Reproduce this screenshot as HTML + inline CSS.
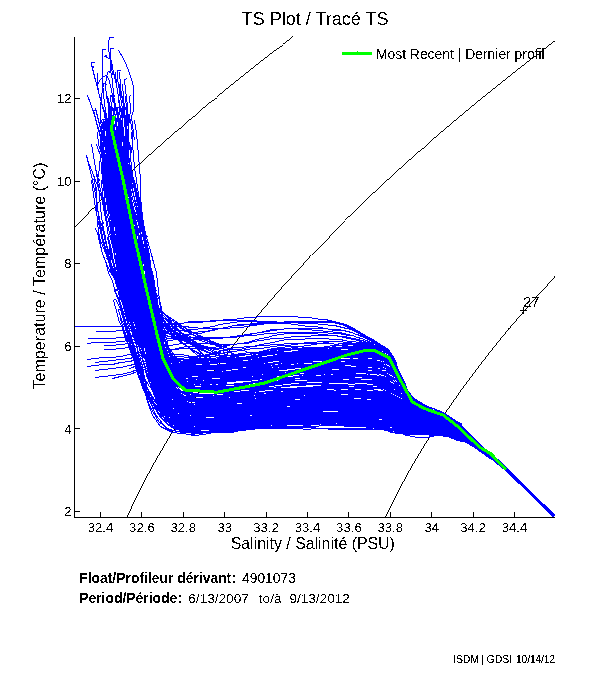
<!DOCTYPE html>
<html><head><meta charset="utf-8"><title>TS Plot</title>
<style>html,body{margin:0;padding:0;background:#fff;}body{width:611px;height:675px;position:relative;overflow:hidden;font-family:"Liberation Sans",sans-serif;}text{white-space:pre}</style></head>
<body>
<svg width="611" height="675" viewBox="0 0 611 675" style="position:absolute;left:0;top:0">
<rect width="611" height="675" fill="#fff"/>
<defs><clipPath id="ax"><rect x="74" y="36" width="481" height="482"/></clipPath></defs>
<g clip-path="url(#ax)" fill="none" shape-rendering="crispEdges">
<path d="M293.1 36.5L287.9 40.5L282.7 44.5L277.5 48.5L272.3 52.5L267.2 56.5L262.1 60.5L257.0 64.5L252.0 68.5L246.9 72.5L241.9 76.5L237.0 80.5L232.0 84.5L227.1 88.5L222.2 92.5L217.4 96.5L212.5 100.5L207.7 104.5L202.9 108.5L198.2 112.5L193.5 116.5L188.8 120.5L184.1 124.5L179.5 128.5L174.8 132.5L170.3 136.5L165.7 140.5L161.2 144.5L156.7 148.5L152.2 152.5L147.7 156.5L143.3 160.5L138.9 164.5L134.6 168.5L130.2 172.5L125.9 176.5L121.6 180.5L117.4 184.5L113.2 188.5L109.0 192.5L104.8 196.5L100.7 200.5L96.6 204.5L92.5 208.5L88.4 212.5L84.4 216.5L80.4 220.5L76.4 224.5L74.5 226.5" stroke="#000" stroke-width="0.99"/>
<path d="M554.5 41.2L550.1 44.5L544.9 48.5L539.7 52.5L534.5 56.5L529.3 60.5L524.2 64.5L519.1 68.5L514.0 72.5L508.9 76.5L503.9 80.5L498.9 84.5L493.9 88.5L488.9 92.5L484.0 96.5L479.1 100.5L474.2 104.5L469.4 108.5L464.6 112.5L459.8 116.5L455.0 120.5L450.3 124.5L445.6 128.5L440.9 132.5L436.2 136.5L431.6 140.5L427.0 144.5L422.5 148.5L417.9 152.5L413.4 156.5L408.9 160.5L404.4 164.5L400.0 168.5L395.6 172.5L391.2 176.5L386.9 180.5L382.6 184.5L378.3 188.5L374.0 192.5L369.8 196.5L365.6 200.5L361.4 204.5L357.2 208.5L353.1 212.5L349.0 216.5L344.9 220.5L340.9 224.5L336.9 228.5L332.9 232.5L329.0 236.5L325.0 240.5L321.1 244.5L317.3 248.5L313.4 252.5L309.6 256.5L305.9 260.5L302.1 264.5L298.4 268.5L294.7 272.5L291.0 276.5L287.4 280.5L283.8 284.5L280.2 288.5L276.7 292.5L273.2 296.5L269.7 300.5L266.2 304.5L262.8 308.5L259.4 312.5L256.0 316.5L252.7 320.5L249.4 324.5L246.1 328.5L242.9 332.5L239.6 336.5L236.4 340.5L233.3 344.5L230.2 348.5L227.1 352.5L224.0 356.5L221.0 360.5L218.0 364.5L215.0 368.5L212.0 372.5L209.1 376.5L206.2 380.5L203.4 384.5L200.6 388.5L197.8 392.5L195.0 396.5L192.3 400.5L189.6 404.5L186.9 408.5L184.3 412.5L181.7 416.5L179.1 420.5L176.6 424.5L174.1 428.5L171.6 432.5L169.1 436.5L166.7 440.5L164.3 444.5L162.0 448.5L159.7 452.5L157.4 456.5L155.1 460.5L152.9 464.5L150.7 468.5L148.5 472.5L146.4 476.5L144.3 480.5L142.3 484.5L140.2 488.5L138.2 492.5L136.3 496.5L134.3 500.5L132.4 504.5L130.6 508.5L128.7 512.5L126.9 516.5" stroke="#000" stroke-width="0.99"/>
<path d="M554.5 276.4L554.4 276.5L550.7 280.5L547.0 284.5L543.3 288.5L539.7 292.5L536.1 296.5L532.6 300.5L529.0 304.5L525.5 308.5L522.1 312.5L518.6 316.5L515.2 320.5L511.8 324.5L508.5 328.5L505.1 332.5L501.8 336.5L498.6 340.5L495.3 344.5L492.1 348.5L488.9 352.5L485.8 356.5L482.7 360.5L479.6 364.5L476.5 368.5L473.5 372.5L470.5 376.5L467.6 380.5L464.6 384.5L461.7 388.5L458.8 392.5L456.0 396.5L453.2 400.5L450.4 404.5L447.7 408.5L444.9 412.5L442.2 416.5L439.6 420.5L437.0 424.5L434.4 428.5L431.8 432.5L429.3 436.5L426.8 440.5L424.3 444.5L421.9 448.5L419.4 452.5L417.1 456.5L414.7 460.5L412.4 464.5L410.1 468.5L407.9 472.5L405.7 476.5L403.5 480.5L401.3 484.5L399.2 488.5L397.1 492.5L395.1 496.5L393.0 500.5L391.0 504.5L389.1 508.5L387.2 512.5L385.3 516.5" stroke="#000" stroke-width="0.99"/>
<g transform="translate(0.5,0.5)">
<path d="M108 120l-2-1 -1 1 2 12 3 12 2 11 1 12 2 13 1 14 3 14 2 15 1 14 2 13 2 11 2 11 2 10 3 9 2 9 2 9 3 8 2 8 3 8 2 8 3 9 2 9 3 8 3 8 4 6 3 5 4 5 5 3 5 3 5 2 7 2 7 1 9 1 8 0 9-1 8-1 9-2 9-2 9-2 9-1 8-1 8-1 9-1 7 0 8-1 8 0 7 0 7 0 7 1 7 1 6 1 7 0 6 0 6 0 6-1 4 0 5 0 4 1 3 2 4 2 4 2 4 2 4 3 4 3 3 2 3 2 3 3 3 2 3 2 4 2 3 2 5 1 4 2 4 1 3 2 4 1 3 1 2 1 3 2 4 2 3 3 4 3 4 3 4 4M104 237l3 13 3 11 4 11 4 9 5 10 5 9 5 9 3 9 2 8 2 8 3 9 4 8 4 8 4 8 3 8 3 6 4 7 3 5 4 5 4 4 6 3 7 2 7 1 8 1 9 0 8 0 9 0 9-1 9-3 9-2 9-3 9-1 8-1 8 0 8 0 7 0 8 0 7 0 8 0 7 0 7-1 7-1 7 0 6 0 6 0 6 2 5 2 4 2 5 2 4 2 4 2 4 2 5 2 4 2 4 2 4 1 4 2 3 2 4 2 3 1 3 2 4 1 3 1 3 1 3 1 3 0 3 1 3 1 2 1M127 223l2 14 2 13 2 11 2 11 2 10 2 9 2 9 2 9 2 8 2 8 2 7 2 8 3 8 2 7 2 9 3 7 2 8 3 6 4 5 4 4 4 4 5 3 7 2 8 1 8 0 8 0 9 0 8 0 9 0 9-1 9-2 8-1 9-2 8-1 8-1 8 0 8 0 7-1 8 0 7 0 8 0 6 0 7 1 7 0 6 1 6 0 6 1 5 1 4 1 4 1 4 2 4 1 5 2 4 2 4 2 4 2 4 2 3 2 3 2 3 2 4 2 3 1 4 2 3 1 4 2 4 1 3 1 3 1 3 1 3 1 2 2 3 2 4 2 3 3 4 3M105 250l5 11 4 11 4 9 5 10 4 9 3 9 3 9 3 8 3 9 4 8 4 8 5 8 5 6 6 4 5 2 6 1 6-1 5-1 6-2 6-2 8-1 8 0 8 0 8 0 8 0 8-1 8-1 8-1 8-2 9-2 8-1 8-2 9-1 8 0 7 0 7 0 6 1 6 1 6 0 6 0 5 1 6 1 5 1 5 1 4 1 4 1 4 0 3 0 3 0 2 2 3 2 2 4 3 5 2 4 2 4 2 5 2 4 3 4 2 5 4 3 5 4 6 2 5 2 6 2 5 2 4 2 4 2 3 2 4 2M115 180l2 14 3 14 3 15 3 14 2 13 2 11 3 11 2 10 3 9 2 9 2 9 2 8 3 8 3 7 4 7 3 7 1 8 2 8 1 9 2 8 3 6 3 6 3 6 4 6 5 5 6 3 7 2 9-1 9 0 8 0 9-1 9-1 9 0 8-1 9 0 8 0 8-1 8 0 8-1 8-1 8-1 8 0 7 0 8 0 7 1 7 1 7 0 7 1 6 1 6 0 5 0 5 1 4 1 4 1 5 1 4 2 5 2 5 3 5 2 4 1 4 2 3 0 3 0 2 1 3 0 3 1 3 1 4 2 3 1 4 2 3 1 2 1 3 1 3 1 3 2 3 2 3 3 4 3 3 3 4 3 4 3M100 180l-2-1 0 1 3 14 2 14 3 15 2 14 2 13 3 11 3 11 3 9 3 10 3 9 2 9 3 9 3 9 4 8 3 9 3 9 4 9 4 9 3 8 3 9 3 7 3 8 4 6 4 5 5 5 7 2 8 1 9-1 8 0 9 0 9 0 8-1 10 0 8-1 9 0 8-1 9 0 7-1 8 0 8 0 8 0 8 0 8 1 8 1 7 2 7 2 8 1 7 0 7-1 6 0 6 0 5 0 4 1 5 1 5 1 4 0 5 1 5 0 5 1 4 1 4 0 4 0 3 1 3 0 3 1 3 1 3 1 3 1 3 1 2 1 3 0 2 1 3 1 2 1 3 1 3 3 3 2 4 3M119 72l1 12 1 12 4 12 5 12 2 12 0 12 -2 11 -2 12 0 13 1 14 3 14 4 15 2 14 2 13 2 11 1 11 1 10 2 9 1 9 1 9 2 8 1 7 1 8 2 7 1 8 2 8 2 8 2 8 2 8 3 7 2 7 3 6 5 5 5 3 7 1 8 0 9 0 9-1 8 0 9-1 8 0 9-1 9-1 8-1 9 0 8-1 8-1 8 0 8-1 7 0 8 0 7 0 8 1 7 0 6 1 7 0 7 1 6 0 6 1 5 2 5 1 4 2 4 1 4 2 5 1 4 2 5 2 4 1 4 2 4 1 3 1 3 2 3 1 4 1 3 1 3 1 3 1 4 1 3 1 3 1 2 1 3 2 3 1 3 2 3 2M107 155l2 12 2 13 1 14 2 14 3 15 4 14 4 13 4 11 3 11 3 10 4 9 3 9 3 9 2 8 1 8 2 7 2 8 4 7 4 6 3 5 4 5 4 4 4 3 4 1 5 2 4 1 6 1 7 1 8 0 8-1 9-1 8 0 8-1 8 0 8 0 8 0 8-1 8 0 8-2 9-1 8-2 8-2 7-1 7-1 7 0 6 0 6 0 6 0 5 0 6 0 5 1 4 1 4 1 4 2 4 1 3 2 3 2 3 3 3 4 2 4 3 4 3 4 2 3 3 3 2 4 2 3 4 3 4 3 6 2 5 3 6 2 5 3 4 2 3 1 3 2 4 1 3 3 4 3 5 4 4 4 4 4 5 4 4 4 4 3M120 120l-4-1 -1 1 3 12 0 12 0 11 1 12 1 13 1 14 1 14 2 15 2 14 3 13 2 11 3 11 3 10 2 9 1 9 2 9 1 8 2 8 2 8 3 7 2 8 3 9 2 8 3 7 3 7 3 6 4 4 4 4 5 2 6 2 7 1 8 0 8 0 9 1 8 0 8 0 9-1 9-1 8-1 9-1 8-1 8 0 8-1 8 0 8-1 7 0 8 0 7-1 7 0 7 1 7 0 6 1 6 1 6 1 6 1 5 1 4 1 4 2 4 1 4 2 4 1 4 2 4 2 4 3 4 2 3 2 3 1 3 2 3 2 3 1 3 2 4 1 4 1 4 2 4 1 3 2 3 1 3 1 3 1 3 2 3 3 4 3 4 4 4 3 4 4 4 3 4 2M120 120l-1-1 -1 1 1 12 1 12 1 11 1 12 2 13 2 14 4 14 3 15 3 14 2 13 1 11 2 11 2 10 3 9 2 9 3 8 2 8 3 8 3 6 3 6 3 6 3 5 3 4 3 4 3 3 4 3 3 1 5 0 5 0 6-1 7-1 8-1 8 0 9-1 7 1 8 0 8-1 8-1 8-1 8-1 8-1 8 0 8 0 8-1 7-1 7-1 7-2 7-2 6-1 5 0 5-1 6 0 4-1 5-1 4 0 3 0 4 2 3 2 2 3 3 5 3 4 2 5 2 4 1 5 2 4 2 4 1 5 2 5 3 5 4 4 5 3 6 3 6 2 7 3 5 2 5 3 4 2 3 2 4 2 4 3 5 4 4 5 5 4 5 5 5 5 4 4M120 155l3 12 2 13 1 14 2 14 1 15 3 14 3 13 3 11 2 11 3 10 2 9 1 9 2 9 1 8 2 7 4 7 3 7 3 6 2 6 2 7 3 6 4 4 4 2 3 2 4 2 5 2 5 2 6 2 8 0 8 0 9-1 9-1 8-1 9-2 8-1 8-1 8-1 8 0 8 0 8 0 8-1 8 0 6 1 7 1 7 2 6 1 6 0 6 0 6 0 6 0 5 1 5 0 5 1 4 0 3 0 3 0 3 0 3 1 3 3 3 4 3 4 3 4 3 4 2 4 3 3 3 4 3 3 5 3 5 2 5 2 5 2 4 2 4 1 3 1 3 1 4 2M100 132l-2-1 -1 1 1 12 4 11 5 12 4 13 2 14 0 14 0 15 1 14 2 13 2 11 2 11 2 9 3 10 3 9 4 9 3 9 2 8 3 9 3 8 3 8 4 9 4 8 4 6 5 5 6 2 5 0 6 0 6-2 7-1 7-1 8 0 9-1 8-1 9 0 8-1 8-2 8-1 9-1 8-1 8-1 8-1 9-1 8-2 8-1 7-2 7 0 6 0 6 1 6 1 5 1 6 1 5 1 6 0 4 1 4 0 4 1 4 1 3 2 3 2 3 2 2 2 2 3 2 3 3 4 2 4 3 5 3 5 3 4 4 4 5 2 4 2 6 2 5 1 4 2 4 2 4 2 3 1 4 3 4 2M117 250l3 11 3 11 3 9 2 10 3 9 2 9 2 9 2 8 2 9 3 8 2 10 3 9 3 10 3 9 3 8 4 7 3 6 4 5 5 4 6 3 7 2 8 0 9 0 8-1 9 0 9 0 9-1 8-1 9 0 9-1 8 0 8-1 8-1 8-1 8 0 8-1 8 0 8 1 7 0 7 1 8 1 7 1 6 0 7 1 6 1 5 1 5 1 5 2 4 1 5 2 5 1 5 2 5 1 4 1 5 1 3 1 4 0 3 1 3 0 3 1 4 1 3 1 3 1 2 1 3 1 3 1 2 1 3 1 2 1M104 120l0 12 1 12 4 11 6 12 5 13 3 14 2 14 1 15 2 14 2 13 3 11 2 11 2 10 2 9 2 9 2 9 2 8 2 8 3 7 3 7 4 7 3 6 3 7 4 5 3 4 4 3 4 2 5 2 4 1 6 2 7 1 7 0 9 0 8-1 9-1 8-2 9-2 8-1 9-2 8-1 8-2 9-1 8-1 8-1 7-1 7 0 7 0 6 0 7 1 6 0 5 0 6 0 6 1 5 0 4 1 4 1 4 0 3 2 4 1 3 2 3 3 2 4 3 4 3 3 2 4 2 2 2 4 2 3 2 4 4 4 5 3 6 3 6 2 5 2 5 2 4 2 3 2 4 1M144 317l-2-1 -1 1 2 8 3 8 2 8 3 8 3 8 2 8 3 8 3 7 4 6 3 5 4 4 5 4 5 3 6 3 7 2 8 2 8 1 9 0 8 0 9-1 9 0 9 0 8 0 8-1 8 0 8-1 8-2 9-1 8-1 7-1 8 0 7 0 7 1 7 0 7 0 7 0 6 0 6 0 5 0 4 1 5 0 4 1 4 2 4 1 4 1 4 2 4 2 4 1 3 3 4 2 4 3 4 3 4 1 3 2 4 1 2 0 3 1 3 0 3 1 3 1 2 1 3 2 3 2 4 2M107 120l-3-1 -1 1 1 12 2 12 3 11 3 12 2 13 2 14 4 14 3 15 2 14 3 13 2 11 3 11 2 10 1 9 1 9 1 9 2 8 2 8 2 8 3 8 3 8 4 8 4 7 4 5 5 5 4 3 4 2 5 2 5 1 5 2 7 1 8 0 8 0 9-1 8 0 8-1 9 0 8-2 9-1 8 0 8-1 8 0 8 0 8 0 7-1 8 0 7-1 7-1 7 0 6 0 6 0 6 0 6 1 5 0 5 1 5 1 4 1 4 2 3 2 4 2 3 3 4 3 3 2 3 3 3 2 2 3 3 3 2 3 3 3 4 2 4 3 5 2 5 2 4 2 5 1 3 2 4 2 3 1 3 2 4 3 3 2 4 4 4 4 5 3 4 4M121 271l-2 0 -1 1 3 9 3 10 4 9 3 9 4 9 4 8 3 8 4 8 4 8 4 7 5 6 4 5 5 4 4 3 4 2 4 3 5 1 6 2 6 1 8 2 8 0 8 0 9 0 8-1 8-1 9-2 9-1 8-1 8-1 8-2 9-1 8-3 8-1 8-2 7 0 6 1 6 2 6 3 6 2 6 2 6 0 5 0 5-1 5 0 4-1 3 1 4 1 3 2 3 2 3 2 3 3 3 3 3 4 3 3 2 4 3 3 3 4 4 2 4 3 4 2 5 1 5 2 5 2 3 1 4 2 3 2 3 2 4 2 4 3 4 4 4 4 5 4 4 4 4 3 4 3 4 3 5 4 6 6 8 8 9 9 10 10 10 10 10 10M134 272l-4-1 -1 1 3 10 3 9 3 9 2 9 2 8 3 8 3 8 4 7 3 7 4 6 4 6 4 4 5 3 4 2 5 1 4 1 5 1 5 1 7 0 8 0 8 0 9-1 8-1 8-1 9-1 8-2 8-2 8-1 9-1 8-1 8-1 8-2 8-1 7-1 7 0 6 0 6 0 5 1 6 2 5 1 6 1 5 1 4 0 4 1 4 1 3 1 3 2 3 2 3 3 2 3 3 3 2 4 2 4 2 4 3 4 2 4 3 4 3 3 5 3 5 3 6 2 5 1 5 2 4 2 4 2 3 2 4 2 4 3 4 4 5 4 5 5 4 5 5 4 4 4M122 180l3 14 3 14 4 15 3 14 2 13 2 11 2 11 2 10 3 9 3 9 3 8 2 8 2 8 2 6 3 6 2 7 2 6 2 6 2 7 2 5 2 6 3 5 3 5 4 4 5 4 6 3 7 2 8 1 8 0 9 0 8-2 9-2 9-2 9-2 9-2 8-1 8 0 8-1 8 0 8-1 7 0 7 0 7 1 7 0 7 1 6 1 6 0 6 0 6 0 6 1 4 0 4 0 4 1 4 2 4 2 3 2 4 3 4 2 3 3 4 3 3 2 3 3 3 3 3 2 3 3 4 1 4 2 5 1 4 2 4 1 3 2 3 1 3 1 3 2M147 317l2 8 1 7 2 8 1 8 1 9 1 10 1 10 1 10 2 9 3 9 3 7 5 5 5 4 7 2 8 1 8 1 8 1 8 2 9 0 9 0 9-1 10-1 9-1 8-2 8-1 8 0 8-1 8 0 8 1 8 0 8 0 8 0 8 0 7 0 8 0 7 1 7 0 6 1 6 1 5 1 5 2 4 2 5 1 6 1 5 0 5 1 5 0 5 1 4 0 4 0 3 0 4 0 2 0 3 1 3 1 2 0 3 1 2 1 3 1 2 1 2 0M118 194l2 14 2 15 2 14 3 13 3 11 4 11 4 10 3 9 2 9 2 9 1 8 2 8 3 7 2 7 4 7 3 6 4 6 4 4 4 4 5 1 4 1 5 0 5-1 6 0 7 0 8-1 9 0 8-1 8 0 8 0 8 0 8-1 8-1 8-1 8-1 8-1 8-1 8 0 8-1 7-1 7 0 6-1 6-1 6 0 5 0 6 0 5 0 5 0 4 1 4 1 3 1 4 1 3 2 3 3 2 4 3 4 2 5 2 4 3 4 2 4 2 4 2 4 3 4 4 4 5 3 5 3 6 2 6 2 5 3 4 1 3 2 4 2 3 2 4 2 4 4 5 4 5 5 4 5 5 4 4 4M143 300l-4-1 -1 1 3 9 1 8 1 8 0 9 2 8 3 9 2 9 3 9 3 8 3 8 4 6 3 5 4 5 5 4 6 2 7 2 7 1 9 0 8 0 9 0 8 0 9 0 9 0 8-1 9 0 8-1 8-1 8 0 8-1 8 0 8 0 8 0 7 0 8 1 7 0 7 1 7 0 7 1 6 1 6 1 5 2 5 1 5 2 4 0 4 0 5 1 4 0 4 1 5 2 4 1 3 1 4 1 3 1 3 2 3 1 4 1 3 2 4 1 3 2 3 1 3 1 2 0 3 1 2 1 3 1 3 2 4 3 3 3 4 3 4 4M107 180l1 14 3 14 6 15 6 14 5 13 3 11 4 11 3 10 4 9 2 9 3 9 2 8 2 7 1 8 1 7 1 8 1 9 1 10 1 9 2 10 2 9 2 8 3 8 4 6 6 4 7 2 7 1 9 0 8 0 9 0 9 0 9 0 9-1 9-1 9 0 8-1 8 1 7 1 8 1 7 1 8 1 8-1 9-1 8-1 8-1 8-2 7 0 7 0 7 1 6 1 6 2 5 2 4 1 5 2 5 1 5 1 5 1 6 0 5 1 4 1 5 0 4 1 3 0 4 1 3 0 3 1 3 1 2 1 2 0 3 1 2 1 2 0 2 1 3 1 2 1 3 1M104 132l0 12 -2 11 0 12 1 13 4 14 4 14 4 15 2 14 3 13 2 11 2 11 3 9 3 10 3 9 3 9 3 8 2 9 2 8 2 8 3 9 2 9 2 10 2 9 3 9 3 7 3 7 4 7 3 7 4 8 6 6 6 4 9 1 8-1 10-2 9-2 10-3 10-2 9-2 9 0 8 1 8 1 7 1 8 0 8 0 8-1 8-1 9-1 8 0 8-1 7 0 8 1 7 1 7 1 6 2 6 1 5 1 5 1 5 1 4 1 6 0 5 1 5 0 5 0 5 0 4 1 4 0 3 0 3 0 4 1 3 0 2 1 3 1 2 1 3 1 2 1 2 0 3 1 2 1M127 250l2 11 2 11 3 10 3 9 4 9 2 9 2 8 1 8 1 8 2 8 4 7 4 7 4 6 4 5 4 5 4 3 3 3 5 2 5 1 6 0 7 1 8 0 8-1 9-1 8-1 8 0 9-1 8-1 8-1 8-1 9-1 8-1 8-1 8-1 8-1 7-1 7 0 7 0 6 1 6 0 6 0 6 0 5 0 6 0 4 1 5 1 3 1 4 1 3 2 3 2 3 2 3 3 3 4 3 3 3 4 2 4 3 4 3 3 3 4 3 3 4 2 5 2 5 2 5 2 5 2 4 2 3 1 3 2 4 1 3 3 4 3 5 4 4 4 5 5 4 4 4 3 4 3M117 250l-3-1 -1 1 4 11 3 11 3 9 3 10 2 9 3 9 3 9 3 8 3 9 3 8 3 9 3 9 3 9 3 9 3 8 3 6 4 6 4 5 5 4 5 3 7 2 8 1 8 0 9 0 8 0 9 0 9 0 9-1 9-1 8-1 9 0 8-1 7 0 8-1 8 0 8 0 8 0 8 0 7 0 8 0 7 0 7 1 6 0 7 0 6 1 5 1 5 2 5 1 4 2 5 2 4 1 5 1 5 1 4 1 4 0 4 1 3 1 3 1 4 2 4 1 3 2 4 1 3 1 3 1 2 1 3 1 2 0 2 1 3 1 3 1 3 3 3 2 4 3 3 3 4 3 4 3 4 3M119 167l-2-1 0 1 4 13 4 14 3 14 4 15 4 14 4 13 3 11 2 11 3 10 2 9 2 9 1 8 1 8 1 8 1 7 2 6 2 7 2 7 2 7 2 7 1 8 3 6 2 6 3 6 4 6 4 5 6 3 8 2 8 0 8 0 9-1 9-1 9-1 9-2 9-1 8-1 9-2 8-2 9-2 8-1 8 0 7 0 7 0 8 1 7 0 6 1 7 0 7 1 6 0 6 1 6 2 5 1 4 1 4 1 4 1 4 1 4 1 4 2 4 2 4 2 4 1 3 2 3 2 3 2 3 2 4 2 4 2 4 2 4 1 3 2 4 1 3 1 3 1 2 1 3 1 3 2 4 3 3 3 4 3 4 4 4 3 4 3 4 3M137 208l2 15 2 14 1 13 1 11 2 11 1 10 1 9 1 9 2 8 2 8 2 8 1 7 0 8 0 8 0 9 0 11 1 10 1 10 2 10 3 8 3 6 5 5 6 2 7 2 8 1 8 1 9 1 8 0 8 1 9 0 10-1 9-1 8 0 9-1 8 0 8-1 7 0 8 0 8 0 8 1 8 0 8 0 8 0 8 0 7-1 7-1 7 0 6 1 6 1 5 2 4 3 5 2 5 2 5 1 6 1 5 0 5 1 5 1 4 0 4 0 4 0 3 1 3 0 2 0 3 1 2 1 3 0 2 1 2 0 2 1 3 0 2 1 3 2 3 2 3 2M115 96l-2-1 -1 1 3 12 3 12 1 12 0 12 -2 11 -1 12 0 13 2 14 3 14 2 15 3 14 1 13 1 11 1 11 2 10 2 9 2 9 2 9 2 8 1 9 2 8 2 9 2 9 2 10 1 10 2 11 3 9 3 8 4 7 4 5 5 4 6 3 8 1 8 0 8 0 9 0 8 0 9 1 8-1 10 0 9-1 8 0 8-1 8 0 8 0 8 0 8 0 8 0 8-1 8 0 8 0 8-1 7 0 7 1 7 0 7 1 6 1 5 1 5 1 5 1 5 1 4 0 5 1 5 0 5 1 4 2 5 1 5 2 4 1 4 1 3 1 3 0 3 0 2 1 3 1 2 1 3 0 3 1 2 1 2 1 3 1 3 1 2 2 3 2 4 3 3 2 4 3 4 3 4 3M95 108l3 12 3 12 3 12 2 11 2 12 2 13 3 14 2 14 2 15 4 14 2 13 3 11 1 11 0 9 1 10 2 9 3 9 4 9 3 8 3 8 2 8 3 9 2 9 2 10 2 9 2 10 3 8 3 7 4 6 4 5 6 5 6 3 8 2 8 0 9-1 9 0 9-1 9-1 9-1 9-1 9-1 8 0 9-1 7-1 8 0 8-1 8 0 9-1 8 0 7-1 8 0 7 1 7 1 7 1 7 1 6 1 5 1 5 1 5 0 4 1 5 0 5 1 5 1 5 1 4 2 5 1 4 1 4 1 3 0 4 1 3 1 3 1 3 1 3 1 3 1 3 1 2 1 3 1 2 1 3 1 2 1 3 2 3 2 3 2 3 3 4 3 4 2 4 3M105 167l2 13 2 14 3 14 3 15 2 14 3 13 2 11 2 11 2 9 4 10 3 9 3 9 2 8 2 9 2 8 2 9 2 9 2 9 2 10 3 10 3 8 3 8 4 6 4 6 5 4 5 3 7 3 8 1 8 0 9 0 8 0 9 0 8 0 9 0 9 0 9 0 8-1 8-1 9-1 8-1 8-1 8 0 8 0 8-1 7 0 8-1 7 0 7 0 7 1 7 1 6 1 5 2 5 2 5 1 4 1 5 1 5 0 5 1 4 1 5 0 4 1 4 1 4 1 3 1 3 1 4 0 3 2 3 1 3 1 3 1 3 1 2 1 3 1 2 0 3 1 2 2 3 2 3 2 4 3M105 120l1 12 -1 12 -1 11 0 12 2 13 4 14 5 14 4 15 3 14 2 13 3 11 3 11 3 10 4 9 3 9 4 9 2 8 1 8 0 8 3 8 3 7 5 6 5 4 5 4 5 3 4 2 4 1 5 1 4 1 6 1 6 1 8 1 8-1 9 0 8-1 8-1 8-1 8-1 9-1 8-2 8-1 9-2 8-1 8 0 7-1 7-1 7-1 7-1 6 0 6 0 5 0 6-1 5 0 5 0 4 0 4 1 3 0 3 1 3 0 3 2 2 3 3 4 2 5 2 5 2 5 3 5 2 5 2 4 3 5 5 4 5 3 6 3 6 3 5 2 5 2 4 2 4 2 3 2 4 2 4 3 4 3 4 4 5 4 4 5 5 4 4 3 4 3M122 96l1 12 2 12 2 12 2 12 1 11 -1 12 0 13 0 14 3 14 3 15 4 14 3 13 2 11 1 11 2 10 1 9 2 9 2 8 2 8 2 7 2 7 1 7 2 7 1 7 2 7 1 8 2 7 2 7 3 6 3 6 4 5 4 4 7 3 7 1 8 1 9 0 8 0 8 0 9 1 9 0 8 0 9-1 8 0 8-2 9-2 8-2 8-2 8-1 7 0 8 0 7 0 7 0 7 0 7 0 6 0 6 1 6 0 5 0 4 1 4 1 4 2 4 2 5 3 4 3 4 2 5 2 3 2 4 1 3 2 3 1 3 2 3 2 4 1 3 1 4 1 3 2 4 1 3 1 3 1 3 1 2 2 4 2 3 2 3 3 4 3M127 108l1 12 0 12 0 12 -1 11 -2 12 0 13 1 14 3 14 2 15 2 14 2 13 3 11 4 11 3 10 2 9 1 9 1 9 0 8 0 8 0 7 1 9 0 8 1 10 2 10 2 10 3 8 3 7 4 5 4 5 5 4 5 3 7 2 8 0 9 0 8 0 9 0 8-1 9 0 9-1 9-1 9-1 8-1 8 0 8-1 8 0 8 0 8 0 7 0 8 1 7 0 8 1 7 1 7 0 6 0 7-1 6-1 5 0 5 0 4 1 4 2 5 2 4 2 5 2 5 2 4 2 4 1 4 1 4 2 3 1 3 1 4 1 3 2 3 1 4 1 3 1 3 1 2 1 3 1 2 1 3 0 3 2 3 2 3 3 3 3 4 3M105 120l2 12 2 12 0 11 0 12 1 13 1 14 3 14 5 15 3 14 2 13 1 11 0 11 0 9 2 10 3 9 2 9 3 9 2 8 3 9 3 8 3 9 2 9 4 9 3 8 4 7 4 5 4 6 4 4 4 5 6 3 6 2 8 1 9 0 9-2 9-1 9-2 9-2 9-1 8-1 9-1 8 0 8-1 8 0 8 0 8-1 7 0 8 1 7 0 8 0 7 0 7 1 6 1 7 1 6 1 6 1 5 1 5 1 4 1 4 1 4 1 5 2 4 1 4 1 4 1 3 1 4 1 3 2 3 2 3 2 4 1 4 2 4 2 3 1 4 1 3 1 3 1 2 1 3 1 3 2M146 308l-4 0 0 1 1 8 2 8 1 8 2 8 2 9 2 9 1 9 2 10 3 9 2 8 3 7 4 7 4 6 5 4 7 3 8 1 8-1 9-1 9-1 9-1 9-2 10 0 8-1 9 0 8 0 8 0 8 0 8-1 8 0 7 0 8 1 8 0 8 0 8 0 7-1 7-1 7-2 7 0 6 0 5 2 5 2 5 3 4 2 5 2 5 1 5 1 5 1 5 1 4 1 4 1 4 1 3 0 4 1 3 0 3 1 2 1 3 1 3 1 3 1 2 1 3 1 2 1 3 1 2 1 3 2 3 2 4 3 3 3 4 3 4 2M114 144l-2 11 -2 12 1 13 2 14 2 14 2 15 3 14 2 13 2 11 3 11 2 10 3 9 4 9 3 9 3 8 1 8 2 8 2 8 3 8 4 8 4 7 4 6 4 5 4 3 5 2 5 1 5 2 5 2 6 2 8 2 8 0 8 0 9-1 8-1 9-1 8-1 9-1 8-1 8-1 9-2 8-1 8-1 8-1 7 0 7 1 7 0 6 1 6 1 7 1 6 0 6 0 5 1 5 2 5 1 4 2 4 1 4 1 3 1 4 2 3 3 4 2 3 3 3 2 2 2 3 2 2 3 3 2 3 3 4 2 5 2 5 2 4 1 4 2 4 2 3 1 4 2 3 2 3 2 4 3 4 4M101 180l1 14 3 14 4 15 5 14 4 13 3 11 3 11 2 9 3 10 3 9 2 9 2 9 3 8 4 8 3 8 5 7 4 7 4 7 5 4 5 3 5 3 4 2 4 2 4 2 6 2 6 1 8 0 9-1 9-1 8-2 9-1 8-1 8-2 9-2 8-2 9-1 8-2 8-1 8 0 7 1 7 1 7 1 6 1 7 1 6 0 6 0 6-1 5 0 6 1 4 0 5 0 3 0 4 0 3 1 3 1 3 3 3 4 3 4 2 5 3 4 3 3 2 4 3 3 2 3 4 3 4 3 5 2 5 2 6 2 5 3 4 2 4 2 3 2 3 2 4 2 4 3 4 3M104 144l2 11 3 12 2 13 3 14 3 14 4 15 4 14 3 13 2 11 2 11 1 10 2 9 3 9 2 9 3 8 2 8 2 8 2 8 2 8 2 9 2 9 2 9 3 8 3 7 2 7 4 6 4 6 5 5 6 3 8 1 8 1 8 2 8 1 9 0 9 0 9-1 9 0 9-1 8-1 8 0 8 0 8-1 8-1 8-2 8-1 9 0 7 0 8 0 7 1 7 1 7 1 7 0 6 1 5 1 5 0 5 1 4 0 5 1 5 1 5 1 5 1 4 1 5 1 4 1 3 1 4 1 4 1 3 1 4 1 3 1 2 1 3 1 2 1 3 1 2 0 2 1 3 1 3 1 3 2 3 2 3 3 3 3 4 3 4 2 4 3M115 120l1 12 2 12 2 11 2 12 3 13 3 14 3 14 3 15 4 14 3 13 3 11 3 11 2 10 3 9 2 9 3 8 1 8 0 7 1 7 0 7 -1 8 0 9 1 9 0 10 1 10 2 8 3 8 4 6 4 4 6 3 7 1 8 1 8 0 9-1 9 0 8-1 9-1 9 0 9-1 9-1 8 0 8-1 8 0 8 0 7 1 8 0 8 1 8 0 7-1 8-1 7-1 7-1 7 0 6 1 6 1 5 1 5 2 4 2 5 1 4 2 5 1 5 2 4 2 5 2 4 1 4 1 3 1 3 0 3 0 3 1 3 1 3 2 4 1 3 1 3 2 3 1 3 1 2 0 3 1 3 2 3 2 3 3 3 3 4 3 4 3 4 3M105 180l1 14 2 14 1 15 2 14 2 13 2 11 3 11 2 9 4 10 3 9 4 9 4 9 3 8 4 8 4 8 5 7 5 6 6 5 6 3 5 1 5 1 5 0 4 0 5 1 6 0 6 0 8 1 8-1 9 0 8-1 8-2 9-2 8-3 9-2 8-2 8-1 8-1 8 0 8 1 7 0 7 0 6 0 6 0 6 1 6 0 5 0 6 0 5 0 5 0 4 0 4 0 3 0 3 1 3 2 3 3 3 5 2 6 3 5 3 5 2 4 2 4 1 3 2 4 2 3 4 4 4 3 6 3 7 2 6 3 5 2 4 2 4 2 4 2M110 72l-2-1 -1 1 -2 12 1 12 3 12 4 12 2 12 1 12 3 11 2 12 2 13 1 14 0 14 1 15 1 14 3 13 3 11 3 11 3 10 2 9 1 9 2 9 1 8 2 8 2 8 3 7 2 8 1 9 2 9 1 10 2 9 2 8 3 8 3 7 4 6 5 5 7 3 7 1 9 1 8 0 9 0 8 0 9 0 10-1 9-1 8 0 9-1 8-1 8 0 8-1 8 0 8 0 8-1 8 0 8 0 7 0 8 1 7 1 7 1 7 2 6 1 6 2 5 1 5 1 4 1 5 1 5 1 5 0 6 1 5 0 4 1 4 0 4 0 4 1 3 0 3 0 2 0 2 0 3 0 2 1 3 1 3 1 2 1 3 1 2 1M121 180l2 14 2 14 3 15 3 14 2 13 3 11 2 11 3 10 2 9 3 9 2 9 2 8 2 7 2 7 2 7 3 7 3 6 2 7 2 7 3 6 3 5 3 4 4 4 4 2 6 1 7 1 8 1 8-1 9 0 8-1 8 0 9-2 8-1 9-1 8-1 9-1 8-1 8-1 8-1 8-1 7 0 7-1 7-1 7-1 6-1 7-1 6 0 5 0 5 2 5 3 5 2 4 3 4 2 3 1 4 3 4 3 3 3 4 4 3 3 3 2 3 3 3 2 2 2 3 3 3 2 4 2 5 2 5 2 4 2 4 2 4 1 3 2 3 1 3 1 4 3 3 2 4 4M125 96l1 12 0 12 0 12 -1 12 -2 11 0 12 3 13 3 14 4 14 3 15 2 14 1 13 1 11 2 11 1 10 2 9 1 9 2 9 1 8 2 7 2 8 2 6 3 7 3 7 4 5 3 5 4 4 4 3 4 2 4 2 5 0 5 1 7 0 8 0 8 0 9-1 8-1 9-1 8-2 9-2 8-2 8-2 9-1 8-1 8-1 8-1 8 0 7-1 6 1 6 1 6 2 6 2 5 1 6 1 5 0 6 0 4 0 4 0 4 0 3 1 3 2 3 2 3 3 3 3 3 4 2 4 3 4 2 3 1 3 2 4 3 3 3 4 5 2 5 3 6 2 5 2 5 2 5 2 3 2 4 2 4 3M116 132l-2-1 -1 1 2 12 0 11 0 12 1 13 2 14 4 14 4 15 3 14 2 13 2 11 2 11 3 10 2 9 2 9 2 9 2 8 2 8 2 7 2 8 1 8 2 9 1 9 2 9 2 9 2 9 2 8 3 7 4 6 5 5 7 2 8 1 8 0 10-2 9-1 9-2 9-2 9-1 9 0 8 0 8 1 8 0 8 0 8 0 8 0 8 0 7 1 8 0 8 0 8 1 7 0 7 0 7 1 7 1 6 0 5 1 5 1 5 1 5 2 4 1 5 1 5 0 5 0 4 0 4 1 4 0 4 1 3 1 4 1 4 2 3 1 3 1 3 1 3 1 2 1 3 0 2 1 2 0 3 1 2 2 3 2 4 2 3 3 3 3 4 3M124 120l1 12 0 12 0 11 1 12 1 13 2 14 2 14 3 15 5 14 4 13 4 12 3 10 2 10 2 9 1 9 2 8 2 8 1 7 1 7 1 6 1 6 2 7 2 6 1 7 2 8 1 6 3 6 3 5 4 4 5 4 6 2 8 2 8 1 8 1 8 0 9-1 8-1 9-1 9-2 9-1 8-1 8-1 8 0 8-1 8 0 7 0 8 0 7-1 7 0 7 0 7 0 6 0 6 0 6 0 6 0 4 1 5 0 4 1 3 2 4 2 4 2 4 3 4 3 4 3 4 3 3 2 3 2 3 2 3 2 3 2 4 1 4 2 4 1 4 1 3 1 4 2 2 1 3 1M126 272l3 10 2 9 2 9 2 9 3 9 3 8 3 8 3 8 3 7 4 8 4 7 4 6 4 4 5 4 4 3 4 2 4 2 6 2 7 0 9-1 9-2 9-3 9-2 8-1 8 0 8 0 8 0 8 0 8 1 8-1 8-1 9-1 7-1 8-1 7-1 7 0 6 0 7-1 6-1 6 0 5-1 6 1 4 1 5 3 4 2 3 3 4 2 3 3 4 2 3 3 3 3 4 4 3 3 3 3 2 3 3 2 2 3 4 2 4 3 4 1 5 2 5 2 4 2 4 1 3 2 3 1 4 2 3 2 4 3 4 4 4 4M130 291l2 9 1 9 3 9 2 8 3 8 3 9 3 8 4 8 5 7 5 6 5 3 5 2 5 1 5 0 7-2 6-2 8-1 8 0 8 0 8 1 8 0 8-1 8-1 9-2 8-1 8-1 8-1 9-1 8-1 8 0 7-1 7 0 7 0 6 0 7-1 6 0 6 0 5-1 6 0 5 1 4 0 4 1 4 1 3 1 3 2 3 2 3 3 3 4 3 4 2 5 3 4 2 3 3 4 2 3 2 4 3 3 5 2 5 3 6 2 6 2 5 3 4 2 4 2 3 1 3 2 4 3 4 3M145 299l-4 0 -1 1 3 9 3 8 2 8 3 7 2 7 1 8 2 8 3 8 2 8 3 6 4 6 3 5 3 6 4 5 5 4 6 4 7 1 8 1 9-1 8 0 9 0 9-1 9-1 9-1 8-1 9-1 8-1 8-1 8-1 8 0 7 0 8 0 7 0 8 0 7 1 7 0 6 0 7 0 6 0 6 1 5 0 4 1 5 2 4 2 4 2 5 2 4 2 4 2 5 2 4 2 4 2 3 1 3 2 4 1 2 1 3 0 3 1 3 1 3 1 4 1 3 1 3 2 3 1 3 2 3 2 3 2 4 3 3 3 4 3 4 3 4 3 4 3M121 96l-2-1 -1 1 1 12 1 12 0 12 -1 12 1 11 1 12 2 13 2 14 2 14 3 15 3 14 3 13 2 11 3 11 2 10 3 9 2 9 1 9 2 8 1 7 1 7 1 8 1 8 1 9 1 9 2 9 1 9 3 8 2 8 3 8 3 6 5 5 7 4 7 1 9 1 8 0 9-1 9-1 9-1 9-1 9-1 9 0 9-1 8-1 8 0 7-1 8 0 8 0 8 0 8 0 8 0 8 0 7 0 7 0 7 0 7 0 6 0 5 1 5 1 5 2 4 2 5 1 5 2 5 1 5 1 5 0 4 1 4 0 3 1 4 1 3 0 3 1 3 0 3 1 2 1 3 1 3 1 3 1 2 1 3 1M146 300l3 9 3 7 2 8 1 7 2 7 2 7 4 5 4 5 4 4 4 3 4 2 4 1 4 1 5 0 6 0 6 0 8 0 9-1 8 0 9-1 8-2 8-2 8-1 8-2 8-1 9-2 8-1 8-1 9-1 7-1 7 0 6 0 6 1 6 1 5 1 6 0 5 0 5 0 5 1 4 1 4 2 3 1 4 1 2 1 3 2 3 3 2 4 2 4 2 5 2 4 2 4 2 4 2 4 3 4 3 4 5 3 5 2 6 3 6 2 6 2 4 2 4 3 4 2 4 2 4 4 4 3 5 5M125 167l-3-1 0 1 2 13 2 14 3 14 3 15 2 14 2 13 2 11 2 11 2 10 2 9 2 9 2 9 2 8 3 7 2 7 2 7 1 7 2 8 1 8 1 9 1 9 1 9 2 9 2 9 3 7 5 6 6 4 8 1 9 0 8 0 9 0 9-1 9-2 10-2 9-2 9-1 8 0 8 0 8 0 8 0 7 0 8 0 8 0 8 1 8 1 7 1 8 1 7 0 7 1 7-1 6 0 6 1 5 1 4 1 5 2 5 1 5 1 5 1 5 1 5 0 4 1 4 0 4 1 3 0 3 0 3 1 3 1 2 0 3 1 2 0 3 1 3 1 2 1 3 1 3 1 3 2M103 108l2 12 1 12 1 12 1 11 1 12 2 13 1 14 3 14 2 15 4 14 3 13 4 11 3 11 3 10 3 9 3 9 2 9 2 8 1 8 1 8 2 8 1 9 2 9 2 10 1 10 2 10 2 9 3 8 4 7 4 5 6 4 7 2 8 1 8 1 9 0 8 0 9 0 9 0 9 0 9-1 9 0 8-1 8 0 8-1 8-1 8 0 8 0 8 0 8 0 8 0 8 0 7 1 8 0 7 0 7 0 6 0 6 0 5 1 4 2 5 1 5 1 5 1 5 1 5 1 5 1 5 0 5 1 4 1 3 0 4 1 3 0 2 0 3 0 2 1 2 1 3 0 2 1 3 1 2 1 2 1 3 1 3 2 3 2 3 2M91 144l2 11 2 12 2 13 2 14 1 14 2 15 3 14 2 13 3 11 3 11 3 9 3 10 3 9 4 9 3 9 3 9 3 9 3 9 3 10 3 10 3 9 4 9 4 8 4 7 3 6 5 4 5 4 6 3 7 2 8 1 8 0 8 0 9 1 8 0 9 0 9-1 9 0 9-1 8-1 8-1 8-1 8-1 8 0 8 0 8 1 8 0 7 0 8 1 7 0 7 0 7-1 7 0 6 1 5 0 5 2 5 3 5 3 5 3 5 2 5 1 5 0 4 0 4-1 4 0 3 0 3 0 3 1 4 2 3 1 3 1 3 1 3 1 3 1 2 1 3 1 2 0 3 1 2 2 3 2 4 2 3 3 3 3M146 300l-4-1 0 1 3 9 2 8 1 8 2 7 1 8 2 8 1 9 1 10 2 9 1 10 2 8 3 8 3 8 4 6 6 4 7 2 7 2 9 0 8 0 9 0 8 0 9 0 10-1 9-1 9-1 8-1 8-1 8 0 8-1 8 0 8-1 8 0 8-1 8 0 8 0 7 1 7 1 7 1 7 1 6 1 6 2 5 1 4 1 5 2 5 1 5 1 5 1 5 0 5 0 4 1 4 0 4 0 3 1 4 1 4 1 4 2 3 1 3 1 2 1 2 0 2 0 2 0 2 1 2 0M123 144l1 11 1 12 2 13 3 14 3 14 2 15 1 14 0 13 2 11 2 11 2 10 2 9 2 9 2 9 1 8 1 7 2 8 2 7 3 7 4 6 3 6 3 5 4 5 4 3 3 3 4 2 5 1 6 1 6 1 8 1 8 0 8 0 9 0 8-1 8-1 8 0 8 0 8 0 8 0 9-1 8 0 8-2 7-1 8 0 7-1 7 0 6-1 7-1 6-2 6-2 5-1 6 0 4 1 4 2 4 2 4 2 3 2 3 2 4 3 3 3 2 4 3 3 3 4 3 3 2 4 3 3 3 4 3 3 4 2 5 2 5 2 5 2 5 2 4 1 3 2 3 2 4 2 4 3 4 3 4 4M137 291l2 9 3 9 2 8 2 8 2 8 2 7 3 8 2 8 3 7 4 7 3 6 3 5 3 6 3 6 4 5 5 4 7 2 7 2 8 1 8 1 8 1 9 0 9-1 9-2 9-1 8-1 9-1 8-1 8-1 8 0 8-1 7 0 8 0 7 0 8-1 7 0 7-1 7-1 6-1 6 0 6 1 5 2 4 2 4 2 5 3 4 1 4 2 5 2 4 2 4 2 4 2 4 2 3 1 2 1 3 1 2 1 4 1 3 1 4 2 4 1 4 2 3 1 3 1 2 1 3 2 3 2 4 2 3 3 4 3 4 4 4 3 4 3 4 3M142 325l3 8 2 8 3 9 4 7 4 7 4 6 4 5 4 3 4 4 4 3 4 4 5 3 6 2 8 1 9 0 9-2 9-2 9-2 9-3 8-1 9-1 8-1 8 0 8 0 8-1 8 0 8-1 7 0 7 0 7 0 7 0 6 0 7 0 6 1 6 0 5 0 5 1 5 1 4 1 4 1 4 2 3 2 4 2 3 3 4 3 3 3 4 3 3 2 2 3 3 3 3 2 3 1 3 2 4 1 5 2 5 2 4 2 3 1 4 2 3 1 3 2 4 3 3 3 4 3 5 4 4 4M114 223l3 14 3 13 2 11 3 11 3 9 3 10 4 9 3 9 3 8 2 8 3 8 3 8 4 7 3 7 4 7 4 6 3 5 4 4 4 4 4 3 4 2 6 2 7 1 7 0 9 0 8 0 8 0 9 0 8-2 9-1 8-1 9-2 8-1 8 0 8-1 8 1 7 1 7 1 7 0 7 1 7-1 7 0 6-1 7-1 6 0 5 1 5 0 5 0 4 0 4 0 3 2 4 1 3 3 4 3 3 4 4 3 3 3 3 3 3 3 3 3 3 3 4 3 4 2 4 1 4 2 4 1 4 1 4 2 3 1 3 1 3 2 4 3 3 3 4 3 5 4 4 4M107 132l1 12 2 11 2 12 2 13 3 14 3 14 3 15 3 14 3 13 2 11 3 11 3 10 2 9 3 9 2 9 3 8 2 8 2 7 2 7 3 8 2 7 3 7 2 7 3 7 3 6 2 6 4 5 4 4 5 3 7 0 9 0 9-2 9-1 8-1 9 0 8-1 9-1 8-1 9-1 8-1 8 0 8 0 7 1 8 0 7 1 8 0 7 0 7-1 7 0 7 0 6 0 6 0 6 0 6 1 4 2 5 1 4 1 4 2 4 2 4 2 4 3 4 3 4 2 4 2 3 2 2 1 3 2 3 1 3 2 3 2 4 1 5 2 4 1 4 2 3 1 3 1 3 2 3 1 3 2M114 237l3 13 3 11 4 11 4 9 4 10 3 9 2 9 3 8 2 8 3 8 3 8 3 8 3 8 4 7 4 5 5 4 5 2 5 2 4 1 5 1 6 1 7 1 7 0 8 1 9 0 8-1 9-1 8-2 9-1 8-2 9-1 8-1 8-1 8 0 8 0 7 0 7 0 7 0 7 1 6 0 6 1 6 1 6 0 6 0 5 0 5 0 5 1 4 0 3 1 4 2 3 3 4 3 3 4 3 4 4 3 2 3 3 3 2 2 3 3 2 3 4 2 4 3 5 2 5 2 5 2 4 1 4 2 3 2 3 1 4 2 3 3M122 237l-2-1 0 1 2 13 2 11 2 11 1 9 2 10 3 9 3 9 3 8 3 9 2 8 2 8 2 9 3 9 2 9 3 9 3 8 4 6 4 6 4 4 5 3 6 3 7 1 7 1 9 0 8 0 9-1 9-1 9-1 9-1 9-1 8-1 9-1 8-1 8-1 8 0 7 1 7 1 8 1 7 1 8 1 7 0 7 0 7-1 7 0 6 0 6 1 5 0 5 1 4 1 4 0 4 2 5 1 4 2 4 1 4 2 4 2 4 1 3 2 4 2 3 1 4 2 3 2 4 1 3 1 4 2 3 1 2 1 3 1 3 0 2 2 3 1 3 2 4 3 3 3 4 3 4 3M123 132l-2-1 0 1 2 12 3 11 4 12 3 13 3 14 3 14 3 15 3 14 3 13 2 12 1 10 2 10 2 9 2 9 1 8 2 8 1 7 1 6 2 6 1 6 1 7 1 7 1 7 2 8 1 7 2 6 2 7 4 6 4 6 6 4 7 2 9 0 8 0 9 0 8-1 9 0 9-1 8-1 9 0 8-1 8-1 8 0 8 0 8 0 8-1 7 0 8-1 8-1 7-1 7 0 7 0 6 0 6 1 6 2 5 1 4 1 5 2 4 0 4 0 4 0 3 0 4 2 4 2 4 3 4 2 3 3 4 2 3 2 4 2 3 2 4 1 4 2 4 1 3 2 3 1 2 1 3 0 3 2 3 1 3 3 4 3M121 223l5 14 4 13 4 11 2 11 3 10 2 9 2 9 3 9 2 8 2 7 2 8 2 7 1 8 1 8 2 9 2 9 2 8 2 8 2 8 3 7 4 5 5 5 7 3 8 0 8 0 9-1 9-1 9-1 9-1 9-1 9-1 8 0 8 0 8 0 8-1 8 0 8-1 8-1 8 0 8-1 8 0 7 1 7 0 7 0 7 1 6 0 6 1 5 1 5 2 5 3 4 2 5 2 4 1 5 1 5 1 4 1 5 1 3 1 4 1 4 1 3 1 3 1 4 1 3 2 3 1 2 0 3 1 2 0 3 1 2 0 3 2 3 1 3 2 3 3 3 3 4 3 4 3 4 3 4 2M126 237l-3-1 -1 1 1 13 0 11 2 11 3 9 3 10 3 9 3 9 2 8 2 9 2 8 3 8 2 8 2 10 2 10 2 9 4 8 4 6 3 5 4 6 4 5 6 4 6 3 7 2 9 1 8 0 9 0 8 0 9-1 9 0 9 0 9-1 8 0 8-2 8-1 9-2 8-1 8-1 8 0 7 0 8 0 7 1 8 0 7 0 6 1 7 0 6 1 5 1 5 2 5 1 4 2 5 2 5 1 5 2 5 1 4 1 5 1 4 1 3 1 4 1 3 0 3 1 3 1 3 1 3 1 3 1 3 1 2 1 2 0 3 1 2 0 3 2 3 2 3 2 4 3 3 3 4 3 4 3M134 180l3 14 3 14 3 15 2 14 2 13 2 12 2 10 2 10 1 9 2 9 1 8 1 8 1 7 1 7 0 7 1 7 0 7 1 8 2 9 2 7 2 7 2 7 3 6 4 4 6 3 7 1 8 0 9 0 8-1 9-1 8 0 9-1 9 0 8-1 9-1 8 0 8-1 8 0 8 0 7 0 8 0 8 0 7 0 7-1 7 0 7 0 7 0 6 0 6 1 6 1 5 1 4 1 4 1 4 2 4 1 5 2 4 2 4 3 4 2 4 2 3 1 3 2 4 2 3 2 3 1 4 2 3 1 4 1 3 1 3 1 3 1 3 1 3 2M128 132l0 12 0 11 1 12 1 13 3 14 4 14 4 15 3 14 1 13 2 11 1 11 1 10 3 9 2 9 3 8 2 8 1 7 2 7 1 6 3 5 2 6 2 5 2 5 4 4 3 3 3 2 4 1 5 2 5 0 7 1 8-1 9-1 9-1 8-2 9-2 8-2 8-1 8-1 8 0 7 0 8 0 9 0 8-1 7-1 7-1 7-1 6 0 6 0 6 0 5 0 6 0 5 1 5 0 4 1 4 1 4 0 3 2 3 1 2 2 3 4 2 4 3 4 2 5 2 4 3 4 2 4 2 5 2 4 4 3 4 3 6 2 6 3 6 2 5 2 5 3 3 2 4 2 3 2 4 3 5 3 4 4 5 5 4 4 5 5M134 120l2 12 1 12 1 11 1 12 1 13 0 14 1 14 2 15 3 14 4 13 3 12 3 10 1 10 1 9 1 9 1 8 1 8 1 7 2 6 1 6 2 6 1 6 1 6 2 6 2 5 4 4 3 3 3 3 4 3 5 2 7 2 7 0 9 0 8 0 9-1 8-1 9-2 8-1 8-2 9-1 8 0 8-1 8 0 8 0 7-1 7 0 7 0 7 1 6 0 6 0 7 1 5-1 6 0 5 0 5 0 5 0 3 1 4 2 3 3 4 3 3 3 4 4 3 3 2 3 3 2 2 3 2 2 3 4 3 3 3 3 5 2 5 3 5 2 5 2 4 1 4 2 4 2 3 2 3 2 4 2 4 3 4 4 4 4 5 4 4 4 4 4M128 167l-1 13 -1 14 1 14 3 15 3 14 3 13 3 11 3 11 3 10 3 9 3 9 2 8 2 8 2 7 1 7 1 7 1 7 0 8 1 9 1 9 1 8 2 8 2 8 3 8 4 6 5 4 7 2 8 1 8 0 9 0 8 0 9-1 9-1 9-1 9-1 9-1 8-1 8-1 8-1 8-1 8 0 8 0 7 0 8 0 8 1 7 0 7 0 7 0 7 1 6 1 6 1 5 1 5 1 4 0 4 0 5 1 4 0 4 1 5 2 4 2 5 3 4 2 4 2 3 1 3 1 3 1 4 1 3 1 3 1 3 1 3 1 3 1 2 0 2 1 3 1 3 2M142 250l2 11 2 11 1 10 2 9 2 9 2 8 2 8 1 7 2 7 2 7 2 6 2 7 3 5 3 5 4 3 4 3 3 2 4 2 4 2 5 2 7 2 7 0 9-1 9-1 9-2 8-3 9-2 8-2 8-1 8-1 9-1 8-1 8-1 8 0 7-1 7 0 7 0 6 0 6 0 6 1 6 0 5 0 6 1 5 1 4 1 4 1 4 1 3 1 3 1 3 2 3 3 3 3 2 5 3 4 2 4 3 4 2 4 2 4 3 4 3 3 5 2 5 2 5 2 6 2 5 3 4 2 4 2 3 2 4 2 4 2 4 4 4 4 5 4 4 5 5 4 4 4 4 3M115 72l1 12 2 12 2 12 2 12 1 12 -2 12 -3 11 -1 12 1 13 3 14 3 14 3 15 2 14 2 13 2 11 3 11 1 10 2 9 1 9 2 9 1 8 2 8 1 8 2 8 3 8 2 9 3 8 2 8 4 7 3 5 4 4 5 3 5 2 6 2 7 1 8 1 8 0 8 0 8 1 9 0 8-1 9-1 9-1 9-2 8-1 8 0 8-1 8 0 8 0 7 0 7 1 8 0 7 0 6 1 7 1 7 0 6 1 6 1 6 1 5 1 4 2 4 1 5 2 4 2 4 2 4 1 4 1 3 0 4 1 3 2 3 2 3 2 3 2 4 2 4 2 3 1 4 2 4 1 3 1 3 1 3 1 3 1 3 2 3 2 3 2 4 3M117 144l2 11 1 12 2 13 2 14 2 14 1 15 2 14 3 13 3 11 3 11 2 10 3 9 2 9 3 9 2 8 1 7 2 8 1 7 2 8 1 8 1 9 2 9 2 8 2 8 3 6 4 6 4 4 5 3 7 3 7 2 8 1 9 1 8-1 9-1 9-2 10-2 9-1 8-1 9-1 7 1 8 0 8 1 7 1 8 0 8 0 8 0 7 0 8 0 7 0 7 1 6 0 7 0 6 1 5 0 5 1 4 2 5 1 4 0 4 1 5 1 4 1 5 1 4 2 4 2 3 1 4 1 3 2 3 1 4 1 3 1 3 2 3 1 3 1 3 1 3 0 2 1 2 1 3 1 3 2 4 3 3 3M116 272l3 9 2 10 1 9 3 9 4 9 4 9 5 8 5 8 6 7 6 7 5 5 6 3 5 2 5 1 5 1 4 1 5 1 5 1 7 0 8-1 9-1 9-2 9-1 8-2 8-1 8-1 8-2 8-1 8-1 9-1 8-1 8-1 7 0 7-1 7 0 6 0 6 0 6-1 6-1 5 0 5-1 5 1 4 2 4 3 4 3 3 3 3 3 3 2 3 3 3 3 2 4 2 4 3 4 2 4 2 4 3 4 2 4 4 3 4 3 6 2 5 2 6 2 5 2 4 2 3 2 4 2 3 2 4 2 4 4 5 4 5 5 4 4 5 5 4 3M153 300l2 8 1 8 2 7 1 7 1 7 2 6 2 7 3 5 3 5 3 4 4 3 3 3 4 2 4 2 6 1 6 1 8 1 8-1 9 0 8-1 8 0 8 0 8 0 8 0 8 0 9-1 8-2 8-1 8-2 8-1 7 0 7 0 7 0 6 0 6 0 6 0 6 1 5 0 6 0 4 1 5 1 3 2 4 1 3 1 3 2 3 2 3 2 3 4 2 3 3 4 2 3 3 4 2 3 2 3 4 3 5 3 5 3 6 2 5 3 5 2 4 1 3 2 3 1 3 2 4 3 4 3 5 4 4 4 4 4 5 5M121 167l5 13 4 14 2 14 1 15 1 14 2 13 2 11 4 11 4 10 3 9 3 9 1 8 2 8 2 7 2 7 1 7 2 6 2 7 2 6 2 6 3 6 2 6 2 5 4 5 4 3 5 3 7 1 7 1 9-1 9-1 9-1 8-3 10-3 8-2 9-2 8 0 8 0 8 0 8 0 8 0 7 0 7 0 7 1 7 0 7 1 6 1 7 0 6-1 6 0 5-1 5 0 5 0 4 1 4 1 3 1 4 2 3 2 3 3 3 3 4 4 3 4 4 3 3 4 3 3 3 3 3 2 4 2 4 1 5 2 4 2 4 1 4 2 3 2 3 1M124 208l-2-1 -1 1 2 15 2 14 1 13 2 11 2 11 3 10 2 9 3 9 2 9 2 8 1 8 2 8 3 8 3 8 4 8 3 7 3 7 3 6 4 5 4 4 4 4 5 2 5 2 7 2 8 0 8 0 9 0 8 0 8-1 9-1 9-1 8-1 9-1 8-1 8 0 8-1 8-2 8 0 8-1 7-1 7 1 7 0 7 0 6 1 6 0 6 1 6 0 6 2 4 1 5 2 4 2 4 1 3 2 4 1 4 1 3 2 4 2 3 3 3 2 3 2 2 2 3 2 3 2 4 2 4 2 5 1 4 2 4 1 3 2 4 1 3 2 3 2 4 3 3 3 4 3M147 308l-3 0 -1 1 2 8 2 8 1 8 2 7 2 8 2 9 2 9 3 8 3 6 4 6 3 5 4 4 4 4 6 4 6 2 8 1 8 0 9 0 8 0 9-1 8 0 9-1 9 0 9-1 8-1 8 1 7 0 8 1 8 0 7 0 8 0 8-1 7 0 7 0 7 0 7 0 7 0 6 0 6 0 5 0 4 1 5 1 4 2 4 2 4 1 5 3 4 1 4 2 4 2 4 1 3 1 3 2 3 1 3 2 4 1 4 2 3 1 4 2 3 1 3 1 3 1 2 1 3 1 3 2 3 2 4 3 3 3 4 3 4 3M145 299l-2 0 0 1 3 9 2 8 2 7 2 8 2 7 2 7 2 8 1 8 2 9 2 8 2 8 2 8 3 6 4 6 5 4 7 2 8 1 8 0 9 0 8 0 9 0 9-1 9-1 9-1 9-1 8-1 8-1 8-1 8-1 8 0 8 1 7 1 8 1 7 1 7 0 8 0 7 0 7-1 6 0 6 0 5 1 5 1 4 2 5 1 4 2 5 1 4 2 5 1 4 1 4 1 4 1 3 1 3 1 4 1 3 1 3 1 3 1 3 2 4 1 3 1 3 1 2 1 3 1M112 120l-2-1 -1 1 3 12 5 12 5 11 2 12 1 13 2 14 2 14 2 15 3 14 3 13 2 11 3 11 2 10 2 9 2 9 2 8 2 8 2 8 2 7 2 6 2 7 3 7 2 6 2 7 3 5 3 5 3 4 4 4 4 2 5 2 7 2 8 0 8 1 8 2 7 1 8 0 9-1 9-1 9-2 8-3 9-2 8-1 8-1 8 0 8 0 7 0 7 1 7 0 7 0 6 0 7-2 6-1 6-1 5-1 5 1 5 2 4 2 4 3 4 3 3 2 4 3 4 2 3 4 4 3 3 3 3 2 3 3 2 2 3 2 3 2 3 1 4 2 5 2 5 2 5 2 4 2 3 2 3 1 3 2 3 2 4 2 3 4 5 3 4 4 4 4 4 3M111 108l1 12 2 12 4 12 3 11 1 12 0 13 1 14 2 14 2 15 2 14 3 13 2 11 2 11 2 10 0 9 2 9 1 9 2 8 2 8 1 8 2 8 3 8 2 9 2 8 3 9 2 8 3 7 4 5 4 6 4 4 5 4 7 2 8 1 8 1 8 0 9-1 9-1 9-1 9-2 9-1 9-1 8 0 8 0 7 1 8 0 8 1 7-1 8 1 8 0 7 0 8 0 7 1 7 0 7 0 6 0 6 0 5 1 5 1 4 1 5 2 4 2 5 1 4 2 5 1 5 2 4 1 4 1 3 2 4 1 3 1 3 1 3 1 3 0 3 1 3 1 3 1 3 1 2 1 3 1 3 1 3 2 3 2 3 3 3 3 4 3 4 3 4 3M109 108l2 12 0 12 -3 12 -3 11 1 12 3 13 5 14 4 14 3 15 1 14 1 13 1 11 2 11 3 10 1 9 2 9 2 9 3 9 3 8 3 8 2 8 2 9 3 9 2 10 3 9 3 8 3 7 4 5 4 5 5 4 5 3 7 2 8 1 8 0 9-1 9 0 8 0 9-1 9-1 9 0 9-1 8-1 8 0 8-1 8 0 8 0 7 0 8-1 8-1 8-1 7-1 7-1 7 0 7 1 6 2 6 3 5 3 5 2 5 2 4 2 5 1 4 2 5 1 5 2 5 1 4 0 3 0 3 1 3 0 3 1 3 1 3 1 4 1 3 1 3 1 3 2 3 1 3 1 2 1 3 1 3 2 3 2 3 2 4 3 3 3 4 3 4 3 4 2 4 3 5 4 6 5 8 8 9 9 10 10 10 10 10 10M119 155l1 12 2 13 2 14 2 14 3 15 3 14 2 13 2 11 4 11 3 10 4 9 2 9 1 8 0 9 1 7 1 8 2 7 2 8 2 7 2 8 4 6 3 5 4 5 3 3 4 4 4 3 5 3 7 2 7 1 9 0 9-1 8-1 9-2 9-2 9-2 8-1 9-1 8-1 8-1 8-1 8 0 8-1 7 0 7 0 7 0 7 0 7 0 6 0 6 0 6 0 5 1 5 0 5 1 4 1 4 1 3 1 4 1 3 2 3 3 4 3 3 4 4 4 3 3 3 3 3 3 3 3 3 2 3 1 4 2 5 1 5 2 4 2 4 1 3 2 3 1 3 2 4 3 3 3 4 3 4 4 5 4M130 144l0 11 1 12 2 13 2 14 3 14 3 15 2 14 2 13 1 11 1 11 1 10 2 9 3 9 3 8 2 8 2 7 1 7 1 6 1 7 1 7 0 8 1 8 2 8 1 8 2 7 3 7 3 7 5 5 6 3 7 2 9 0 9-1 8-1 9-1 10-2 9-2 9-1 8 0 8 0 8 0 8 0 8 0 7-1 8 1 8 0 7 1 8 0 7 1 7 0 7 0 7 1 6 1 6 2 5 1 5 1 4 0 4 0 5 0 4 0 4 1 5 2 4 1 4 2 3 1 4 2 3 1 3 2 4 2 4 1 4 2 3 1 3 2 3 1 3 0 2 1 3 1 2 1 3 2 4 2 3 2 3 3 4 3M115 96l-3-1 0 1 -1 12 1 12 0 12 0 12 0 11 1 12 2 13 2 14 2 14 3 15 2 14 3 13 2 11 3 11 2 10 2 9 2 9 2 9 2 8 3 8 3 8 3 7 4 7 5 6 4 5 5 3 6 1 5 1 4-1 5-1 5 0 6-1 7-1 8 0 8-1 9-1 9-2 8-1 8-2 8-2 8-1 7-1 8 1 8 0 8 1 8-1 7 0 7 0 6-1 6 0 6 0 6 0 5 0 5-1 5 0 5 0 4 0 4 0 3 1 3 1 2 1 3 2 2 3 2 4 1 5 2 6 2 5 2 5 2 6 2 5 3 4 3 4 5 4 6 3 7 2 6 2 6 3 4 2 4 2 4 2 4 3M100 155l1 12 1 13 2 14 1 14 1 15 2 14 1 13 3 11 3 11 2 9 3 10 3 9 3 9 4 9 4 9 3 8 3 9 3 10 3 9 3 10 3 9 4 7 3 7 4 6 4 6 5 4 5 4 7 2 8 1 8 1 9 0 8 0 9-1 9-1 9-1 10-2 8-1 9-1 8-1 8 0 7 1 8 0 8 1 8 1 7 0 8 0 8 0 7-1 7 0 7 0 7 0 6 1 5 0 5 0 5 1 4 1 4 1 5 1 5 2 5 2 5 2 4 1 4 1 4 1 3 0 2 0 3 1 3 1 4 1 3 1 3 2 3 1 3 1 2 1 3 1 2 1 3 1 3 2 3 3 4 3 3 2 4 3 4 3 4 3 4 3 5 3 6 6 8 7 9 9 10 10 10 10 10 10M115 194l2 14 1 15 2 14 2 13 3 11 2 11 3 10 2 9 3 9 3 9 3 8 2 8 2 8 2 8 3 9 2 9 2 9 3 8 3 8 3 6 4 6 4 5 4 3 6 3 7 2 8 1 8 0 8 0 9-1 9 0 9-1 9-2 9-1 8-1 9-1 8-1 8 0 8-1 7 0 8-1 8 0 7 1 7 0 8 1 6 1 7 0 7 0 6 0 6 0 5-1 4 1 4 1 5 1 4 2 4 3 5 2 4 2 4 2 4 2 4 1 3 2 3 1 3 2 3 1 4 1 4 2 3 1 4 2 3 1 3 1 3 1 2 1 3 1 3 1 3 3 4 3M126 144l0 11 1 12 0 13 2 14 1 14 2 15 3 14 2 13 1 11 2 11 1 10 1 9 2 9 2 9 2 8 2 7 3 7 4 7 3 6 4 6 3 5 3 5 4 3 4 3 4 1 4 1 5 0 6-1 7 0 8-1 8 0 9-1 9-2 8-1 8-2 8-2 8 0 8 0 7 1 8 1 8 1 8-1 8-1 7-1 7-2 6-1 6-1 6 0 5 0 6 0 5 0 5 0 4 0 4 1 3 1 3 2 3 2 3 3 3 3 2 4 2 4 2 5 3 3 2 5 2 4 2 4 2 4 4 4 5 3 5 3 6 2 6 2 5 2 5 2 3 2 4 2 4 2 4 3 4 4 5 4 4 5 5 5 5 4M145 333l5 7 5 7 4 6 6 4 5 3 5 2 5 1 4-1 5 0 5 0 5 0 7 0 8 0 8-1 9-1 8-1 8-1 8-2 8-1 8-2 8 0 8-1 8 0 8 0 8 0 8-1 7-1 6-1 6 0 6-1 6 0 5 1 5 0 5 0 5 1 4 1 4 1 3 0 3 0 3 0 2 1 2 3 2 5 2 5 2 6 2 5 2 5 2 5 2 5 3 4 3 4 5 3 5 3 7 2 6 2 6 2 4 3 4 2 4 2 4 2 4 3 4 5 5 4 5 6 5 5 5 4 4 4 4 3 4 3 5 4 6 6 8 8 9 9 10 10 10 10 10 10M112 194l3 14 3 15 3 14 3 13 3 11 3 11 4 10 3 9 3 9 1 9 2 8 2 8 3 8 3 7 3 7 3 8 3 7 2 7 3 7 4 4 4 4 4 2 6 1 6 1 7 1 8 0 8 0 9-1 8 0 8-1 9-1 8-1 9-2 8-1 9-2 8-1 8 0 8-1 8-1 7-1 7-1 7 0 7 0 6 0 6 0 6 1 6 1 5 1 5 0 5 2 4 2 4 2 4 3 3 3 4 3 4 2 3 2 3 3 3 2 2 2 3 3 3 3 3 2 3 3 4 2 5 2 4 2 5 1 4 2 3 1 4 2 3 1 3 2 3 2 4 3 4 4M139 309l-2-1 0 1 2 8 3 8 4 8 3 8 2 8 3 8 2 9 3 7 4 7 4 4 4 4 4 3 4 4 6 3 6 2 7 2 9 1 8 0 8 0 9-1 9-1 9-1 8-2 9-1 8 0 9-1 8-1 8-1 7-1 8 0 7 0 8 0 7 0 7 0 6 1 7 0 6 0 6 1 6 1 5 2 4 1 4 2 4 1 4 2 4 1 5 2 4 2 3 2 4 2 3 1 2 1 3 2 3 1 3 2 4 2 4 2 4 1 4 2 4 1 3 1 3 2 3 1 3 2 3 2 3 2 4 3 4 4 4 3 4 4 4 3M138 309l4 8 3 8 3 8 2 7 3 8 4 7 5 5 4 4 6 3 5 0 5-1 5-1 6-1 6-1 7-1 8-1 8 0 9-1 8-1 8-1 8-2 8-1 8-2 8-1 8 0 8 1 8 2 7 1 7 0 7-1 7 0 6 0 6-1 6 0 5 0 6 0 5-1 5-1 4-1 4 0 3 1 3 1 3 2 3 4 2 4 3 4 2 5 2 4 2 5 2 3 1 5 2 4 3 4 3 4 5 4 6 2 6 3 6 2 6 2 4 2 4 2 3 2 4 2 4 3 5 4 4 5 5 5 5 5 5 4 4 4M109 155l1 12 2 13 3 14 4 14 2 15 3 14 2 13 2 11 2 11 3 10 3 9 3 9 3 9 1 8 2 8 1 8 2 8 3 8 3 8 3 8 3 7 3 7 4 5 4 4 4 3 5 1 6 2 7 1 8 1 8 0 9-1 8 0 9-1 8-1 9 0 8 1 8 1 8 0 8 0 8-1 8 0 7-1 8 0 7 0 8 0 7 0 7 0 7-1 6 0 6 0 6 0 6 0 4 1 5 1 4 1 4 1 3 2 4 2 4 2 4 3 4 2 3 2 4 3 3 2 2 2 3 2 4 2 3 2 4 1 5 2 4 1 3 1 3 2 3 1 3 1 3 2 4 2M108 108l2 12 2 12 2 12 2 11 1 12 3 13 3 14 3 14 2 15 2 14 2 13 2 11 3 11 1 10 1 9 2 9 2 9 3 8 3 7 4 8 3 6 5 6 4 5 4 4 4 3 5 2 4 1 4 0 4 0 4 1 6 1 6 1 8 0 8 0 8-1 9-2 9-2 8-4 9-3 8-2 8-1 8-1 8 0 8 1 8 0 7 0 7 0 6 0 6 1 5 0 6 1 5 0 5 0 5-1 5-2 4-1 4-1 3 1 2 1 3 3 3 4 2 5 3 5 2 5 1 5 2 4 2 4 1 5 2 4 2 5 4 4 6 4 7 4 7 3 6 3 6 2 4 2 3 1 3 1 4 2 4 3 4 4M102 144l2 11 6 12 5 13 3 14 1 14 -1 15 -1 14 1 13 3 11 4 11 4 10 3 9 3 9 2 9 1 8 2 9 2 8 2 8 3 9 2 10 2 10 2 9 3 9 4 6 4 6 4 4 5 4 6 4 6 2 8 2 8 1 8 0 9 0 9 0 9-1 9-1 9 0 8-1 9-1 8-1 8 0 8-1 8-1 8 0 7 0 8 1 8 0 7 0 7 1 7 0 7 1 7 0 6 1 5 1 5 1 5 2 4 1 5 0 4 1 5 1 5 1 4 1 4 0 4 0 2 0 3 1 3 1 4 1 3 2 4 1 4 2 3 1 3 2 3 1 2 0 3 1 2 1 3 2 3 2 3 2 4 3 3 3 4 3 4 3 4 3 4 2 5 4 6 6 8 7 9 9 10 10 10 10 10 10M112 96l-2-1 0 1 -1 12 0 12 0 12 1 12 1 11 1 12 1 13 1 14 1 14 2 15 2 14 3 13 4 11 3 11 3 10 2 9 2 9 3 9 2 8 1 8 2 8 3 9 2 8 3 8 3 9 3 7 4 7 3 6 3 6 3 6 5 4 6 3 7 1 8 0 8-1 9 0 9-1 8 0 9 0 8-1 9 0 8 0 9-1 8 0 8-1 8-1 7 0 8-1 8 0 7-1 8-1 7-1 7-2 7-1 6 1 6 1 6 2 5 3 4 2 5 2 4 2 4 1 4 2 5 1 4 2 4 2 4 1 3 2 4 2 3 2 3 1 3 2 4 1 3 1 3 1 4 1 3 1 3 1 3 1 3 2M131 291l4 9 3 9 3 8 2 8 3 8 3 8 4 7 3 8 3 7 4 6 3 6 3 5 4 3 4 3 6 2 6 0 7 0 8-1 9 0 8 0 8 1 8 1 8 0 8 0 8-1 9-1 8-1 8-1 8 0 8-1 8 0 7 0 8 0 6 0 7 0 7 1 6 0 7-1 6 0 5-1 5 0 5 0 4 1 4 2 4 2 3 2 4 2 4 3 3 3 3 3 3 2 3 2 3 3 2 3 3 2 4 2 3 3 5 1 5 2 4 2 4 1 4 2 3 1 3 2 3 2 4 2 3 3 4 3 4 4 5 4 4 4 4 3M95 180l-3-1 -1 1 2 14 2 14 3 15 4 14 4 13 3 11 4 11 4 9 5 10 3 9 3 9 2 9 1 9 3 9 5 8 5 9 6 7 6 6 5 4 6 3 6 1 6-1 5-2 6-2 7-1 7-1 8 0 8-1 9-1 8-1 8-1 9-1 8-2 8-1 8-1 8-1 8-1 9-1 8-1 7-1 7 0 6 0 7 0 5 0 6 0 6 0 5 0 5 0 5 1 4 1 4 2 4 2 3 2 3 1 3 3 2 3 3 3 2 5 2 4 3 4 2 5 2 4 2 4 3 4 3 3 5 3 5 2 6 2 5 2 6 2 4 2 4 2 3 2 4 3 4 3 4 4 5 4M126 249l-3 0 0 1 2 11 3 11 4 10 3 9 4 9 3 9 2 8 3 8 3 7 3 7 3 7 3 7 3 6 4 6 3 6 3 5 3 3 4 3 5 2 6 1 7 0 8-1 9-1 8 0 8 1 8 0 8 1 8 0 9-1 8-1 8-1 9-1 8-2 8 0 7-1 8 0 7 0 7 0 6 0 7 0 6 0 6 0 6 0 5 0 5 0 5 1 4 1 4 1 3 2 4 2 3 3 3 3 4 3 3 3 3 3 3 3 3 3 2 3 3 3 3 2 4 2 4 1 5 2 4 1 5 2 4 2 3 2 4 2 3 2M140 317l-2 0 0 1 2 8 3 8 2 8 3 9 2 9 3 9 3 9 3 7 3 7 4 5 4 5 5 3 6 3 7 1 8 0 8 0 9-1 9 0 8-1 9 0 9-1 9-1 8-1 9-1 8-1 8 0 8-1 7 0 8 0 8 0 7 0 8 0 7 1 6 0 7 0 7 1 6 0 6 1 5 1 4 1 5 1 4 1 4 1 4 1 5 2 4 1 4 2 4 2 4 2 3 2 4 2 3 2 4 1 3 2 4 1 3 1 3 1 4 2 2 1 3 0 2 1 3 1 3 1 3 3 4 2M129 132l-2-1 -1 1 1 12 1 11 1 12 2 13 2 14 3 14 2 15 3 14 2 13 2 11 2 11 1 10 2 9 1 9 1 8 1 8 1 8 1 7 0 7 1 8 1 9 1 9 2 9 1 9 2 9 2 8 3 6 5 5 5 4 7 2 8 2 8 0 8 0 9 0 8 0 9 0 9-1 9 0 9-1 8 0 8 0 8 0 7 1 8 0 8 0 8 0 8-1 8-1 8 0 7-1 7 1 7 0 7 0 6 1 5 0 5 2 5 1 4 2 5 1 5 2 5 1 5 1 5 1 4 0 3 0 3 0 3 0 3 1 3 1 4 1 3 1 3 1 3 2 3 1 3 1 2 0 3 1 2 2 3 1 3 2 3 3 4 2M123 260l-3 0 -1 1 4 11 2 9 2 10 2 9 3 9 3 9 2 8 4 8 3 8 4 9 4 7 4 8 4 6 5 4 4 4 5 2 5 1 5 2 5 1 7 1 8 1 8-1 9 0 8 0 8-1 9 0 8-1 9-1 8-1 8 0 8-1 8 0 8-1 8 0 7 0 7 0 7-1 7 0 6 0 7 0 6 1 6 0 5 1 5 1 5 1 4 2 4 1 4 1 3 0 3 2 4 2 3 2 3 3 3 3 3 3 2 3 3 3 3 3 3 2 4 2 5 2 5 2 5 2 4 2 3 1 4 2 3 1 3 2 4 3 3 3 4 3 4 4 5 4 4 4M107 132l-1 12 1 11 1 12 1 13 1 14 2 14 2 15 2 14 2 13 2 11 3 11 3 9 4 10 2 9 3 9 3 9 2 8 3 8 3 8 2 8 3 9 4 8 4 7 4 5 4 4 5 3 4 3 5 2 6 1 7 1 8 1 8 0 9-1 8-1 9 0 8-1 9-1 8-1 8 0 8 0 9-1 8 0 7 0 8 0 7 0 7 0 8 0 7 0 6 0 7-1 6-1 7 0 5 0 6 1 4 1 5 2 3 2 4 2 4 2 4 2 4 2 3 2 4 2 3 3 3 2 3 3 3 2 3 2 3 2 4 2 4 2 4 1 4 2 4 1 4 1 3 1 3 2 3 2 3 2M109 194l2 14 1 15 2 14 1 13 3 11 4 11 4 9 4 10 3 9 3 9 3 8 4 8 3 8 4 7 4 7 4 7 4 6 5 4 4 3 5 2 4 2 4 1 5 1 5 1 7 0 8 0 8 0 9-1 9-1 8-1 8-2 8-1 9-2 8-1 8-2 9-1 8-1 8 0 7 1 6 1 7 2 6 1 6 0 6 0 6 1 6 0 5 0 6 1 4 0 4 1 4 0 3 0 3 0 3 1 3 3 3 4 3 4 2 4 3 4 2 4 2 3 3 4 2 4 3 3 5 2 5 3 6 2 5 2 5 2 4 2 4 2 3 2 4 2 4 2 4 4M145 325l-1-1 -1 1 2 8 3 8 4 8 4 7 4 6 4 5 5 4 4 3 4 2 4 2 5 2 6 1 6 1 8 0 9-1 8 0 9-1 8-1 8-1 9-1 8-1 8-1 8-1 9-1 8-1 8-1 7 0 8 0 6 0 7 0 6 2 6 1 6 1 6 0 6 0 5 0 5 0 5 1 4 0 3 2 4 1 3 2 3 2 3 3 3 3 3 3 3 4 3 3 2 3 3 4 2 3 4 2 4 3 5 2 5 2 5 1 4 2 4 2 4 2 3 1 3 2 4 3 4 3 4 4 4 4M130 223l3 14 2 13 3 11 2 11 2 10 2 9 3 9 2 9 3 7 2 8 2 7 2 6 3 7 3 5 4 5 4 4 3 3 4 2 4 2 4 1 4 1 6 0 7 0 8-1 9-1 8-1 9-1 8-1 8-1 8-1 8-2 8-1 8-1 8-1 9 0 8-1 7 0 7-1 6 0 7 0 6-1 5-1 6 0 5 0 5 0 5 1 4 1 4 2 3 1 3 1 3 2 3 3 3 4 2 4 3 5 2 4 2 5 2 4 2 4 2 4 3 4 3 3 5 3 6 3 6 2 6 2 5 3 4 2 4 2 3 2 4 2 4 3 4 4 5 4 5 5 4 4 5 4 4 4 4 3M111 180l1 14 1 14 1 15 2 14 3 13 3 11 4 11 3 10 2 9 2 9 2 9 2 9 2 8 3 8 3 8 3 9 3 9 3 8 3 8 3 7 4 5 4 5 4 4 5 4 5 3 7 2 8 1 8 0 9 0 8 0 8-1 9 0 9-1 9-1 8-1 9 0 8 0 7 0 8-1 8 0 8-1 8-1 7 0 8 0 7 0 7 0 6 0 7 0 6 0 6 1 5 0 4 2 5 1 4 2 4 1 4 2 4 2 5 1 3 2 4 1 3 2 4 1 3 2 3 2 3 2 4 1 4 2 4 1 3 2 3 1 3 1 3 0 3 1 2 2 3 2 4 2 3 3M117 249l-4 0 0 1 2 11 2 11 3 9 2 10 3 9 3 9 3 9 3 9 3 8 3 9 3 9 4 10 3 9 4 8 4 7 4 5 4 5 4 4 5 3 6 3 7 2 8 1 8 0 8 0 9 0 9-1 9-2 9-3 9-2 9-2 8 0 8 0 8 1 7 1 8 1 7 1 8 0 8 0 7-1 7 0 7-1 7 0 7 0 6 1 6 1 5 2 5 1 4 1 4 2 4 0 4 1 5 0 4 1 4 2 3 2 4 2 3 2 4 1 3 2 3 1 4 2 4 2 4 2 3 1 4 2 3 1 2 1 3 1 2 1 3 1 3 3 4 2 3 3 4 3 4 4 4 2M124 107l-2 0 -1 1 1 12 1 12 1 12 0 11 1 12 1 13 1 14 2 14 2 15 2 14 2 13 2 11 3 11 2 10 3 9 2 9 1 9 2 8 2 7 2 7 2 7 3 7 2 7 3 6 3 5 4 5 4 3 3 3 4 1 5 2 6 1 7 0 8 0 8-1 9-1 8 0 9-2 8-2 9-3 9-2 8-2 8 0 8 0 8 0 8 0 7 0 7 0 7 0 6 1 6 1 6 0 6 1 6 0 5 0 6 0 4-1 4 0 4 1 3 1 4 1 3 2 3 3 2 3 3 4 2 4 3 4 3 4 3 5 3 4 3 4 3 3 4 2 5 1 4 2 5 1 5 2 4 2 4 2 4 2 3 3 4 2M98 237l3 13 4 11 5 11 6 9 5 10 5 9 4 9 4 9 5 8 5 8 5 7 5 7 5 5 6 4 5 3 6 1 5 0 4 0 4 1 4 1 6 0 7 0 8-1 8-1 9-2 9-1 8-2 8-1 8-1 7 0 8-1 8 0 8-1 9-1 7 0 8 0 6 0 7 1 6 0 6 0 5 1 6 0 5 1 5 0 5 1 4-1 4 0 3-1 3-1 3 1 2 3 3 3 2 5 2 6 2 5 2 5 3 5 2 4 2 5 3 5 4 4 5 3 5 3 6 2 6 2 5 2 4 2 4 2 4 2M131 167l-3-1 0 1 1 13 4 14 3 14 4 15 3 14 3 13 2 12 2 10 2 10 2 9 2 9 1 8 1 8 1 7 0 7 1 7 0 7 1 8 0 9 1 9 1 9 2 8 2 7 4 6 5 4 5 2 8 1 8 0 8 0 9-1 8 0 9 0 8 1 8 0 9 0 9-1 8 0 8-1 8-1 8-1 8-1 8 0 7 0 8 1 7 2 7 2 7 1 7 1 7 0 6-1 6 0 5 0 5 1 4 1 4 1 5 2 4 2 5 1 4 2 5 1 3 1 4 1 3 1 2 0 3 2 4 1 3 2 4 1 4 2 3 1 3 1 3 1 3 1 2 1 3 1 3 2 3 2 4 3 3 3 4 3 4 4 4 3 4 2M113 120l-2-1 -1 1 0 12 0 12 1 11 4 12 5 13 3 14 2 14 0 15 0 14 0 13 3 11 4 11 3 10 4 9 2 9 3 9 2 8 3 8 1 7 2 8 1 8 2 8 3 8 3 7 4 6 3 5 3 5 4 4 4 4 6 3 6 2 8 0 8 0 9 0 9-1 9-2 8-1 9-1 9-2 8-1 9-1 8-1 8 0 8-1 8 0 7 0 7 1 7 1 7 1 7 0 6 0 7 0 6 1 6 0 6 1 4 0 5 1 4 1 4 1 3 1 4 2 4 2 4 2 4 3 4 3 3 3 3 2 3 2 3 2 4 2 4 2 4 2 4 2 4 1 3 1 3 1 3 1 3 1 2 1 4 2M111 108l0 12 1 12 -1 12 0 11 -1 12 2 13 3 14 3 14 4 15 2 14 1 13 1 11 2 11 2 10 2 9 2 9 2 9 2 8 1 9 2 8 2 9 4 8 4 8 5 7 5 5 5 4 4 4 4 2 5 1 6 1 6 0 7-1 8 0 9-1 8-1 9 0 8-1 8-1 8 0 9-1 8-1 8-1 9-1 8-2 8-1 7 0 8-1 6 1 7 0 6 1 6 1 6 1 6 0 6 0 5 1 5 0 5 1 4 1 3 1 4 2 3 2 4 3 3 4 3 3 3 3 3 3 2 2 2 2 2 3 3 3 3 3 4 2 5 2 5 2 5 2 5 2 4 1 3 2 3 2 4 2 3 2 5 4 4 3 4 5 5 4 4 4 4 3 4 3M120 180l2 14 1 14 2 15 2 14 4 13 4 11 4 11 3 10 2 9 1 9 1 9 1 8 0 8 0 8 0 8 1 10 2 9 2 10 2 10 2 10 2 8 4 7 4 6 5 4 5 3 7 3 8 1 8 0 9 1 8 0 9 0 9-1 9 0 9-1 9-1 8 0 8-1 8 0 8-1 8-1 8-1 8 0 8-1 8 0 8 1 7 0 7 1 7 1 7 1 6 0 5 1 5 2 5 1 5 1 4 2 5 0 5 1 5 0 5 0 4 0 3 0 4 1 4 1 3 1 4 2 3 1 3 1 3 1 3 1 2 1 3 1 2 0 3 1 2 1 3 1 3 2 3 3M122 108l0 12 -1 12 0 12 0 11 0 12 0 13 1 14 2 14 2 15 2 14 2 13 2 11 2 11 1 10 2 9 2 9 2 9 2 8 2 8 2 8 2 8 2 8 2 9 3 8 3 8 3 7 4 5 4 4 4 3 5 3 6 1 7 1 8 1 8 0 9-1 8 0 8 0 9-1 9-1 8-1 9-1 8-1 9-1 8-1 8-1 7-1 8 1 7 0 7 2 7 1 7 0 6 1 7-1 6-1 6-1 6 0 4 0 5 1 4 2 4 2 4 3 4 2 4 3 4 2 3 2 4 2 3 2 2 2 3 2 3 2 4 2 4 2 5 2 4 2 4 2 3 1 3 1 3 1 2 0M117 155l-2-1 -1 1 2 12 2 13 2 14 2 14 3 15 4 14 4 13 3 11 3 11 3 10 4 9 3 9 3 8 2 8 2 8 1 7 2 6 1 7 1 7 1 8 2 9 1 8 2 8 1 8 2 9 4 7 4 6 6 4 8 1 8 0 9 0 9 0 8-1 9 0 9-1 9-1 9-1 8 0 9-1 7 0 8 0 8 0 8 0 8 0 8-1 8 0 7-1 8-1 7 0 6 0 7 0 6 1 5 1 5 0 4 2 5 1 4 2 5 1 5 2 5 1 4 2 5 1 3 1 4 1 4 1 3 1 3 1 3 1 3 1 3 1 3 1 3 1 3 1 2 0 3 1 2 1 3 2 3 2 3 3 4 2 3 3 4 3M131 96l-1-1 -1 1 1 12 -1 12 -2 12 0 12 0 11 0 12 1 13 2 14 2 14 3 15 3 14 2 13 3 11 3 11 3 10 2 9 2 9 1 8 1 8 1 8 1 7 1 7 1 7 1 7 1 9 1 9 1 8 2 9 2 7 3 7 4 5 6 4 7 1 8 1 8 0 9-1 8 0 9-1 9 0 9-2 9-1 9-1 8 0 8-1 8 0 8 0 7 0 8 1 8 0 7 0 8 0 7-1 7 0 7-1 7 0 6 1 6 1 5 1 5 2 4 1 4 2 5 1 4 1 5 1 4 2 4 1 4 1 4 2 3 2 4 2 4 1 3 2 4 1 3 1 3 1 3 2 3 1 3 1 3 1 2 0 3 1 2 1 3 2 4 3 3 3 4 3 4 4M118 120l1 12 2 12 3 11 1 12 1 13 1 14 2 14 2 15 2 14 2 13 2 11 2 11 2 10 2 9 2 9 2 9 2 8 2 7 3 7 2 7 3 7 2 7 3 6 3 5 4 4 4 3 4 2 4 3 4 2 5 3 7 1 7 0 9 0 9-1 8-2 9-1 8-1 8-2 9-1 8-1 8-1 8 0 8-1 8 0 8-1 7 0 7 1 6 0 7 0 6 0 6 0 6-1 5 0 6 0 4 1 5 0 3 1 4 1 3 1 3 2 3 2 3 4 3 4 3 5 3 4 3 4 2 3 3 3 2 3 3 2 3 2 5 2 6 2 5 2 5 2 4 3 4 1 3 2M129 290l-2 0 0 1 3 9 3 9 3 9 4 8 5 7 4 8 4 7 4 7 5 5 5 4 5 2 5 0 5 0 5 0 5-1 6 0 7-1 8-1 9-1 8 0 8-1 8 0 8-1 8-1 8-2 8-1 8 0 9-1 8 0 7-1 8 0 7-1 6 0 7 0 5-1 6 0 6 0 5 0 5-1 5 0 4 0 4 0 3 1 3 2 3 3 3 3 3 4 2 4 2 5 2 5 3 5 2 4 2 5 2 4 3 4 3 3 5 3 5 2 6 3 6 2 5 2 5 2 4 2 3 3 4 2 4 3 4 4M110 180l4 14 2 14 3 15 2 14 3 13 3 11 3 11 3 10 3 9 3 9 3 9 3 8 2 8 3 7 3 7 2 8 2 8 1 8 2 9 2 9 2 8 2 8 3 8 3 7 4 8 5 6 7 3 8 1 9 1 8-1 9 0 10-2 9-1 10-2 9 0 8-1 8 0 8-1 8 0 8-1 8 0 8 0 8 1 8 1 7 1 8 1 7 0 8 0 7 0 6 0 6 0 5 1 5 1 4 2 6 3 5 2 6 1 5 1 6 0 4 0 4-1 4-1 3 0 3 0 3 0 3 1 3 1 2 1 3 1 2 1 2 0 2 0 2 1 3 0M103 120l-2 12 -1 12 1 11 3 12 5 13 4 14 3 14 3 15 2 14 3 13 2 11 3 11 3 10 3 9 3 9 2 9 2 8 2 8 3 8 4 7 3 7 4 7 4 6 4 5 5 3 4 2 5 1 4 0 6 0 5 0 7 0 8 0 9 0 9-2 8-1 9-2 8-2 8-2 8-1 8-1 8-1 9-1 8 0 8-1 7 0 7-1 7 0 6 0 6 0 6 1 5 0 6 1 5 1 5 1 4 1 4 1 4 1 3 0 3 1 3 1 2 3 3 4 2 4 2 4 2 4 2 4 2 4 2 4 3 5 4 3 5 4 6 2 6 3 5 2 5 2 4 1 4 2 3 2 4 2 4 3 4 4 5 4 5 5 4 4 5 5 4 3 4 3M106 120l-2-1 -1 1 3 12 4 12 3 11 2 12 -1 13 -1 14 0 14 2 15 4 14 3 13 3 11 3 11 2 10 3 9 2 9 3 9 2 8 3 8 2 8 2 9 1 8 2 10 1 10 2 10 2 10 3 9 3 8 4 6 5 4 6 4 6 2 8 1 9 0 8 0 9-1 9 0 9-2 9-1 10-1 8-1 8 0 8 1 8 1 7 1 8 0 8 0 8 0 8 0 8 0 8 0 8 0 7 0 7 0 7 1 6 1 6 1 5 1 4 1 5 2 5 1 5 1 5 1 6 0 5 1 4 0 4-1 3 0 3 0 3 1 4 1 3 0 3 2 3 1 2 1 3 1 2 0 2 1 3 0 2 1 3 2 3 1 3 3 3 2M113 131l-2 0 -1 1 1 12 1 11 4 12 4 13 3 14 2 14 3 15 3 14 3 13 2 11 2 11 0 10 2 9 2 9 3 9 2 8 3 7 2 8 3 7 2 7 2 7 2 8 1 8 2 8 2 8 2 8 3 7 3 6 5 5 7 4 7 1 9 0 8-1 9 1 8 0 9 0 9 0 8 0 9-1 8 0 8 1 8 0 7 1 8 0 8 0 8 0 8 0 8 0 8 0 7 0 7 0 7-1 7-1 6 0 5-1 5 1 5 1 4 2 5 2 5 2 5 2 5 1 4 1 5 2 4 1 5 2 3 1 4 0 3 1 3 0 2 1 3 1 2 0 3 1 2 1 3 1 2 0 3 1 2 2 3 2 3 2 4 3 3 3 4 3 4 2 4 3M120 107l-3 0 0 1 2 12 1 12 0 12 1 11 1 12 1 13 1 14 1 14 3 15 2 14 3 13 3 11 2 11 3 10 2 9 2 9 3 9 2 8 2 7 2 7 3 7 2 7 2 7 2 7 2 7 4 4 5 3 4 2 4 2 4 3 5 2 7 1 8 0 8 0 9-1 8-1 9-1 8-1 8-1 9-1 8-1 8-1 8 0 8-1 8 0 8-1 7 0 7 0 7 0 6-1 7-2 6-3 6-1 6-1 5 0 4 2 5 2 3 3 4 3 3 2 4 2 3 3 3 4 3 4 4 4 3 3 2 3 3 3 2 3 3 3 3 3 4 2 5 2 5 2 5 1 4 2 4 2 4 2 3 1 3 2 4 3 4 3M105 155l3 12 3 13 2 14 2 14 2 15 2 14 3 13 2 11 2 11 2 9 2 10 3 9 2 9 3 8 4 9 4 7 4 7 6 7 5 5 5 4 6 2 5 1 5 0 4 0 5-1 4 0 6 0 6 0 8 1 8 0 9-1 8 0 8-1 8-1 7-1 8-1 8-1 8 0 8-1 9-2 8-1 8-2 7-1 6-1 6 0 6 0 5 1 5 0 5 0 5 1 5 0 4 1 4 2 3 1 3 2 3 2 3 3 2 2 1 3 2 3 1 4 2 4 2 5 1 6 3 5 3 5 3 4 5 4 7 3 6 2 7 3 5 3 5 2 4 2 4 2 3 3 4 3M144 325l-2 0 -1 1 2 8 2 8 2 9 2 10 3 9 3 9 3 7 4 6 4 6 4 4 5 4 5 3 7 1 8 1 8 0 9 0 9 0 8-1 9-1 9-1 9-1 9-1 8-1 8 0 8-1 8 0 8-1 7 0 8 1 8 0 7 0 7 0 7 1 7 0 7 0 6 0 6 1 5 1 5 1 4 1 4 1 4 2 5 1 4 2 5 1 4 2 4 2 4 2 4 1 3 1 3 1 3 2 3 1 4 1 3 1 3 1 4 2 3 1 2 1 3 1 3 1 2 2 4 2 3 2 3 3 4 3 4 4 4 3M96 144l4 11 -1 12 -2 13 -1 14 1 14 3 15 2 14 3 13 3 11 3 11 4 9 4 10 3 9 3 9 3 9 4 9 4 8 4 9 4 9 5 8 4 8 5 6 4 5 5 4 4 3 5 3 4 2 6 2 7 2 8 0 8 0 9-1 9-1 8-1 9-1 8-1 9-1 8-1 8 0 8 0 8-1 8-1 8 0 8-1 7 0 7 0 7 0 7 0 6-1 7 0 6 0 5 0 6 0 4 1 4 1 4 1 4 1 3 2 4 2 4 3 3 3 4 3 3 3 3 2 3 3 3 3 3 2 3 2 4 2 4 2 5 2 4 1 4 2 4 1 3 2 3 1 3 2 3 2 4 2 4 4 4 3 4 4 4 4 4 3 4 3 4 3 5 4 6 5 8 8 9 9 10 10 10 10 10 10M111 132l2 12 1 11 1 12 1 13 1 14 3 14 4 15 5 14 4 13 3 11 2 11 2 10 2 9 3 9 2 9 2 8 1 7 2 8 1 7 2 8 2 8 1 8 3 8 3 7 2 7 3 6 3 6 5 4 6 2 6 2 8 1 8 1 8 0 9 0 8-1 9 0 9-2 9-1 9-1 8 0 8-1 8-2 9-2 8-2 8-1 7-1 8 1 7 1 6 2 7 1 7 1 6 1 6 0 6 0 5 0 4 0 4 0 4 2 4 2 5 2 4 3 4 3 5 2 4 2 3 2 3 1 3 2 3 1 3 1 4 2 3 1 4 2 4 1 3 2 3 1 3 1 3 1 3 2 3 2 3 2 4 3 3 3M117 300l-3-1 -1 1 3 10 2 9 4 9 3 10 5 10 4 10 5 10 5 10 5 8 5 6 5 5 5 4 5 4 5 2 6 2 7 2 8 1 8 1 8 0 9-1 9 0 8-1 10-1 8-1 9-1 8-1 9-1 8-1 8-1 8-1 8 0 7 0 8 0 7-1 7 0 7 0 7 0 7 1 6 0 6 0 5 1 4 1 5 1 4 2 4 1 4 2 5 2 4 1 4 2 4 2 4 1 3 2 3 2 4 1 3 1 4 2 3 2 4 1 4 2 3 1 3 1 2 1 3 1 2 1 3 1 3 2 4 3 3 3M116 132l-1 12 0 11 0 12 2 13 3 14 4 14 3 15 2 14 3 13 3 11 2 11 2 10 1 9 1 9 1 9 2 8 2 8 2 8 2 7 2 9 3 7 3 8 2 8 2 9 2 8 2 8 3 7 3 7 5 6 6 4 8 2 8 0 8 1 8 1 9 0 9 0 9 0 9-2 9-1 9-2 8-1 8-1 8-1 8 0 8-1 8-1 8 0 8 0 8 0 7 1 7 1 7 1 7 1 6 2 6 1 5 1 4 1 5 2 5 1 5 1 5 0 5 1 5 0 4 1 4 0 4 1 3 0 3 1 4 0 3 1 2 1 3 1 3 1 2 1 3 1 2 0 2 1 3 1 3 1M103 120l0 12 0 12 1 11 1 12 2 13 2 14 3 14 3 15 3 14 3 13 3 11 3 11 3 10 2 9 3 9 2 9 2 8 1 9 1 8 1 9 2 10 2 10 2 11 3 9 3 9 3 8 4 6 5 5 5 4 6 2 7 2 7 1 9 1 8 0 9 1 8 0 9-1 9 0 9 0 8 1 8 0 8 1 8 0 8-1 8-1 8-1 9-1 8-1 8 0 7 0 8 0 7 0 7 0 7 0 6 1 5 1 5 1 5 2 5 1 4 1 5 1 5 1 5 0 5 1 4 0 4 1 4 0 3 1 4 1 3 1 3 1 3 1 3 1 3 1 3 2 3 1 2 1 3 1 2 1 2 1 3 1 3 2 3 2M103 132l-2 12 1 11 3 12 3 13 3 14 2 14 3 15 3 14 3 13 2 11 3 11 3 10 3 9 2 9 2 9 2 8 2 9 2 8 2 8 3 9 2 9 3 9 2 9 3 8 3 8 3 6 4 6 4 5 6 4 6 3 8 1 8 0 9 0 9 0 8 0 9-1 9-1 9 0 9-1 8-1 8 0 8-1 8 0 8 0 8-1 8 0 8 0 8 0 7 0 7 0 8-1 6-2 7-1 6 0 5 1 5 1 4 3 5 2 5 3 4 2 5 1 5 1 4 1 5 1 4 1 3 1 4 1 3 1 4 1 3 2 3 1 3 1 3 1 3 1 2 1 3 1 2 0 3 1 2 2 3 2 4 2 3 3 3 3 4 3 4 2M122 132l-1 12 -1 11 0 12 2 13 3 14 3 14 3 15 3 14 3 13 3 11 3 11 2 10 3 9 3 9 2 8 3 8 2 7 2 7 2 6 3 6 2 5 2 6 3 4 4 4 3 2 4 2 4 1 5 0 5 0 7 0 8 0 9-1 8 0 8 0 8 0 8-1 8-2 8-1 8-2 9-1 8-1 8-1 8-1 8 0 6 0 7 0 6 0 6 1 6 0 5 0 6 0 5-1 5 1 4 0 4 1 4 2 3 2 3 2 3 3 3 4 2 3 2 3 2 4 2 3 2 3 1 5 3 4 2 4 4 4 4 3 6 2 6 3 6 2 5 2 5 3 4 2 3 2 4 2M126 167l-2-1 0 1 1 13 2 14 2 14 2 15 3 14 2 13 2 11 1 11 3 10 2 9 3 9 2 9 2 8 0 7 1 8 1 7 2 8 3 7 3 7 3 7 3 6 3 5 3 5 3 4 5 3 5 3 7 1 8 1 8 0 9 0 8 0 8 0 9-1 8-1 9-1 9-2 8-1 8-1 8-1 8 0 8-1 7 0 8 0 7 0 7 0 6 0 7 1 6 0 6 1 6 0 6 1 4 1 5 3 4 2 4 3 4 2 4 2 4 2 3 1 4 1 3 1 3 2 3 2 3 3 3 2 3 3 4 2 5 1 4 2 4 1 3 2 4 1 3 1 3 2 2 1 4 2 3 3 4 3 4 3 4 4 4 3M147 317l1 8 1 7 1 8 1 9 1 10 1 10 1 11 1 11 2 9 3 9 3 7 5 5 6 4 7 3 7 1 9 0 8 0 9 0 9 0 9-1 10-2 9-1 9-2 8-1 8 0 8-1 8 0 8 0 8-1 8 0 8 0 8 1 8 1 7 2 8 1 7 1 7 1 6 0 6 1 5 0 5 1 4 1 5 1 6 1 5 1 5 0 5 0 5 1 4 0 4 0 4 1 3 0 4 1 3 0 2 1 2 1 2 0 3 1 2 1 2 0 2 1 3 1 2 1 3 2 3 2 3 2 3 3M122 84l1 12 1 12 1 12 1 12 0 12 0 11 0 12 1 13 1 14 4 14 4 15 3 14 3 13 2 11 2 11 2 10 2 9 2 9 1 8 1 8 1 8 0 7 0 8 0 8 0 9 1 10 1 10 2 10 1 9 3 8 3 7 4 6 6 4 6 3 8 2 8 1 8 0 9 0 9 0 9 0 9-1 9 0 9-1 8-1 9-2 8-2 8-1 8-1 8 0 8 0 8 0 8 0 7 1 8 0 7 0 7 1 7 0 6 1 5 0 5 2 5 1 5 2 5 2 5 1 5 1 5 1 5 1 5 1 4 1 4 0 4 1 3 0 3 0 3 0 2 1 2 0 2 1 3 0 3 1 2 1 2 1 3 1M123 328l3 10 3 10 4 11 3 11 4 11 5 10 5 7 5 6 5 5 4 4 6 4 6 2 8 1 8 0 8-1 9 0 9 0 8 0 9-1 9-1 9-1 9-1 8 0 9-1 7-1 8 0 8-1 8 0 8 0 8 1 7 1 8 1 7 1 7 0 7 1 7 2 6 2 6 2 5 2 4 1 5 1 5-1 4-1 5 0 5 0 4 1 5 1 4 1 3 1 4 1 3 1 3 0 3 1 3 1 3 1 3 1 2 0 3 1 3 1 2 1M120 180l1 14 2 14 3 15 2 14 3 13 2 11 4 11 3 10 3 9 3 9 2 9 3 7 3 8 2 7 2 6 2 7 1 8 2 7 2 8 1 7 2 8 2 7 3 7 3 7 4 6 6 4 8 2 8 0 9-1 9-2 9-2 9-1 9-1 9-1 9-1 8 0 8 0 8-1 8 0 7 0 8 0 8 0 7 1 8 0 7 0 7 0 7 1 7 0 6 0 6 1 5 1 5 1 4 2 4 1 5 1 4 2 5 1 5 2 4 1 4 1 4 2 3 1 3 1 3 1 4 1 3 1 3 1 3 1 4 2 3 1 2 1 3 1 3 1 2 1M107 84l-4-1 0 1 -2 12 -1 12 0 12 2 12 5 12 5 11 2 12 0 13 0 14 0 14 1 15 2 14 1 13 2 11 2 11 3 9 2 10 3 9 2 9 2 9 3 8 3 9 4 8 5 7 5 7 6 5 5 5 5 3 5 1 4 1 5 0 5 0 6 1 7 0 8-1 8 0 8 0 8 1 8 0 8-1 8-1 9-2 8-2 9-2 8-2 9-1 8-1 7-1 7 0 7 0 6 0 6 0 6 0 6 0 5 1 6 1 5 0 4 1 4 1 4 1 3 1 3 1 3 3 3 2 3 4 2 4 2 3 2 4 3 3 2 4 2 4 3 4 4 4 5 3 5 3 6 2 5 2 5 2 4 2 4 2 3 1 4 2 3 3 5 4 4 4 5 4 4 4 5 5M102 144l1 11 1 12 2 13 1 14 1 14 1 15 3 14 3 13 4 11 3 11 3 9 4 10 3 9 4 9 2 8 2 9 3 8 2 8 2 9 2 10 2 10 2 9 3 9 3 7 4 7 3 6 5 5 6 4 6 2 8 1 9 0 8 1 8 0 9 1 8 1 9 0 9-1 9-1 8 0 8 0 8-1 8 0 8 0 8 0 8 0 8-1 8 1 8 0 8 0 7 0 7 0 7 1 6 0 6 1 5 2 4 1 5 0 5 1 5 0 5 1 5 1 5 1 5 1 4 1 4 1 4 1 3 0 3 0 2 0 3 0 2 1 3 1 2 1 3 1 2 1 3 1 2 1 3 1 3 2 3 2 3 2 3 3 4 2M105 120l1 12 1 12 2 11 2 12 2 13 3 14 3 14 3 15 3 14 2 13 3 11 3 11 2 10 3 9 2 9 1 9 2 8 2 8 2 8 3 7 3 8 4 7 4 6 5 4 5 3 5 1 4 1 5 0 5 0 6 0 7 0 8-1 8-1 9-1 9 0 8-2 8-1 8-3 9-2 8-2 9-2 8-1 8-1 8 0 7 0 7 0 6 0 6 0 6 1 6 2 5 1 6 1 5 1 5 0 4-1 4-1 3-1 3 0 3 1 3 3 3 4 2 5 2 5 3 5 2 5 3 4 2 5 2 4 3 4 3 4 5 3 5 2 6 2 6 2 5 2 4 2 4 1 3 3 4 2 4 3 4 4M104 223l-2-1 -1 1 3 14 4 13 4 11 4 11 4 9 3 10 2 9 2 9 3 9 3 9 3 8 3 9 4 9 4 9 5 8 4 7 5 5 4 5 4 4 5 2 5 2 7 1 7 0 8-1 9-1 8-1 9 0 8-1 9 0 8-2 9-1 8-1 9 0 7 0 8 1 8 1 7 1 8 0 7-1 7 0 8-1 6-1 7 0 6 0 6 0 6 0 6 0 4 0 4 0 4 2 4 1 4 2 3 1 4 3 3 2 4 3 3 3 3 3 3 3 3 2 4 3 3 2 4 2 4 2 5 2 4 1 4 2 3 1 3 1 3 2 3 1 3 2 4 3 4 3 4 4 4 4 4 3 4 4M124 144l1 11 1 12 2 13 2 14 2 14 3 15 3 14 3 13 2 11 2 11 1 10 2 9 1 9 2 8 1 8 1 8 1 7 1 7 2 8 1 8 1 9 1 10 1 9 2 9 1 9 3 9 3 8 5 6 6 3 8 2 8 0 9 0 9-1 9-1 9-1 9-1 10-1 8-1 9-1 8-1 8 0 8-1 8 0 8 0 8 0 8 0 8 0 7 0 8 0 7 1 7 1 7 1 6 2 6 1 5 1 5 2 4 1 5 2 5 1 6 0 5 0 5 1 4 0 4 0 4 0 4 0 3 1 3 0 3 1 3 1 3 1 2 1 3 1 2 1 2 0 3 1 2 1 2 1 3 2 3 1 3 3 3 2 4 3 4 3 4 2 4 3 5 4 6 5 8 7 9 9 10 10 10 10 10 10M128 180l1 14 3 14 4 15 5 14 3 13 2 11 2 11 1 10 1 9 3 9 2 8 1 8 2 7 1 7 2 6 2 7 2 6 2 6 2 6 3 5 3 4 3 4 4 2 5 1 6 0 7 1 8-1 8 0 9 0 8-1 8 0 8-1 9-1 8-2 9-2 8-3 9-2 8-2 8-1 8 0 7 1 6 1 6 2 6 1 6 1 6 0 6 0 5 1 6 0 4 1 5 1 3 1 4 0 3 1 3 1 3 2 3 3 2 4 3 5 3 4 3 4 3 4 2 4 3 3 3 3 4 2 5 2 6 2 5 2 5 2 3 2 4 2 3 1 4 2 3 3 4 3M118 107l-4 0 0 1 -2 12 1 12 0 12 1 11 1 12 2 13 2 14 3 14 2 15 2 14 2 13 2 11 2 11 2 10 2 9 2 9 2 9 2 8 1 8 2 8 2 8 2 9 2 10 2 9 3 8 3 7 4 6 4 5 4 4 5 3 6 3 7 2 7 1 8 1 9 0 8 0 9-1 9-1 9-2 9-2 9-1 8-1 8-1 8 0 8 0 7 1 8 0 8 0 7 0 7 1 8 0 6 1 7 0 7 1 6-1 6-1 5-2 4-1 4 0 4 1 4 2 4 3 5 4 5 3 4 3 4 2 3 2 4 1 3 2 4 2 3 1 3 2 4 1 3 1 3 1 4 1 3 1 2 1 3 1 3 2M122 272l4 9 2 10 2 9 2 9 2 9 4 8 5 8 6 7 5 6 5 6 5 4 6 3 5 2 5 1 4 0 4 0 5 0 6-1 7-1 9-2 9-3 9-2 9-1 7-1 8 0 7 1 7 0 8 0 8-1 9-1 8-2 8-1 8-1 6 0 7 0 6 0 5 0 6 1 5 0 5 0 5 0 5 0 4 0 4 1 3 0 3 1 2 2 3 2 2 3 2 5 2 4 2 6 2 4 1 5 2 4 1 4 3 5 3 4 5 3 6 3 7 3 7 3 5 2 5 3 4 2 4 2 4 3 4 3 5 4 4 5 5 5 5 5 5 4 4 4 4 3M122 167l-2-1 0 1 -1 13 -1 14 1 14 3 15 4 14 4 13 4 11 2 11 3 10 3 9 2 9 2 9 1 8 -1 8 0 8 1 8 2 9 1 10 1 10 2 11 2 9 3 9 3 8 3 7 5 5 6 4 7 2 7 1 9-1 9 0 9 0 8-1 9 0 9 0 9-1 9 0 8 0 8-1 8-1 8-1 9-1 8-1 8-1 8 0 8 0 8 0 7 0 7 1 7 0 7 1 6 2 6 2 5 3 5 3 5 2 4 1 6 1 5 0 5 1 5 0 5 0 4 0 4 0 2-1 3-1 3 1 2 0 3 1 3 1 3 1 2 1 3 1 2 0 3 1 2 1 3 2M125 132l1 12 1 11 0 12 2 13 2 14 4 14 4 15 4 14 2 13 2 11 0 11 1 10 3 9 2 9 2 8 1 8 2 7 3 7 2 6 2 6 2 6 2 5 2 6 1 7 2 7 1 6 3 6 4 4 6 2 7 0 8 0 8 0 8 0 8 1 8 0 9 0 8 0 9-2 8-1 9-2 8-2 9-1 8-1 7 0 7 0 8 0 6 1 7 1 7 0 6 0 7 0 6 0 5 1 6 1 4 0 4 1 4 1 4 1 4 2 3 2 4 2 3 3 3 2 3 2 3 3 3 2 3 3 3 3 3 2 5 3 4 2 5 2 4 1 4 2 4 1 3 2 3 1 3 2M127 261l3 11 3 10 2 9 3 9 2 9 2 8 1 8 2 8 3 8 2 8 2 10 2 9 2 9 3 8 3 8 3 6 4 4 5 3 6 3 7 1 8 1 8 0 9 0 8 0 9 0 9-1 9 0 8-1 9 0 8 0 8 0 8 0 8 0 7-1 8-1 8-1 8 0 8 0 7 0 7 0 7 0 7 0 6 1 6 0 5 1 5 2 4 2 5 2 4 1 5 2 4 1 5 1 4 1 4 1 4 1 3 2 3 1 3 1 3 1 3 1 3 1 4 1 3 1 3 1 3 1 3 1 2 1 3 1 3 2 3 2 4 3 3 3 4 4 4 3M116 194l3 14 3 15 4 14 3 13 3 11 2 11 3 10 3 9 3 9 3 9 2 8 3 7 2 7 3 7 2 7 3 7 3 6 2 7 3 5 4 4 3 3 5 3 4 2 5 2 7 1 8 1 8 0 8 1 8 0 8-1 9-1 8-1 9 0 8-1 8 0 8-1 8 0 8-1 8 0 7-1 7 0 7 0 7 0 7 0 6-1 6-1 6 0 5 0 5 0 5 2 4 1 4 2 3 2 4 2 3 2 4 3 3 4 4 3 3 4 3 3 3 2 2 3 3 2 3 2 3 1 5 2 5 2 5 2 4 2 4 2 3 2 3 1 4 2 3 2 4 3 4 4 4 4 4 3 4 4M107 194l2 14 2 15 4 14 5 13 4 11 3 11 3 10 3 9 3 9 3 9 2 8 2 8 2 8 2 8 3 9 2 8 3 9 3 8 3 8 3 6 3 6 4 5 5 3 5 4 7 2 7 1 9 0 8 0 9 0 9-1 8-1 9-1 9-1 9-1 8-2 9-1 8-1 8-1 8 0 7 0 8 0 7 0 8 0 7 1 7 0 6-1 7 0 6 0 6 0 5 1 4 1 4 2 5 2 4 2 4 2 5 2 4 1 4 3 4 2 4 1 3 2 4 2 3 1 3 2 4 1 3 1 4 2 3 1 3 1 3 1 3 1 2 0 3 2 3 1 3 3M156 300l-3-1 0 1 2 8 2 8 0 7 0 7 0 8 0 8 0 9 -1 11 0 11 1 10 2 10 2 9 4 7 4 5 6 3 7 2 8 1 9 0 8-1 9 0 9 0 9-1 9 1 8 0 9 1 8 0 8 0 8-1 8 0 8 0 8-1 8 0 8 0 8 0 8 1 7 1 8 1 7 1 7 1 6 0 6 0 5 0 5 1 4 1 5 0 5 1 5 0 5-1 5 0 4 1 4 0 4 1 4 2 4 1 4 1 3 1 3 1 2 0 2 1 2 1 3 0 2 1 2 0 3 1 2 1 3 2 3 2 3 3 3 2M119 194l4 14 4 15 2 14 3 13 2 11 2 11 3 10 3 9 2 9 3 9 2 8 1 7 1 8 2 7 1 8 1 9 2 9 2 9 2 8 3 6 3 7 4 5 4 5 6 2 7 2 8 0 8 0 9 0 8 0 9 0 8-1 9-1 9-1 9-1 8-1 9-1 8-1 8-1 7 0 8-1 8 0 7-1 8 0 7 0 7 0 6 1 7 2 6 1 6 2 5 1 5 1 4 1 4 1 4 1 5 2 4 1 4 2 5 2 3 1 4 2 3 1 3 1 4 2 3 1 3 2 4 1 3 1 4 2 3 1 3 1 3 1 2 1 3 1M114 108l-4-1 0 1 1 12 1 12 1 12 1 11 0 12 2 13 1 14 1 14 2 15 2 14 3 13 4 11 3 11 3 10 2 9 2 9 1 9 2 8 2 8 3 8 3 7 2 8 2 9 3 8 2 8 3 7 3 6 4 5 4 4 5 3 6 2 7 1 8 1 8 0 9-1 8 0 9-1 8 0 9-1 8 0 9 0 8-1 8-1 8-1 8-1 8-1 8-1 7 0 8 0 7 0 7 0 6 0 7 0 6 0 6 1 6 0 5 2 4 1 4 2 4 1 4 2 4 2 4 3 5 2 4 3 3 2 4 1 3 2 3 2 3 2 3 1 4 2 3 1 4 2 4 1 4 2 3 1 3 1 2 1 3 1 3 2 4 3 3 3 4 3 4 4 4 3 4 3 4 3 4 3 5 3 6 6 8 7 9 9 10 10 10 11 10 9M123 155l-3-1 -1 1 0 12 0 13 2 14 2 14 3 15 4 14 3 13 2 11 2 11 1 10 2 9 3 9 2 9 2 8 2 8 2 7 3 7 3 7 3 6 3 7 3 6 4 4 3 4 4 3 4 2 5 1 6 1 7 0 8-1 9 0 8-1 8 0 9-1 8 0 8-1 8-1 8-1 9-1 8-1 8 0 8-1 7 0 8-1 6 0 7 0 7 0 6 1 6 0 6 0 5 0 6 0 4 0 5 1 3 1 4 1 3 2 4 3 3 3 3 4 3 3 3 4 3 2 2 3 2 3 3 3 2 3 4 3 4 3 5 2 6 2 5 2 4 2 4 2 3 1 4 2 3 2 4 2 4 4 4 3 4 5 5 4 4 4 4 3 4 3 4 3 5 4 6 6 8 7 9 10 10 10 10 10 10 10M136 271l-2 0 0 1 1 10 2 9 1 9 1 9 2 8 2 8 2 8 1 9 3 8 2 9 2 9 3 10 2 9 2 8 3 7 4 6 5 4 6 3 7 2 7 1 9 0 8 0 9 0 8 0 9 0 9-1 9 0 9-1 8 0 8 0 8-1 8 0 8 0 8 0 8 0 7 0 8 0 8 0 7 0 7 1 7 0 7 0 6 0 5 1 5 1 5 1 4 1 5 1 5 0 4 1 5 1 4 1 5 1 4 1 4 2 3 1 4 1 3 1 3 1 3 1 3 1 3 1 3 1 2 1 3 1 2 0 3 1 2 2M139 291l2 9 3 9 2 8 3 7 3 8 3 6 4 7 4 6 3 4 4 5 4 3 4 2 4 2 4 1 5 0 6 0 7 0 8-1 8-1 9-1 8 0 8-1 8-1 8-2 9-1 8-1 8 0 8-1 8 0 7 0 8 0 7 0 6 0 7-1 6 0 5 0 6 0 6 0 5 0 5 0 4 0 4 1 4 1 3 1 3 2 3 3 2 3 3 4 2 4 2 5 3 4 2 3 2 4 2 5 2 4 4 3 5 3 5 3 6 2 6 2 5 2 4 2 4 2 3 2 4 2 4 3 4 4 5 4 5 5 4 4 5 5M109 250l-3-1 0 1 3 11 3 11 4 9 3 10 2 9 3 9 3 9 3 9 4 9 4 9 3 9 3 10 3 11 3 9 4 8 4 7 4 6 4 5 5 4 6 4 7 2 7 1 9 0 8-1 9 0 9-1 9-1 9-1 9-1 9-1 8 0 9-1 7-1 8 0 8 0 8 0 8 0 8 0 8 0 7 0 7 1 7 0 7 0 7 1 6 1 5 1 5 1 5 2 4 1 5 2 5 1 5 1 5 1 5 1 4 1 4 1 4 1 4 1 3 0 3 1 4 1 3 1 2 1 3 1 2 1 2 0 3 0 2 1 2 1 3 1 3 3 3 2 4 3 3 3 4 3 4 2 4 3M113 208l-2-1 -1 1 2 15 2 14 3 13 3 11 3 11 3 9 2 10 2 9 2 9 2 9 3 8 3 8 4 9 3 8 5 8 5 6 5 5 5 4 4 2 5 2 5 1 5 0 6 0 8-1 8-1 8 0 9-1 9-1 8-1 8-1 8-2 9-1 8-1 8-1 8-1 8-1 8 0 8-1 7 0 7 0 6 0 6 0 7-1 6-1 5-1 6-1 5 1 4 1 4 2 4 2 3 2 4 2 3 2 3 3 3 5 3 4 3 4 3 4 2 3 2 4 2 3 3 3 3 3 4 2 5 2 6 2 5 2 5 2 4 2 3 2 4 1 3 3 4 3 4 3 5 4 4 4M105 155l-1 12 1 13 1 14 2 14 4 15 3 14 3 13 2 11 3 11 2 9 3 10 2 9 2 9 2 9 1 8 3 9 3 8 3 10 3 9 2 11 2 10 3 10 2 8 4 7 4 5 6 3 7 2 7 1 8 0 8 1 9 0 8 0 8 1 9 0 9-1 9-1 9 0 8 0 8 1 8 0 8-1 8 0 8 0 8-1 8 0 8 0 7 0 8 0 7 1 7 0 7 1 6 1 6 1 5 1 4 0 5 0 4 0 5 0 5 1 5 1 4 1 5 2 4 0 4 1 3 1 4 1 3 1 3 1 3 1 3 1 3 1 2 1 3 1 2 0 3 1 2 1 3 1 3 2 3 2 3 3 3 3 4 3 4 2 4 3 4 3 5 3 6 6 8 7 9 9 10 10 10 10 10 10M112 167l-4-1 -1 1 2 13 4 14 3 14 3 15 4 14 3 13 4 11 3 11 3 10 3 9 2 9 3 9 2 8 3 8 1 7 2 8 1 8 2 8 2 9 1 10 1 10 1 10 2 9 3 8 4 6 7 2 7 1 9-1 9-1 8-1 9 0 8 0 9 0 9-1 9-1 9 0 8-1 8 0 8 0 8 0 8 0 8 0 8 0 8 0 7 0 8 0 7 1 7 0 7 0 7 1 6 0 5 1 5 2 5 1 5 2 4 2 5 1 6 2 5 0 5 1 4 1 4 0 4 1 3 0 4 1 3 1 3 1 3 1 3 1 3 1 2 1 2 1 3 0 2 0 2 1M127 300l2 9 3 9 1 9 3 8 2 10 3 9 3 11 2 10 4 10 3 8 4 8 4 6 4 5 5 4 6 4 7 1 8 1 8 0 9-1 9 0 9 0 9-1 9-1 9 0 8-1 9-1 8 0 7 0 8 0 8 1 8 0 8 0 8 0 8 1 7 1 8 1 7 0 7 1 7 0 6 0 6 1 5 1 4 1 5 1 5 1 5 0 5 1 4 0 5 0 5 1 4 1 4 1 4 1 4 1 3 1 3 1 3 1 2 0 2 1 3 0 2 1 2 1 3 0 2 1 3 1 3 2 3 3M129 261l3 11 2 10 2 9 3 9 2 9 2 8 2 8 2 8 3 8 2 7 3 8 2 8 3 8 3 7 4 5 3 4 5 4 5 2 5 2 7 2 8 0 8 1 8 0 9 0 8 0 9-1 8-1 9-1 9-1 8-1 8-1 8-1 8 0 8-1 7 0 8 0 7 0 7 0 7 0 7 1 6 1 6 1 6 1 6 1 5 0 4 1 4 1 4 1 4 1 4 2 4 2 4 3 4 2 3 3 4 2 3 2 3 2 3 1 3 2 3 2 4 1 4 1 4 2 4 1 3 2 3 1 3 1 3 2 3 1 3 3 4 3 4 4 4 3 4 4 4 3 4 2M86 155l3 12 3 13 3 14 2 14 2 15 2 14 4 13 4 11 5 11 4 9 4 10 4 9 3 9 3 9 4 8 5 8 5 8 5 7 5 6 5 5 6 4 5 2 5 0 5 0 5 0 5 0 6 0 6 0 8 0 8 0 9 0 8 0 7 0 8 0 8-1 9-2 8-1 8-2 9-1 8-2 8 0 7-1 7-1 7 0 6 0 6-1 6 0 5 1 6 0 5 0 5 0 4 1 4 1 3 0 4 1 2 1 3 2 3 3 2 4 2 5 2 4 2 5 2 4 2 5 3 4 2 4 4 4 5 3 6 3 6 2 6 3 5 2 4 2 4 2 3 2 4 2 4 3 4 4 5 4 4 4 5 5 5 4 4 4M112 155l1 12 2 13 4 14 3 14 3 15 2 14 2 13 1 11 2 11 4 10 4 9 4 9 3 9 2 8 3 7 2 7 3 7 2 7 3 6 2 7 2 7 3 6 2 6 2 6 3 5 4 5 5 4 7 2 7 1 9-1 9-1 8 0 9-1 8 0 9-1 8 0 9-1 8 0 8-1 8 1 7 1 7 1 8 1 7 1 8-1 7-1 7-1 7-2 7-1 6 0 6 0 6 1 5 1 4 2 4 1 4 1 4 2 4 2 4 3 4 2 4 3 4 2 3 2 3 1 3 2 3 2 3 2 4 1 4 2 4 1 3 1 4 2 3 1 3 1 3 1 3 2M128 291l3 9 3 9 3 9 2 8 3 8 2 9 2 9 2 9 2 11 2 10 3 9 3 7 4 7 4 6 5 4 5 3 7 3 8 1 8 1 9 0 8 0 9 0 9 0 8 1 9 0 9 0 8 0 8-2 8-1 9-2 8-1 8-1 8 0 8 0 8 1 7 1 8 1 7 1 7 0 7 0 6-1 5 0 5 0 5 1 5 2 4 1 5 2 6 1 5 1 4 1 5 1 4 1 4 1 4 0 4 1 3 1 3 0 2 1 3 1 2 1 3 1 2 0 2 1 3 0 2 1 3 2M109 108l0 12 0 12 2 12 4 11 3 12 2 13 0 14 -1 14 0 15 2 14 2 13 4 11 3 11 2 10 2 9 2 9 2 9 2 8 1 9 2 8 2 8 3 9 4 8 4 7 4 6 6 3 5 2 6 0 5-1 7-2 6-2 8-2 8-2 9-1 9-1 8-1 8-1 8-1 8-1 8-1 8-1 8-1 9-1 8-1 8-2 8-2 7-1 7 0 6 0 5 1 6 2 5 1 6 0 5 1 5 0 4 0 4 1 4 0 3 1 3 2 2 2 3 2 2 4 2 3 2 5 2 4 2 5 3 5 2 5 3 4 4 4 4 3 6 2 6 2 5 2 5 2 5 2 3 2 4 2 4 3M117 144l1 11 1 12 1 13 2 14 2 14 1 15 2 14 2 13 2 11 3 11 3 10 2 9 2 9 2 9 1 8 1 8 2 8 1 8 2 9 2 9 2 9 2 9 3 8 3 7 3 7 4 5 5 3 6 3 7 1 8 1 8 0 8 1 9 1 8 0 9 0 9-1 9-1 8-1 9-1 8 0 8-1 8-1 7 0 8 0 8 1 8 0 7 0 8 1 7 0 7 0 6 0 7 1 6 0 5 1 5 1 4 2 5 1 4 1 5 1 5 1 4 0 3 0 4 0 3 0 3 1 3 2 3 2 4 2 4 1 4 2 3 1 3 2 4 1 3 1 2 1 3 1 3 1 2 2M113 108l-5-1 0 1 0 12 1 12 1 12 -1 11 -1 12 0 13 2 14 3 14 4 15 3 14 2 13 3 11 2 11 3 10 2 9 3 9 2 9 2 8 2 9 2 8 3 8 2 9 3 8 3 9 3 8 4 6 4 5 4 4 4 4 5 2 6 2 7 2 7 1 8 2 8 1 9 0 8 0 9-1 9-3 10-3 9-3 8-2 9-2 8 0 7 1 7 2 8 1 7 1 7 0 7 0 7-1 7 0 7-1 6 0 6 1 6 1 5 1 4 2 4 2 4 2 4 1 5 2 4 1 3 2 4 1 4 2 3 2 3 2 3 3 4 2 3 2 4 1 4 2 4 1 3 1 4 2 3 1 3 1 2 1 3 2 4 2 3 2 4 4 3 3 4 3 4 3 4 3 4 3M117 167l3 13 5 14 7 14 6 15 3 14 0 13 0 11 0 11 2 10 3 9 4 9 4 8 2 8 2 7 1 7 0 7 2 7 1 7 1 8 1 8 2 8 1 8 3 7 2 7 4 6 5 4 6 3 8 1 8 0 9 0 8 0 9 0 9-1 9 0 9-2 8-1 9-2 8-2 9-1 8-1 7 0 8 0 8 0 7 0 7 0 8 1 7-1 6-1 7-1 6-1 6 0 5 1 4 2 4 2 5 3 4 3 5 3 4 1 4 2 5 2 4 1 3 2 4 2 3 1 3 1 3 1 3 1 3 1 3 1 4 1 3 2 4 2 3 1 3 1 2 2 3 1 3 3 4 2 3 3 4 3 4 3 4 3 4 3 4 3 5 4 6 5 8 8 9 9 10 10 10 10 10 10M119 131l-3 0 -1 1 2 12 0 11 -1 12 0 13 2 14 2 14 2 15 3 14 2 13 3 11 2 11 3 10 3 9 2 9 2 9 2 8 2 8 3 7 4 7 3 7 2 8 1 8 2 9 2 9 2 7 2 7 4 6 4 5 5 4 7 2 8 1 8 0 9 0 8 0 8 1 9 0 9 0 9-1 8-1 8 0 8 0 8 0 8 0 8 0 8-1 8-2 8-1 8-1 7-1 7 1 7 1 7 2 6 3 6 2 5 2 5 1 5 1 4 0 4 0 5 0 5 1 4 1 4 1 4 1 4 0 3 1 3 1 3 2 3 1 3 1 4 1 3 1 3 1 4 2 3 1 2 1 3 1 3 1 3 2 3 2M118 132l-3-1 0 1 0 12 0 11 1 12 2 13 1 14 2 14 3 15 3 14 4 13 4 11 3 11 3 10 1 9 1 9 2 9 3 8 3 7 2 7 2 8 1 7 1 9 1 8 1 10 1 10 1 10 2 9 3 8 4 6 6 4 7 2 7 2 9 0 8 0 9 0 8 0 9 0 10-1 9-1 8 0 9-1 8 0 7 0 8 0 8-1 8 0 8 0 8 0 8 0 8 0 8 1 7 0 7 0 7 1 6 1 6 0 5 1 4 1 5 0 5 1 4 0 6 2 5 1 5 2 5 1 5 1 3 1 4 0 3 0 4 1 2 0 3 1 3 1 2 0 2 1 2 0 2 1 3 0 2 1 3 1M117 131l-3 0 0 1 0 12 -1 11 0 12 2 13 3 14 4 14 3 15 3 14 1 13 2 11 1 11 3 10 4 9 5 9 4 9 2 8 2 7 0 8 1 7 2 8 1 8 2 9 1 9 2 8 3 8 2 8 3 6 5 5 5 3 7 2 8 2 8 0 8 1 9 0 8 0 9-2 10-1 9-2 9-2 8-1 8 0 8 0 8 0 7 0 8 0 8 0 8 0 7 0 8-1 7-1 7 0 7 0 6 1 6 1 5 3 5 2 5 3 4 2 4 1 5 0 4 0 5 0 4 0 4 2 3 1 4 2 4 2 4 2 3 1 4 1 3 1 3 1 2 1 3 1 3 0 2 1 3 1 3 1 3 2 3 3M115 167l-2-1 -1 1 3 13 4 14 4 14 4 15 2 14 3 13 2 11 3 11 3 10 3 9 4 9 2 9 1 8 1 7 0 8 2 7 3 7 3 8 3 6 3 6 4 4 4 3 5 2 4 1 5 0 6 1 7 1 7 1 8 0 9 0 8 0 8-1 8 0 8 0 8 0 8 0 9-1 8-2 9-2 8-3 8-2 8-1 6 0 7 0 6 0 6 0 6 0 6 0 5 0 6 1 4 1 5 1 3 2 4 1 3 2 3 2 4 3 3 4 3 3 2 4 3 3 3 3 2 3 2 3 2 3 4 3 4 3 5 2 6 2 5 2 4 2 4 2 4 2 3 1 4 2 3 3 4 3M145 317l1 8 1 8 2 8 1 8 2 10 2 9 2 9 2 9 3 7 4 6 4 5 5 4 5 3 7 2 8 1 8 1 9 0 8-1 9 0 9-1 9-2 9-1 9 0 8 0 8 0 7 0 8 1 8 0 8-1 8 0 7 0 8 0 7 0 8 0 7 0 6 1 7 1 6 1 5 1 5 1 5 1 4 2 4 1 5 1 5 1 5 1 4 1 4 0 3 0 3 0 3 1 3 1 3 2 4 2 4 1 4 2 3 1 3 1 2 1 3 1 2 1 3 1M123 261l-3-1 -1 1 4 11 3 9 3 10 2 9 3 9 3 9 2 8 3 8 3 8 3 9 3 8 3 9 2 9 2 9 3 8 3 7 3 8 3 7 5 6 6 3 8 2 8 1 9 0 8 1 9 0 9 0 9-1 9-1 9-1 9-1 8-2 8 0 8-1 8 0 8-1 8-1 9 0 7 0 8 0 8 1 7 1 7 2 7 2 6 1 6 1 5 1 5 0 4 0 5 0 5 0 5 1 6 2 5 1 5 1 5 1 4 0 3 0 3 0 3 0 2 0 2 0 3 1 2 1 3 1 2 1 3 1 2 0 3 1 2 1 3 2 3 2 3 3 3 2 4 3M118 96l1 12 1 12 2 12 1 12 0 11 1 12 2 13 2 14 5 14 6 15 4 14 3 13 1 12 2 10 1 10 2 9 2 9 1 8 0 8 0 8 1 7 0 7 1 8 0 9 0 10 1 10 1 10 2 9 1 10 3 8 4 6 6 4 7 3 7 1 9-1 9-1 9-1 9-1 9-1 9-1 9 0 9 0 8 0 8 0 8 0 8-1 8-1 8-2 9-1 8-1 7 0 8 1 7 2 7 2 7 2 7 1 6 1 6 1 5 1 4 1 5 1 5 0 5 1 5 0 5 0 4 0 4 1 4 0 4 1 3 0 3 0 3 1 3 1 3 0 3 2 3 1 3 2 3 1 3 1 2 1 2 1M107 96l3 12 1 12 -1 12 -2 12 -1 11 0 12 1 13 1 14 2 14 1 15 3 14 3 13 3 11 3 11 2 9 2 10 2 9 2 9 2 9 2 8 2 9 2 9 3 9 4 10 3 9 4 8 3 7 4 6 4 5 5 4 5 3 6 2 7 1 8 0 9 0 8-1 9 0 9-1 9-2 9-1 9-2 8-1 8 0 8 1 7 2 8 1 7 1 8 0 8 0 8-1 7 0 7-1 7 0 7 0 7 0 6 0 6-1 5 0 4 1 5 1 4 1 4 2 4 1 4 2 4 2 4 2 4 2 4 2 4 2 3 2 4 2 3 1 3 1 3 1 4 1 3 1 3 2 3 1 3 1 3 1M115 237l3 13 4 11 3 11 2 9 3 10 2 9 2 9 3 9 2 8 2 8 3 9 2 8 3 10 2 10 3 8 4 8 4 6 3 5 5 5 4 3 6 3 7 2 8 1 8 0 9-1 9-2 9-2 10-3 9-2 9-1 8-1 8 1 8 0 8 1 7 0 8-1 8 0 8 0 7 0 8-1 7 0 7 1 6 0 7 1 6 1 6 1 5 2 5 1 4 2 4 2 5 2 4 1 5 2 4 1 4 1 4 1 3 1 3 1 3 1 3 2 3 1 4 1 3 1 4 2 3 1 4 1 3 2 3 1 2 1 3 1 3 2 3 2 4 3 3 3 4 3 4 4 4 3 4 2M149 272l3 10 3 9 4 9 2 8 1 8 0 7 0 6 1 7 2 6 1 6 1 7 1 8 1 7 2 7 1 8 2 7 3 8 4 6 6 5 7 3 8 0 9 0 8 0 9 0 9-1 9 0 9-1 8-1 8 0 8 0 8 0 8-1 8 0 8 0 8 0 8-1 7 0 8 1 7 0 7 0 6 1 7 1 6 1 5 1 5 1 5 1 4 0 4 1 5 1 4 1 5 1 4 1 4 1 4 1 3 1 4 1 3 1 3 2 3 1 4 1 3 1 3 1 3 1 3 1 3 1 2 1 3 1 3 2 3 2 3 3 3 2 4 4 4 3 4 3M118 167l-3-1 -1 1 3 13 2 14 1 14 1 15 2 14 2 13 2 11 2 11 3 10 2 9 2 9 0 9 1 9 1 8 2 8 3 9 3 9 2 10 2 10 3 9 2 10 3 8 3 8 3 7 5 6 6 3 7 2 8 0 8 0 9-1 9 0 9-1 9-2 10-2 9-3 9-1 8 0 8 0 8 0 8 1 7 1 8 0 8-1 8 0 8-1 8 0 7-1 7 0 7 1 7 1 6 2 5 2 6 2 4 2 5 1 5 2 5 1 5 2 5 1 5 0 5 0 4 1 3-1 3 1 3 0 4 1 3 0 2 1 3 1 3 1 2 1 3 1 2 0 3 1 2 1 3 1 3 2 3 3 3 2 3 3M112 108l-3 12 -1 12 1 12 3 11 4 12 3 13 3 14 1 14 2 15 2 14 3 13 3 11 3 11 3 10 2 9 3 9 3 9 3 8 2 7 1 7 1 8 2 7 2 8 2 8 2 8 2 8 2 7 2 8 3 6 4 6 6 3 7 2 7 0 9 0 9-1 8 0 9 0 9-1 9-1 8-1 9-1 8-1 8 0 8-1 8 0 8 0 7 0 8 0 8 0 7 0 7 1 7 0 7 1 7 0 6 0 6 1 5 0 5 0 4 1 4 1 4 2 4 1 5 1 4 2 4 2 4 1 3 2 4 1 2 1 3 1 3 2 4 1 4 2 3 1 4 2 4 1 3 2 3 1 2 1M113 237l2 13 2 11 3 11 3 9 3 10 3 9 3 9 4 9 4 8 4 7 5 8 6 6 5 6 5 4 6 2 5 1 5 1 4-1 5 0 5 0 5-1 7 0 8 1 8 0 8 0 8 0 8-1 8-2 8-2 8-2 9-2 8-2 8-1 9 0 7 0 7 0 7 1 6 1 6 0 6 0 6 0 5-1 5-1 5 0 5 0 4 1 4 0 3 1 3 1 3 1 2 3 2 3 2 4 2 5 2 5 2 5 2 5 2 5 2 5 4 5 4 5 5 3 5 3 7 2 6 3 5 2 5 2 4 2 3 2 4 2 3 3 5 3 4 4M138 300l2 9 3 8 3 8 3 7 3 8 2 7 2 8 3 8 4 6 3 6 4 4 3 4 5 2 5 2 6 1 7 1 7 0 9 0 8 0 8 0 8 0 9 0 8-1 9-1 8-2 9-3 9-2 8-3 8-1 8 0 7 1 7 1 6 2 7 1 6 1 7 0 6-1 6-1 5 0 5 0 5 1 4 1 4 1 3 1 4 2 3 3 4 2 3 4 3 3 3 3 3 3 3 3 3 3 3 3 3 2 4 2 5 2 4 2 5 1 4 2 4 2 3 1 3 2 3 2 4 2 3 3 4 3 4 4 5 4 4 4 4 3 4 3M140 237l3 13 2 11 1 11 2 10 2 9 2 9 2 8 2 8 2 7 2 7 2 6 3 6 2 6 2 5 2 6 2 6 3 4 2 4 4 4 4 2 6 2 6 0 8 0 9 0 8-1 9 0 8 0 8 0 8-1 8-1 9-1 8 0 8 0 8 0 7 0 8 0 7-1 8-2 7-1 6-2 7 0 6 0 6 0 5 0 5 1 5 0 5 1 4 1 3 2 3 2 4 3 3 3 3 3 4 3 2 4 3 3 3 3 3 3 2 3 3 3 3 3 4 2 5 2 5 2 5 1 4 2 4 2 4 2 3 1 3 2 4 3 4 3 4 4 4 4 5 4 4 4 4 4 4 2M104 119l-2 0 -1 1 3 12 2 12 1 11 2 12 2 13 2 14 2 14 3 15 2 14 3 13 4 11 3 11 3 10 3 9 2 9 1 9 2 8 3 8 2 8 3 8 2 8 1 9 1 11 2 10 2 9 2 9 3 8 3 7 5 5 6 3 7 0 9 0 8 0 9 0 8 1 8 1 9 1 8 1 9 0 9-1 8 0 8 0 8 0 8 0 8 0 8-1 8 0 8-1 8-1 8-1 8 0 7 0 7 1 7 0 6 1 6 1 5 1 4 2 5 1 5 2 5 1 5 1 5 0 5 1 5 1 4 0 4 1 4 0 3 1 3 0 3 1 3 1 3 1 2 1 3 1 2 0 2 1 2 0M145 300l3 9 2 8 2 7 2 7 2 7 2 7 2 8 2 7 2 8 2 7 2 7 3 5 4 5 4 3 6 2 7 2 8 0 8 0 8 0 9 0 8 0 9-1 8-1 9-1 8 0 8 0 8 0 8 1 8 0 8-1 8-1 7-2 8-1 7-2 7 0 7 0 6 1 6 0 6 1 6 1 4 1 5 2 4 1 4 2 4 3 4 2 4 2 4 2 4 2 4 2 3 2 3 2 3 2 3 2 3 1 3 1 4 2 4 1 4 1 4 2 3 2 3 1 3 1M103 155l2 12 3 13 3 14 3 14 1 15 1 14 1 13 2 11 3 11 3 9 3 10 3 9 3 9 2 9 2 8 2 8 2 9 2 10 2 10 3 10 3 10 3 8 3 7 4 6 4 5 5 4 6 4 7 2 8 1 8 0 9 0 8 0 9 0 9-1 9-1 9-1 9 0 8 0 8 1 7 0 8 0 8 0 8 0 8-1 8-1 8-1 8 0 7 0 7 0 7 2 7 1 6 2 6 1 5 2 4 0 5 1 4 0 5 0 5 1 5 1 5 1 4 1 4 1 4 1 4 1 3 0 3 1 2 0 3 0 3 1 2 1 3 1 3 1 3 1 2 1 3 2 3 1 2 2 4 2 3 3 3 3 4 3 4 2 4 3 4 3 5 3 6 6 8 7 9 9 10 10 10 10 10 10M103 167l-2-1 0 1 2 13 2 14 2 14 3 15 2 14 3 13 3 11 3 11 3 9 3 10 3 9 2 9 3 9 3 8 2 8 3 9 3 9 3 9 3 9 3 8 3 8 3 7 4 6 4 5 5 4 5 4 7 3 7 1 8 2 8 0 9 1 8 0 9-1 9-1 9 0 9-1 8 0 8-1 8-1 8-1 9-1 8-1 8-1 7 0 8 0 7 0 8 0 7 0 6 1 7 0 6 1 5 1 5 1 5 2 4 1 4 2 5 2 5 2 5 1 5 2 5 1 3 1 4 0 2 0 3 0 3 1 3 1 3 1 4 1 3 1 3 2 3 1 2 0 3 1 2 1 3 2 3 2 3 3 4 2 3 3 4 3M103 131l-3 0 -1 1 2 12 1 11 1 12 1 13 2 14 4 14 4 15 5 14 3 13 4 11 3 11 4 10 3 9 3 9 2 9 3 8 2 8 3 7 3 8 4 6 4 7 5 4 5 3 5 2 4 2 4 0 5 1 4 0 6 0 7 0 8 0 8 0 8-1 8 0 8-1 8-1 9-2 8-1 8-2 9-2 8-1 8-1 8-1 7 0 7 1 6 0 6 1 6 0 6 0 6-1 5 0 5 0 5 0 4 0 4 1 3 0 3 1 3 1 3 3 2 3 2 4 2 5 2 5 2 4 3 5 2 4 2 5 3 4 3 4 5 4 6 2 6 3 6 2 5 2 5 2 4 2 3 2 4 3 4 2 4 4 5 4 4 5 5 5 5 4M113 108l3 12 1 12 2 12 2 11 3 12 2 13 1 14 1 14 0 15 1 14 3 13 3 11 3 11 2 10 3 9 2 9 3 9 2 8 0 7 0 8 0 8 1 9 0 10 2 10 1 10 2 10 3 8 3 7 4 5 5 5 6 4 6 3 8 1 8 1 8 0 9 0 9 0 9 0 9-1 9-1 9-1 8 0 8 0 8 0 8 0 7 0 8 0 9-1 8-1 8-1 8-1 7-1 7 0 7 0 7 0 6 0 5 1 5 1 5 1 4 2 5 2 5 2 5 1 5 2 5 0 4 1 4 1 4 0 3 1 3 1 4 0 3 1 3 1 2 1 3 1 3 1 2 1 3 1 2 1 3 1 3 2 3 1 3 3 3 2 3 3 4 3 4 2 4 3M113 208l4 15 4 14 3 13 3 11 3 11 3 10 2 9 3 9 2 9 3 8 2 8 2 8 2 8 3 8 1 9 2 9 1 10 1 10 3 9 3 7 3 7 4 6 6 4 7 2 8 0 9-1 8 0 9-1 9 1 8 0 9 0 9 0 8 0 9 0 8-1 8-1 8-1 8-1 8 0 8 0 8 0 8 2 7 1 7 1 8 1 7 0 7 0 6 0 6 0 5 0 4 1 5 2 5 1 5 2 5 2 5 1 5 1 5 0 4 0 4 0 3 1 3 0 3 0 3 1 3 1 3 1 2 0 3 1 2 1 2 1 3 0 2 2 3 1 3 2 3 2 3 2 3 3 4 3 4 2 4 3M154 308l-4-1 0 1 2 8 2 8 3 7 3 6 1 7 2 7 1 7 2 7 2 7 2 7 2 6 3 6 4 4 5 4 7 2 8 0 8 0 9 0 8 1 8 0 8 0 9 0 9-1 8-1 9-2 8-1 9-2 8-1 7 0 8 0 7 0 7 0 8 1 6 0 7 0 7 0 6 1 6 1 6 1 5 1 4 1 4 1 4 1 4 1 4 1 4 2 4 2 4 2 4 2 3 2 3 2 3 2 3 1 3 2 4 2 4 2 4 1 4 2 3 1 4 2 3 1 3 2M118 179l-4 0 0 1 1 14 2 14 1 15 1 14 1 13 3 11 4 11 4 10 4 9 2 9 1 9 1 8 1 9 2 8 3 8 2 9 3 9 3 8 4 8 4 6 4 5 4 5 4 4 4 4 6 3 6 2 8 1 9-1 8 0 9-1 9-1 9-1 8-1 9-1 9-1 8 0 8-1 8 0 8 0 7 0 8 0 7 0 8 1 7 0 7 0 7 0 6 0 7 1 6 0 6 1 5 0 4 1 4 0 4 1 4 1 4 1 5 2 4 3 4 2 4 3 3 2 4 2 3 1 3 2 3 1 3 2 4 1 4 1 4 2 3 1 3 2 3 1 3 2 3 1 3 2 3 2 4 2 3 3 4 4M107 56l-2-1 -1 1 5 2 2 2 2 12 3 12 2 12 2 12 2 12 1 12 2 12 1 11 -1 12 -1 13 0 14 3 14 4 15 4 14 4 13 2 11 2 11 2 10 1 9 2 9 2 8 2 8 1 8 1 7 1 8 0 8 1 8 1 10 1 9 2 10 2 8 2 8 4 6 4 5 6 3 7 1 8 1 9 0 8 0 9 0 8-1 9 0 9-1 9 0 9-1 8-1 8-1 9-2 8-1 8-1 7 0 8 1 8 1 7 1 7 1 7 1 8 0 6 1 7 0 6 1 5 0 5 2 5 1 4 1 5 2 4 1 5 1 5 1 5 1 4 1 4 1 3 1 4 1 3 1 3 1 3 1 3 1 3 1 3 1 3 1 3 1 2 1 3 0 2 2 3 1 3 2 3 3 4 2 3 3 4 4 4 2M117 108l1 12 0 12 1 12 0 11 1 12 1 13 2 14 3 14 4 15 3 14 2 13 2 11 2 11 2 10 2 9 3 9 2 9 2 8 1 7 0 8 0 8 1 9 1 9 1 10 1 10 2 10 2 9 3 8 3 7 4 6 6 4 7 2 8 0 9 0 9-1 8 0 9 0 9-1 9-1 9 0 9-1 8 0 8 0 8 0 7 1 8 0 8 1 8 0 8 0 8 0 8 1 7 0 8 1 7 0 7 0 6 0 6 0 5 0 4 1 5 1 5 1 5 1 5 1 5 1 5 0 4 1 5 1 4 0 3 1 4 1 3 0 3 1 3 1 2 1 3 1 2 1 3 0 2 1 2 0 2 0 3 1 3 2 3 2 3 3 3 3 4 3 4 2M148 249l-4 0 0 1 2 11 2 11 2 10 2 9 3 9 1 8 1 8 1 7 0 7 1 7 1 7 1 8 1 8 0 9 1 10 0 11 2 9 2 8 4 7 5 5 7 2 8 0 9 0 9-1 9-1 8-1 9 0 9-1 9 0 9-1 8 0 8-1 8 0 8-1 8 0 8-1 8 0 8 0 7 1 8 1 7 1 7 1 7 0 7 1 6 0 5 0 5 1 5 1 4 1 5 1 5 0 4 1 5 0 5 1 4 1 4 1 4 2 3 1 4 1 4 2 3 0 3 1 2 1 3 1 3 1 2 1 3 1 2 0 3 1 2 2 3 2 3 2 4 3 3 2 4 3 4 3 4 2M106 180l1 14 2 14 3 15 2 14 2 13 3 11 3 11 4 9 4 10 2 9 3 9 2 9 3 8 4 8 4 7 5 7 4 7 5 5 5 4 4 3 5 2 4 1 4 2 5 1 5 1 7 1 8-1 8 0 9 0 8-1 8-1 9-1 8-2 8-1 8 0 8-1 8-1 9 0 8-1 7-1 7-1 7-1 7 0 6 0 6 0 6 0 5 0 6-1 5 0 4 1 4 1 4 2 3 2 4 3 3 3 3 3 2 3 3 3 2 4 3 3 2 4 2 4 3 4 3 3 3 4 5 3 5 2 6 2 5 2 5 2 4 2 3 2 4 1 3 2 4 3 4 4 4 4 5 4 4 4M113 167l3 13 3 14 2 14 2 15 3 14 2 13 3 11 2 11 3 10 3 9 2 9 3 9 3 8 2 7 3 8 2 7 3 7 3 6 4 6 3 5 4 4 4 3 4 2 5 1 5 0 5 1 7 1 8 0 8 0 9-1 9-3 9-3 9-3 8-3 9-2 8-2 8-1 8 0 8-1 8 0 8-1 6 0 7 1 6 2 5 1 6 1 6 1 5 0 6 0 5 0 4 1 4 1 4 1 3 1 3 2 3 2 3 3 3 4 2 4 3 4 2 3 2 4 2 4 2 4 3 3 3 4 5 3 5 2 6 2 6 2 5 2 4 2 3 2 4 2 3 2 4 3 5 3 4 5 5 4 4 5 5 4 4 4 4 3M119 132l1 12 2 11 2 12 1 13 1 14 1 14 3 15 4 14 4 13 3 11 4 11 2 10 2 9 1 9 2 8 2 8 3 7 2 7 1 7 1 7 1 7 1 8 0 9 1 9 2 9 1 9 2 8 4 8 4 6 6 4 7 2 9 1 8 0 9-1 9-1 9-1 10-1 9-1 8-1 9 0 7 0 8 0 8 0 8-1 8 0 8-1 8-1 8 0 8-1 7 0 7 1 7 1 7 2 6 1 6 2 5 1 4 2 5 1 5 1 5 1 5 1 5 1 5 0 4 0 4 1 3 0 3 0 4 1 3 1 3 1 3 1 3 1 3 1 2 1 3 1 2 1 3 0 2 1 3 2 3 2 3 2 3 2 3 3 4 3 4 3 4 2 4 3 5 4 6 5 8 7 9 9 10 10 10 10 10 10M121 120l2 12 1 12 3 11 3 12 2 13 3 14 3 14 3 15 3 14 3 13 2 12 3 10 2 10 1 9 1 9 0 8 1 8 0 7 2 7 1 7 1 7 0 8 1 8 1 8 2 9 2 7 2 8 3 6 4 5 5 3 7 2 8 1 8 0 9 0 8 0 9 0 8 0 9-1 9-1 9-1 8-1 8 0 8-1 8-1 8 0 8 0 7-1 8 0 7 0 8 0 6 0 7 0 7 0 6 0 6 0 5 1 4 1 5 2 4 2 4 3 5 2 4 2 5 1 4 1 3 1 3 0 3 1 3 1 3 2 3 2 4 2 4 1 4 2 4 1 3 2 3 0 2 1 3 1 3 1 3 2 3 3 4 3M111 120l1 12 -1 12 1 11 0 12 1 13 0 14 1 14 2 15 2 14 3 13 2 11 2 11 3 9 3 10 3 9 2 9 3 8 3 8 3 8 3 8 4 8 3 7 5 6 4 5 5 3 5 2 5 0 6-2 6-2 6-1 8-1 8-1 8-1 9-1 8-1 8-1 8-2 8-1 9-2 8-1 8-1 8-1 8-1 8-1 8-1 7 0 6-1 6 0 6-1 6-1 5 0 5-1 5 1 5 1 4 3 4 2 3 3 3 1 3 2 3 1 2 2 2 3 2 4 2 5 2 5 2 5 3 5 2 5 3 5 3 3 5 3 6 3 6 2 6 2 5 3 4 2 4 2 4 2 4 2M127 193l-3 0 0 1 2 14 3 15 2 14 3 13 2 11 3 11 2 10 2 9 3 9 2 9 2 8 1 7 1 8 0 8 1 8 2 8 2 8 3 9 2 8 3 7 2 6 4 6 4 4 6 2 7 1 8 1 9-1 8 0 9-1 9 0 9-2 9-1 9-1 8 0 8 1 7 2 7 2 8 2 7 0 8-1 8-1 8-1 8-1 7-1 7 0 7 0 7 0 6 0 6 0 5 1 5 1 4 1 4 1 4 1 4 1 5 2 4 1 4 3 4 2 4 2 4 2 3 2 4 1 3 1 3 1 3 1 3 1 4 1 3 2 3 0 2 1 3 1 3 1M105 120l3 12 2 12 0 11 1 12 2 13 1 14 3 14 2 15 3 14 2 13 2 11 1 11 2 10 2 9 3 9 2 9 1 9 3 8 2 8 4 8 4 8 4 7 6 5 5 4 6 1 6 1 5 0 4-1 6 0 5-1 7 0 8 0 9-1 8-1 9-1 8-1 8-1 8-2 8-2 9-2 8-1 8-2 9-1 7 0 8-1 7 0 6 0 6 0 6 0 5 0 6 1 5 0 5 0 5 0 4 1 4 1 3 0 3 1 3 1 2 2 3 4 2 4 2 5 2 6 3 4 2 5 2 5 2 4 2 4 3 3 4 3 6 2 6 3 7 2 5 3 5 2 4 2 4 3 3 2 5 3 4 4 5 5 5 5 4 4 5 5M114 222l-3 0 0 1 1 14 2 13 1 11 3 11 4 9 3 10 4 9 3 9 3 9 4 8 4 8 4 7 5 8 5 6 5 5 5 3 6 2 5 0 5-1 6-1 5-2 6-1 7 0 7 0 9 0 8-1 9-1 8-1 8-2 8-2 8-1 8-2 8-1 9-1 8 0 7 0 7 1 7 1 6 1 6 0 6 0 5-1 6 0 5 0 5 0 5 0 4 0 4 0 3 0 3 1 3 1 2 3 2 4 3 4 2 6 2 5 2 5 2 4 2 5 2 5 3 5 3 3 5 4 6 2 6 3 6 2 6 2 4 2 4 2 4 2 3 3 4 3 5 3 4 5M131 132l1 12 1 11 1 12 2 13 2 14 3 14 1 15 1 14 2 13 2 11 2 11 2 10 2 9 2 9 1 8 0 8 -1 8 -1 7 0 8 -1 9 0 10 0 11 0 12 1 10 2 10 3 9 4 6 5 4 6 4 7 2 8 2 8 0 9 0 8 0 9 0 9 0 9-1 9 0 9-1 8 0 9-1 7 0 8-1 8 0 8 0 9-1 8 1 8 0 8 0 7 1 8 0 7 0 7 1 6 0 6 1 5 2 5 1 5 1 4 0 5 0 5 0 5-1 5 1 5 0 4 1 4 0 3 1 3 0 4 1 3 0 3 2 3 1 2 1 3 1 2 1 2 1 3 0 2 1 3 2 2 1 3 2M97 72l0 12 2 12 4 12 4 12 1 12 1 12 0 11 1 12 1 13 1 14 0 14 0 15 2 14 4 13 5 11 4 11 3 10 2 9 2 9 3 9 1 8 2 9 2 8 3 8 3 8 5 8 4 7 5 5 5 3 5 2 6 0 5-1 6-1 6 0 6 1 8 0 9-1 8 0 9-1 8-1 8-1 8-1 8 0 8-1 8 0 8-1 8-1 9-1 7-1 8-1 6-1 7 0 6 0 6 1 6 0 5 0 6 1 5 0 4 0 4 0 4 0 3 1 3 1 3 2 3 3 2 4 3 4 2 4 3 4 2 4 2 4 3 5 3 4 4 3 5 3 5 3 6 2 5 2 5 2 4 2 4 2 3 2 3 2 4 2 4 4 4 3 5 5 4 4 5 4 4 4M128 261l-3-1 0 1 1 11 3 10 3 9 3 9 4 9 3 8 3 8 3 8 4 7 3 7 4 6 4 6 5 4 4 3 4 3 4 2 4 1 5 1 5 1 7 1 8 0 8-1 9 0 8 0 8 0 8 0 8-2 8-1 9-1 8-1 8-1 8-1 8 0 8-1 7 0 6 0 7 0 6 1 6 0 6 0 6-1 5 0 6 0 4 0 4 1 4 1 3 1 4 2 3 2 3 3 3 3 2 4 3 4 2 4 3 3 2 4 3 4 3 4 4 3 4 3 6 3 5 2 5 1 5 2 3 2 4 1 3 2M111 132l-4-1 0 1 2 12 4 11 3 12 2 13 1 14 0 14 1 15 3 14 4 13 3 11 3 11 3 10 3 9 2 9 2 9 3 8 2 8 3 7 3 7 3 7 2 7 3 7 2 7 4 5 3 4 4 4 4 2 5 1 6 2 7 0 8 1 8 0 8 1 8-1 9 0 8-1 9-1 8-2 8-1 9 0 8-1 8-1 8-1 8 0 7-1 7 0 7 0 6 0 7 0 6 0 6-1 6 0 5 0 5 1 5 1 4 1 3 1 4 2 3 2 4 2 3 4 3 3 4 4 3 3 3 3 2 3 3 2 2 3 3 2 4 2 5 2 5 2 5 1 4 2 4 2 3 1 3 2M106 167l3 13 3 14 3 14 3 15 3 14 3 13 3 11 3 11 4 10 3 9 4 9 2 9 3 8 2 8 3 7 3 7 4 6 3 7 4 5 5 4 4 2 4 2 4 1 5 0 5 1 5 0 7-1 8 0 9-1 9-2 8-1 8-1 8-1 9-2 8-2 8-2 8-1 8 0 8 0 8 0 7 0 7 0 6 0 7-1 6-1 5-1 6-1 5 0 5 0 5 1 4 2 4 2 3 2 3 2 3 1 3 3 3 3 2 4 2 5 2 5 3 4 2 3 1 4 2 4 2 4 3 3 5 4 6 3 7 2 6 3 5 2 5 2 4 2 3 2 4 3 4 3 4 3 5 5 5 4 4 5 5 5 4 3 4 3 4 4 5 4 6 5 8 8 9 9 10 10 10 10 10 10M157 323l-3 0 0 1 2 7 3 6 3 6 3 6 3 5 4 4 3 3 3 4 3 3 3 4 4 3 5 2 7 1 8 0 8-1 9-1 8-1 9 0 8-1 8 0 8-1 8 0 8 0 8-1 8-2 8-1 8-1 7-1 7 0 7 0 6 1 6 2 6 1 6 1 5 0 5 1 5 0 5 0 3 1 4 1 3 1 4 2 3 2 2 3 3 3 3 3 3 4 2 3 2 4 3 3 2 3 4 3 4 3 5 2 5 2 6 2 4 2 4 1 4 2 3 2 3 2 4 2M117 132l-1 12 -1 11 0 12 2 13 3 14 2 14 3 15 3 14 3 13 3 11 3 11 2 10 2 9 2 9 2 9 1 8 1 8 0 8 1 8 2 9 2 8 2 10 2 9 3 8 3 7 3 6 4 5 5 4 6 2 7 2 8 1 8 0 9-1 9 0 8-1 9-1 9-1 9-2 9-1 8-1 8 0 8 0 8 1 7 1 8 1 7 0 8 0 8-1 7 0 7-1 7 0 7 0 6 1 6 0 5 0 4 0 5 1 4 1 4 1 4 2 5 1 4 2 4 1 4 2 4 2 3 2 4 3 4 2 4 1 3 1 3 2 4 1 3 1 3 2 3 1 3 0 2 1 3 1 2 2 3 2M149 324l3 8 2 7 4 6 4 6 4 5 4 4 4 3 4 2 4 1 5 1 4 0 6 1 7 0 7 0 9-1 9-1 8-1 9-2 8-2 8-1 8-2 8-1 8 0 8-1 9-1 7 0 8-1 7 0 6 0 6 0 6 0 6 0 5 0 6 1 5 1 5 1 4 1 4 0 4 1 3 0 2 1 3 2 3 3 2 4 2 4 2 4 2 4 2 4 2 4 2 5 3 5 4 4 6 4 5 3 6 2 6 2 5 2 4 2 4 2 3 2 4 2 4 3 4 4 5 4 5 5 4 4M114 108l1 12 1 12 0 12 0 11 1 12 3 13 4 14 5 14 2 15 2 14 1 13 1 11 1 11 3 10 2 9 3 9 2 9 2 8 3 7 2 8 2 7 2 7 2 8 1 7 3 8 2 7 3 6 3 6 3 5 4 5 5 3 7 3 7 1 9 0 8 0 9-1 9-2 10-4 9-3 9-2 8-1 8 0 8 1 8 1 7 1 8 1 7 0 8 0 7 0 7 0 7 0 7 0 7 0 6 0 6 0 6 0 5 1 4 1 4 1 4 1 4 2 4 2 4 2 4 2 4 2 3 2 3 1 3 2 3 2 3 2 4 2 3 2 5 1 4 2 4 2 3 1 3 1 3 2 3 1 3 1M156 290l-4 0 0 1 1 9 1 8 1 8 1 8 2 6 2 7 1 7 1 7 0 9 1 9 1 8 2 8 2 7 3 7 4 5 6 4 6 2 8 0 9 0 8 0 9-1 9 0 9-1 9-2 9-2 9-2 8-1 8 0 8 0 8 0 7 0 8 1 7 0 8 0 7 0 8-1 7 0 6 0 7 0 6 1 6 0 5 1 4 1 5 1 4 1 4 2 4 2 5 3 4 2 5 2 4 2 3 1 4 2 3 1 3 1 3 2 3 1 4 1 3 1 4 1 3 1 3 1 2 1 3 1 3 2 3 2 3 2 4 3M108 167l-2-1 -1 1 1 13 2 14 3 14 4 15 3 14 2 13 2 11 2 11 2 9 3 10 3 9 3 9 3 8 2 9 2 8 3 8 3 9 3 8 3 8 4 7 4 6 5 4 4 4 5 2 5 2 6 1 6 1 8 2 7 2 8 1 8 1 9 0 9-1 8-2 9-1 9-2 8-1 8-1 9-1 8-1 8-1 7-1 8-1 7 0 7 0 6 1 7 1 6 1 6 0 6 1 6 0 4 0 5 0 3 0 4 1 4 2 4 2 3 2 4 3 3 3 4 2 3 3 3 2 3 3 3 3 4 2 4 2 4 1 4 2 4 1 3 1 4 2 3 1 3 1M142 282l2 9 3 9 3 8 2 8 3 8 2 7 1 7 1 7 2 7 2 7 2 7 3 6 2 6 3 6 3 6 3 5 5 5 6 4 7 2 8 1 8 1 9 0 8-1 9-2 10-2 9-1 8-2 8 0 8 0 8 0 8 0 7 1 8 0 8 0 7 0 8 0 7-1 7 0 6 0 7 1 6 0 6-1 5 1 4 0 4 1 4 2 5 1 4 2 4 2 4 3 4 2 4 1 4 2 3 2 3 2 3 1 4 2 3 1 4 2 3 1 4 1 3 2 3 1 3 1 3 1 3 1 3 2 3 2 3 3M139 271l-4 0 -1 1 1 10 1 9 2 9 3 9 3 8 2 8 3 7 3 8 3 7 3 7 3 6 4 6 3 5 4 4 4 3 4 3 5 2 5 1 7 1 8 1 8-1 9 0 8-1 8-1 9-1 8-1 9-1 8-1 8 0 8 1 8 1 7 0 8 0 7-1 7-1 7 0 7-1 7 0 6 0 6 0 6 0 5 0 5 1 5 1 4 1 4 1 3 2 4 1 3 3 3 3 4 3 3 4 4 4 3 4 4 3 3 3 2 2 3 2 4 2 4 1 4 1 5 2 4 2 3 1 4 2 3 1M96 180l-2-1 0 1 2 14 0 14 1 15 2 14 2 13 4 11 3 11 4 9 3 10 4 9 3 9 4 9 4 9 3 9 5 9 4 9 5 8 5 8 5 6 5 5 4 4 4 3 5 4 5 2 5 3 7 1 7 2 9 0 8 0 8 0 9-1 9-1 9-2 9-1 8-2 8 0 9-1 8-1 8-1 7-1 8 0 7 0 7 1 7 1 7 1 6 2 7 1 6 0 6 0 6 0 4 0 5 0 4 1 4 1 4 2 3 1 4 2 4 2 4 2 3 3 3 2 3 2 3 2 3 2 3 2 4 2 5 2 4 2 4 2 4 2 3 1 3 1 3 1 3 1 3 2 3 3 4 3 4 3 4 4 4 3 4 4 4 2M115 119l-4 0 -1 1 0 12 0 12 1 11 1 12 2 13 2 14 2 14 2 15 3 14 2 13 3 11 2 11 3 10 2 9 3 9 2 9 2 8 2 8 2 8 4 7 4 8 3 6 4 7 4 5 5 3 5 2 5 0 5-1 6-1 6-2 8-2 9-3 9-2 9-2 8-1 8 0 7 1 7 0 8 1 8-1 8-1 8-1 9-2 8-1 7-1 7-1 7 0 6 0 6-1 6 0 5-1 5 0 5 0 5 0 4 0 4 0 3 0 3 1 3 3 2 3 3 5 2 5 2 5 3 5 2 5 2 4 2 5 2 4 3 5 3 3 5 4 6 2 6 3 7 3 5 2 4 2 4 2 3 1 4 3 4 2 4 4 5 4M115 155l2 12 1 13 2 14 3 14 3 15 2 14 3 13 3 11 3 11 2 10 2 9 2 9 2 9 1 8 2 8 3 7 3 7 3 7 3 7 3 6 3 5 5 4 4 2 4 2 5 0 5 1 6 0 7 0 8 0 8-1 9-1 8-1 9-2 8-1 8-2 8-1 9-2 8-1 8-1 8 0 8-1 8 0 6 0 7 1 6 1 6 1 6 0 6-1 5 0 6-1 5 0 4 0 4 1 4 1 3 1 3 1 3 2 2 3 3 4 3 5 2 5 3 6 3 4 3 4 2 4 3 3 3 3 4 3 5 2 6 2 5 2 5 2 4 2 4 1 3 2 4 2 4 3 4 4 4 4 5 5 4 4 5 4 4 4M112 107l-1 0 -1 1 1 12 2 12 1 12 1 11 1 12 2 13 2 14 3 14 3 15 3 14 3 13 3 11 3 11 3 10 3 9 2 9 1 9 1 8 2 7 1 8 2 7 2 8 2 8 2 8 3 7 3 6 3 6 3 4 4 5 5 3 5 4 6 2 8 2 8 0 8 0 9 0 8 0 8 0 9 0 9-1 8-1 9-1 8 0 8 0 7-1 8 0 8 0 7-1 8 0 7 0 7 0 7 0 7 0 6 1 6 0 6 1 5 1 4 1 4 0 4 1 4 1 4 1 4 2 4 2 4 2 3 1 3 2 3 2 3 2 3 2 4 2 4 2 4 2 4 1 4 2 3 1 4 2 2 1 3 1M135 290l-3 0 0 1 1 9 3 9 2 9 2 8 1 8 3 9 2 9 2 9 3 10 3 9 3 7 4 7 3 6 5 4 5 4 6 3 6 1 8 1 8 1 9 0 9-1 8 0 9-1 9 0 9-1 8-1 9 0 8 0 8 0 7-1 8-1 9-1 8-2 8-1 7 0 7 0 7 1 7 1 7 2 6 1 6 2 5 1 5 1 4 1 5 1 4 1 5 1 4 1 5 2 5 2 4 1 4 2 3 1 4 1 3 0 2 1 3 1 3 1 4 1 3 1 3 1 3 1 2 1 3 1 2 1M124 180l1 14 0 14 2 15 3 14 3 13 3 11 4 11 3 10 3 9 3 9 3 8 2 8 2 8 0 7 1 7 1 7 3 7 2 7 2 7 2 7 2 8 2 7 2 7 3 7 5 5 7 3 7 1 9 0 8 0 9-1 9-1 9-2 9-2 9-2 9-1 8 0 8 0 7 2 8 1 7 0 8 0 8 0 8-1 7-1 7 0 7-1 7 0 7 0 6 0 6 1 5 0 4 1 5 1 4 2 4 1 4 1 5 2 4 2 4 2 4 2 4 2 4 2 3 2 3 2 4 1 3 2 4 1 3 1 4 2 3 1 2 1 3 0 2 1 3 1 3 1 3 3 4 3 3 3 4 3M116 179l-3 0 0 1 3 14 4 14 4 15 3 14 3 13 2 11 2 11 3 10 2 9 3 9 3 9 2 8 1 8 1 7 1 8 2 8 2 9 2 9 2 8 3 8 3 7 3 7 3 6 4 4 6 4 7 2 7 1 9 0 8-1 9 0 9-1 9-1 9-1 9-1 8 0 8 0 8 0 8 0 8 0 8-1 8-2 8-2 8-1 7-1 8 1 6 0 7 1 7 1 6 1 6 1 5 1 5 1 4 2 4 2 5 1 4 2 5 1 4 1 4 0 3 1 3 1 4 1 3 2 3 1 4 2 4 2 3 1 4 2 3 1 3 1 3 2 3 1 3 1 2 1M128 250l3 11 3 11 3 10 3 9 2 9 3 9 2 8 1 8 1 7 1 8 2 9 1 9 2 9 2 9 2 9 2 8 3 8 3 8 4 6 5 5 6 3 8 2 8 1 9 0 8-1 9 0 9-1 10-1 9-1 9-1 8-2 9-1 8-2 8-1 8 0 8 0 8-1 8 0 7 0 8 0 7 0 7 1 7 2 7 1 6 2 6 1 5 1 4 1 5 1 4 0 5 1 5 0 5 1 5 1 4 2 5 1 3 0 4 1 3 1 3 0 3 1 3 1 3 1 2 1 3 1 3 1 2 1 3 0 2 1 3 2 3 2 3 2 3 2 3 3 4 3 4 2M117 120l4 12 2 12 0 11 -1 12 0 13 1 14 1 14 1 15 2 14 2 13 2 11 3 11 2 10 2 9 3 9 3 9 3 8 2 8 3 7 3 7 3 6 3 7 3 6 4 5 4 4 4 2 4 2 4 1 5 1 6 0 7 1 7-1 9-1 9-1 8-1 8-1 9-1 8-1 8 0 7-1 9 0 8-1 8-1 8 0 7-1 8-1 6 0 7 0 6 0 6-1 6-1 5-1 6 0 5 0 4 1 4 2 4 3 3 2 3 2 4 2 2 3 3 4 3 4 3 4 2 4 3 4 2 4 2 3 3 3 3 3 4 3 6 2 5 2 5 2 5 2 4 2 4 2 3 1 4 3 4 3 4 3 4 5 5 4M106 155l1 12 1 13 1 14 3 14 5 15 5 14 4 13 3 11 3 11 3 10 4 9 2 9 1 9 1 8 1 8 1 8 2 9 1 9 1 9 2 11 2 10 2 10 2 8 3 9 4 7 4 5 6 4 7 3 8 1 8 1 8 0 9-1 9-1 10-1 9-2 9-1 9-1 9 0 8-1 8-1 7 0 8 0 8 0 8 0 8 1 8 1 8 1 7 1 8 0 7 1 7 1 6 2 6 1 5 1 5 2 5 0 4 0 6 0 5 0 5 0 5 0 4 0 4 0 4 0 3 0 3 1 4 1 3 0 3 1 2 1 3 1 2 1 3 1 2 1 2 0M117 144l-1 11 1 12 1 13 2 14 1 14 3 15 3 14 3 13 4 11 3 11 2 10 2 9 1 9 2 9 2 8 3 7 3 8 4 6 3 7 4 5 4 5 4 4 4 3 4 2 4 1 4 1 5 0 6 0 6 0 8 0 9 0 8-1 8-1 8-1 9-1 8-1 8-1 7 0 8 0 8 0 8 0 8-1 8-2 7-2 7-1 7-2 6 0 5 1 6 0 5 1 5 1 5 0 4 1 4 1 4 2 3 2 3 3 3 3 3 3 2 3 2 3 2 3 2 4 2 3 2 5 2 4 2 4 4 4 4 3 6 2 6 3 6 2 5 2 5 2 3 2 4 2 4 2 4 3 4 4 5 4 4 5 5 5M95 167l3 13 3 14 3 14 3 15 3 14 3 13 4 11 4 11 4 9 2 10 2 9 2 9 4 9 5 8 4 7 4 8 4 8 3 7 3 7 4 7 4 5 4 4 4 3 4 2 5 2 6 2 6 1 8 1 8 1 9 0 8-1 8 0 9-1 8-2 9-1 8-1 9-1 8-1 8-1 8-1 8-1 8-1 7 0 7 0 6 0 6 1 7 0 6 1 6 0 5 0 5 1 5 0 4 1 4 1 3 2 4 1 3 3 4 2 3 3 3 3 3 3 3 3 3 3 3 3 3 2 3 3 4 2 5 2 4 2 5 1 4 2 4 2 3 1 3 1 3 2 3 2M145 309l2 8 3 7 2 8 2 7 3 7 4 6 3 6 4 4 4 4 5 2 4 1 4 0 6 0 5 0 7 0 8 0 8 0 9-1 8 0 8 0 8-1 8-1 8-1 8-2 9-1 8-1 8-1 8-1 8 0 6 0 7 0 6 1 6 0 6 0 6 0 5-1 6-1 5-1 4-1 4 0 3 1 4 1 2 1 3 2 2 3 3 4 2 5 3 6 3 6 3 6 3 5 2 4 3 4 3 3 5 2 5 3 6 2 5 2 5 2 4 2 4 1 3 2 3 2 4 3 5 3 4 5 5 4 4 5M147 236l-2 0 0 1 1 13 1 11 2 11 1 10 2 9 1 9 2 8 0 8 1 8 -1 7 0 7 0 9 0 9 1 10 1 11 1 9 2 9 3 7 4 6 5 4 6 3 7 2 7 1 9 0 8 0 9-1 9 0 9 0 8 0 9 0 8 1 9 0 8-1 8 0 7 0 8 0 8 0 8 0 8 0 8 0 8 0 7-1 7 0 7 0 7 1 6 0 5 1 5 1 5 2 4 1 5 1 5 2 6 2 5 2 5 2 5 0 4 1 3 0 3-1 3 0 3 1 3 0 3 1 3 1 2 2 3 1 3 0 2 1 2 1 3 0M143 309l2 8 1 8 1 8 1 8 1 9 2 10 1 10 1 11 2 10 2 9 3 8 4 7 5 5 5 4 7 3 8 1 8 1 8 0 9 0 9 0 9 0 9 0 9-1 9 0 8 0 8 0 8 0 7-1 8 0 8 0 9 1 8 0 8 1 8 0 8 0 7 0 8 0 7 0 6 0 6 0 5 1 5 1 5 2 5 0 5 1 5 0 6 0 5 0 4 0 4 0 4 0 4 0 3 1 3 0 3 1 3 1 2 1 3 1 2 1 2 0 2 1 3 0 2 1 3 1 2 2 3 2 3 2 3 2M120 131l-1 0 -1 1 3 12 2 11 0 12 0 13 2 14 2 14 3 15 2 14 3 13 3 11 2 11 2 10 2 9 2 9 3 9 2 7 2 8 3 7 2 6 3 7 4 5 3 5 5 3 4 1 5 1 4 0 4 1 4 0 5 1 7 1 8 0 8 0 9-1 8-1 8-2 8-1 8-2 8-1 8-1 8-1 9-1 8 0 8-1 7-1 7-1 7-2 6-1 6-1 5 0 6 0 5 1 4 0 5 1 4 1 4 1 3 1 3 1 3 2 2 3 2 3 2 5 2 4 2 5 2 4 1 4 2 5 2 5 3 5 4 5 6 4 6 3 6 3 6 2 6 2 4 2 4 2 4 2 3 3M116 194l-3-1 0 1 3 14 2 15 2 14 3 13 2 11 3 11 3 10 4 9 3 9 3 9 2 8 2 8 2 8 2 8 2 8 1 9 2 10 3 8 3 7 4 5 4 6 4 4 4 4 6 3 7 2 7 1 9 0 8-1 9 0 8 0 9-1 9 0 8 0 9 0 8-1 8 0 8-2 8-1 9-2 7-1 8 0 8-1 7 0 7 0 7 0 7-1 6 1 6 0 6 2 5 2 4 3 5 3 4 2 4 1 5 1 4 2 5 2 4 1 4 2 3 1 3 1 3 1 3 1 3 2 4 1 3 1 4 2 4 1 3 2 3 1 3 1 2 1 3 1M149 282l2 9 2 9 1 8 0 8 1 8 2 7 3 6 3 6 4 5 3 4 3 4 4 3 3 3 4 1 4 1 4 1 6 1 6 1 8 0 8-1 9-1 8-1 9-1 8-2 8-1 8-2 8-1 9-2 8-2 8-1 8-1 8-1 7 0 6 0 6 1 6 0 5 1 6 0 5 0 5 2 5 1 4 2 4 1 4 1 3 0 2 0 3 0 2 2 2 3 2 5 2 5 2 4 1 4 2 5 2 5 3 4 4 5 6 4 6 4 7 3 6 2 5 2 4 2 4 2 3 2 4 2 4 3M112 237l1 13 3 11 3 11 4 9 3 10 3 9 2 9 1 9 1 9 2 9 4 8 4 9 3 10 3 9 3 10 4 8 3 7 4 6 4 6 4 4 6 4 6 3 8 2 8 0 9 0 8 0 9 0 9-1 10-1 9-1 8-1 9 0 8 0 7 0 8 0 8 0 8 0 8 0 8 0 8 0 7 1 8 0 7 0 7 1 7 1 6 1 6 1 5 1 4 1 5 1 5 0 4 0 5 0 5 1 5 1 4 1 5 1 4 1 4 1 3 1 4 1 2 0 3 1 2 0 3 1 2 1 3 1 2 0 3 1 2 1 3 1 3 2 3 3 3 2 3 3M112 132l-2 12 1 11 0 12 0 13 1 14 3 14 4 15 4 14 4 13 3 11 3 11 3 10 2 9 3 9 2 9 3 8 2 8 2 7 2 8 1 8 2 9 1 8 2 9 3 8 2 8 2 8 3 7 4 6 6 5 6 2 8 0 9 0 8 0 9-1 9 0 9-1 9-1 9-1 9-1 8-1 8 0 8-1 8 0 8-1 8 0 8 0 7 0 8 0 7 1 8 0 7 1 6 0 7 1 6 0 5 1 5 1 5 1 4 1 4 1 5 1 5 1 4 1 5 1 4 1 3 1 4 2 4 1 4 2 3 1 4 1 3 1 2 1 3 1 3 0 2 1 3 1 2 1 3 1M142 236l-2 0 -1 1 3 13 2 11 2 11 3 10 2 9 2 9 2 8 1 8 1 7 1 7 0 7 1 8 0 8 1 9 0 10 1 10 1 10 2 10 2 8 4 7 5 4 7 4 7 2 8 1 9 0 8 0 9-1 9 0 10-1 9-1 9 0 8-1 8 0 8 0 7-1 8 0 8 0 9 0 8 1 8 0 8 1 7 0 8 0 7 0 7 0 6 0 6 0 5 1 5 2 4 0 5 1 5 0 5 0 5 1 5 0 5 1 4 1 3 0 4 0 3 1 4 0 3 1 2 1 3 1 3 1 2 1 2 1 3 1 2 0 3 1M119 84l1 12 2 12 2 12 1 12 0 12 1 11 1 12 0 13 -1 14 -1 14 1 15 2 14 2 13 3 11 3 11 2 10 2 9 1 9 2 9 1 8 2 8 1 8 2 8 1 8 2 9 2 10 2 9 3 8 3 6 4 6 4 5 4 4 6 4 7 2 7 1 8 1 9 0 9-1 8 0 9-1 9-1 9-1 9-1 8-1 8-1 9-2 8-1 8-1 8-1 7 0 8 1 7 2 7 2 7 1 7 0 7 0 6 0 6 0 5-1 5 1 4 1 4 2 5 1 4 2 5 2 4 2 5 1 4 2 3 1 4 2 3 1 4 1 3 1 3 1 3 1 3 1 3 1 3 1 3 1 3 1 3 1 2 2 3 1 3 3 4 2 3 3 4 3M101 144l2 11 3 12 2 13 1 14 1 14 1 15 2 14 3 13 3 11 4 11 3 9 2 10 3 9 2 9 3 9 4 8 4 8 4 7 5 7 5 6 4 6 5 4 5 2 5 1 4 1 4 1 5 1 5 2 7 1 7 0 9 0 8 0 8-1 9-1 8-2 9-2 8-2 8-2 9-1 8-1 8-1 8-1 8 0 7-1 6 0 6 0 6 1 6 0 6 0 6 0 5 0 5 0 4 0 4 0 4 1 3 1 3 2 3 3 3 5 3 5 2 5 3 4 3 4 2 3 2 4 2 3 2 4 4 3 4 3 6 2 5 2 6 3 5 2 4 2 4 1 3 2 4 2 3 3 5 4M108 237l3 13 2 11 2 11 3 9 3 10 3 9 3 9 2 9 2 9 2 9 3 9 2 11 3 11 3 11 3 10 4 9 3 8 4 7 4 7 5 5 6 4 7 2 7 2 9 0 8 0 9 0 9 0 9 0 9-2 10-1 9-1 8-1 8 0 8 0 8 0 7 0 8 0 9 0M118 290l-4-1 0 1 4 10 3 9 3 10 2 9 3 9 2 10 3 11 4 11 4 11 4 10 4 8 4 6 5 6 5 5 5 5 5 4 7 3 8 1 8 0 9 0 9-1 9-1 9 0 9-1 9-2 9-1 9-1 8-1M122 319l-2-1 0 1 3 9 4 10 4 9 5 10 4 11 3 10 4 10 5 8 4 6 5 5 4 5 5 5 6 4 6 2 8 2 8 1 8 0 9 0 9 1 8 0 10-1 9 0 8-1 9-1 8-1 8-1 8-1M116 300l4 9 3 10 2 9 3 9 2 10 3 11 3 12 4 11 4 11 5 8 4 7 5 5 5 5 5 4 6 3 7 2 8 1 8 0 9 0 9-1 9 0 9 0 9-1 9-1 9 0 8-1 8 0 8 0 8 0 8 0 8 0M124 319l2 9 2 9 3 10 4 11 3 11 4 11 4 10 4 8 4 7 5 6 4 5 5 5 6 4 6 3 8 2 8 1 9 0 8-1 9 0 10-1 9-1 9-1 9 0 8 0 8 0 8 0 7 0 8 0 9-1 8 0 8-1 9 0 7 0 8 0 8 1 7 0M125 309l-2-1 -1 1 2 10 2 9 3 9 4 9 4 11 4 10 3 11 2 11 4 9 4 8 4 6 4 6 6 4 5 4 7 3 7 2 9 1 8 0 9 0 9 0 9-1 10-2 9-2 9-1 8 0 8 0 8 1 7 1 8 0 8 1 9-1 8 0 8 0 8 0 8 0 7 0 8 0 7 0 6 1M111 236l-3 0 -1 1 3 13 2 11 3 11 4 9 4 10 4 9 2 9 2 9 1 9 2 9 2 9 3 10 3 11 2 11 3 11 3 10 4 8 3 7 5 6 5 4 6 4 7 3 8 1 8 0 9 0 8 0 9 0 9-1 10 0 9-1 9-1 8 0 8-1 8 0 7 0 8 0M118 291l3 9 3 9 2 9 2 9 3 10 3 9 3 10 3 11 4 11 3 10 4 8 5 7 4 6 4 5 5 5 6 3 7 3 7 1 8 1 9 1 8 0 9 0M122 309l-4 0 0 1 3 9 4 9 3 9 3 10 3 11 3 12 4 11 4 10 4 8 5 6 5 5 5 5 5 3 6 4 7 2 8 1 8 1 8 0 9 1 8 0 9 0 9 0 9 0 9-1 9-1M128 330l7 22 6 23 5 23 6 17 8 11 12 6 18 2 25-3M132 340l7 25 7 27 9 22 11 14 19 5M122 310l8 28 7 24 6 23 6 20 9 16 12 9 25 3 35-3M113 37l-4 0 -1 5 0 6 1 6 1 8 0 8 2 10 1 15 3 15 2 15M118 50l2 3 4 7 4 10 3 9 2 7 0 14 0 10 -2 6 1 9 2 15M105 49l-3 0 0 11 0 20 1 15 2 15 3 15M113 48l-3 0 0 7 1 10 1 10M94 62l-3 0 0 4 2 0 -1 2 3 12 4 15 4 15 4 15 3 15M87 95l3 8 4 12 4 13 3 12 3 12M96 110l-3 0 2 8 3 12M97 85l2-5 4-4 3-1 2 3 2 7 2 10M120 70l-3 0 0 8 2 12 1 10M127 78l-3 1 1 11 2 15 0 15 1 10M87 160l5 12 5 13 5 15 4 12M95 228l5 12 6 15 6 15 4 15 4 15M105 258l6 0 -2 4 5 13 4 15M161 324l6 4 6 4 6 3 5 4 6 3 5 4M160 330l13 5 12 5 12 5 12 5 12 5 11 4M158 324l7 6 9 7 8 6 9 6 10 6 10 5M150 296l6 10 7 9 8 9 9 8 10 9 11 8M159 320l8 8 7 7 8 7 7 6 7 6 6 5M153 304l9 14 10 12 13 11 14 8 17 6 19 4M155 324l6 5 7 4 9 5 9 3 10 4 12 3M149 297l8 9 9 10 8 9 10 10 9 10 11 10M153 331l13 4 12 4 12 3 12 3 11 3 11 3M156 308l5 10 6 8 7 7 8 5 8 5 9 3M156 306l10 10 11 8 11 8 12 6 13 5 14 4M151 302l8 9 8 8 8 9 9 8 8 8 9 8M151 311l9 10 11 9 13 7 15 7 16 7 18 5M151 310l9 6 10 6 11 6 11 6 12 5 13 5M156 317l13 8 13 8 15 6 15 5 17 4 18 3M148 301l14 11 13 9 13 9 13 6 13 6 13 4M154 310l7 12 9 10 11 10 12 8 14 6 15 6M157 320l10 6 9 6 9 5 9 5 8 3 7 3M157 309l5 10 8 9 9 8 10 6 13 4 13 3M150 318l16 11 15 9 14 8 14 6 14 5 13 3M149 302l16 12 16 11 15 9 14 8 14 7 12 6M155 309l8 8 8 8 10 7 10 7 11 7 11 6M70 326l8 0 9 0 8 0 8 0 9 0 8 0 9 0 8 0 9-1 9 0 8 0 7-1 6 0 5-1 5-1 4-1 5 0 5 0 6 0 7-1 6 0 7 0 7 0 7 0 7 0 6 0 7 1 7 0 6 0 7 1 7 0 7 0 7 0 7-1 6 0 6 0 5 0 4 0 4 1 4 1 4 1 5 1 4 3 5 2 5 3 5 3 5 3 4 2 3 2 3 2 3 1 2 2 3 2 2 2 2 4 2 3 1 4 2 5 2 4 2 4 2 4 1 4 2 4 2 4 3 3 3 3 4 3 4 3 5 2 5 2 5 2 5 2 4 2 3 2 3 2M95 370l8-1 9-1 8-1 9-2 8-2 9-3 9-2 8-2 7-2 6 0 5 0 5 1 4 1 5 0 5-1 6 0 7-1 6-1 7-1 7-1 7-1 7-1 6-1 7 0 7-1 6-1 7-1 7 0 7-1 7-1 6-1 7 0 6-1 6 0 5 0 4 0 5 0 5 1 4 0 5 1 4 1 5 0 4 1 4 0 3 1 3 1 3 1 2 1 2 1 2 1 2 3 2 3 2 3 2 4 2 5 2 4 1 4 2 4 2 4 1 4 2 4 3 3 3 4 4 2 4 3 5 2 6 2M87 338l8 0 8 0 9 0 8-1 9-1 8 0 9-1 9-1 8-1 7 0 6 0 5 0 5 1 4 0 5-1 5 0 6-2 7-1 6-2 7-1 7-2 7 0 7-1 6 0 7 0 7-1 6 0 7 0 7 0 7 1 7 1 7 1 6 0 6 1 5 1 5 1 4 1 4 0 5 0 4 1 4 1 5 2 5 1 5 2 4 3 4 2 3 2 3 1 3 2 2 1 2 2 2 3 2 3 2 4 2 4 2 4 2 4 1 4 2 4 2 4 2 4 2 4 2 3 3 4 4 2 5 3 5 2 5 2 5 2 4 2 4 2 4 2 3 2M95 377l8-1 9-1 8-1 9-2 8-3 9-3 9-3 8-2 7-2 6-1 5 0 5 1 4 0 5 0 5 0 6 0 7-1 6-1 7 0 7-1 7-1 7-1 6-1 7-1 7-1 6-1 7-1 7-1 7-1 7-1 6-1 7-1 6-1 6-1 5-1 4 0 5 0 5 1 4 0 5 1 4 1 5 0 4 1 4 0 3 1 3 1 3 1 2 0 2 2 2 1 2 3 3 3 1 3 2 4 2 5 1 4 2 4 2 4 2 4 1 4 2 4 2 4 3 3 4 3 5 2 5 2M129 323l8 0 9 0 9 0 8 0 7 0 6 0 5 0 5-1 4 0 5 0 5 0 6-1 7 0 6-1 7-1 7 0 7-1 7-1 6 0 7-1 7 0 6 0 7 0 7 0 7 0 7 1 7 0 6 1 6 1 5 0 4 1 4 1 4 1 4 1 4 1 5 2 5 3 5 3 5 3 5 3 4 2 3 2 3 2 3 2 2 1 3 2 2 3 2 3 2 4 2 4 1 5 2 4 2 4 2 4 2 4 1 4 2 3 3 4 3 3 4 3 4 2 5 3 6 2 4 2 5 2M103 345l9 0 8-1 9-1 8-1 9-1 9-1 8-1 7-1 6 0 5 0 5 1 4 0 5 0 5 0 6 0 7-1 6 0 7-1 7 0 7-1 7-1 6-2 7-1 7-1 6-1 7-1 7-1 7 0 7 1 7 0 6 1 6 0 5 1 5 0 5 1 4 0 4 1 4 1 5 1 5 2 4 1 5 2 4 2 4 1 3 2 3 1 3 1 2 1 2 2 2 3 2 3 2 4 2 4 2 4 1 4 2 4 2 4 2 4 1 4 2 4 3 4 3 3 4 3 4 2 5 2M87 343l8-1 8 0 9 0 8-1 9-1 8-1 9-1 9-1 8 0 7-1 6 0 5 0 5 1 4 0 5 1 5 0 6 0 7 0 6-1 7 0 7-1 7-1 7-1 6-1 7-1 7-2 6-1 7 0 7-1 7 0 7 0 7 0 6 0 6 0 5 0 5 1 4 0 4 0 4 1 5 1 4 1 5 2 5 2 5 2 4 2 4 2 3 2 3 1 3 2 2 1 2 2 2 3 2 3 2 4 2 4 2 4 1 4 2 4 2 4 2 4 1 4 2 4 3 4 3 3 4 3 4 2 6 2 5 2 5 2 4 2 4 2 4 2 3 2M129 368l8-3 9-2 9-3 8-2 7-1 6-1 5 0 5 1 4 0 5 0 5-1 6-2 7-1 6-2 7-2 7-2 7 0 7-1 6 0 7-1 7 0 6-1 7 0 7-1 7 0 7 0 6 0 7 0 6 0 6 0 5 0 5 1 4-1 5 0 4 0 5 0 4 0 4 0 5 1 3 1 4 1 3 1 3 0 2 1 2 2 2 1 2 3 2 3 2 3 2 4 2 5 1 4 2 4 2 4 2 4 1 4 2 4 2 4 3 3 4 3 5 2 5 2 6 2 5 2 4 2 4 2M87 366l8-1 8-1 9 0 8-2 9-1 8-2 9-3 9-2 8-2 7-2 6-2 5-1 5-1 4 0 5 0 5 1 6 0 7 1 6 0 7 1 7 0 7 0 7-2 6-1 7-2 7-1 6-1 7-2 7-1 7 0 7 0 7-1 6 0 6 0 5 0 6 1 4 0 5 0 4 1 5 1 4 0 5 1 4 1 5 1 3 1 4 1 3 0 3 1 2 1 2 2 2 1 2 3 2 3 2 3 2 4 2 4 2 5 2 4 1 4 2 4 2 4 1 4 3 3 3 3 4 3 5 3 5 2 5 2 5 2M129 335l8-1 9-1 9-1 8 0 7-1 6-1 5 0 5 0 4-1 5 0 5-1 6-1 7-1 6-2 7-1 7-1 7-1 7 0 6 0 7 1 7 0 6 0 7 0 7 0 7 0 7 1 7 0 6 0 6 1 5 0 5 1 4 0 4 1 4 1 4 1 5 1 5 3 5 2 4 2 5 3 4 2 3 2 3 2 3 1 2 2 2 2 2 3 2 3 2 4 2 4 2 4 2 4 1 4 2 4 2 4 2 4 2 4 2 3 3 3 4 3 5 3 5 2 5 2 5 2 5 2 3 2 4 2 3 2 3 2 3 2 4 2M87 359l8-1 8-1 9 0 8-1 9-2 8-2 9-1 9-2 8-2 7-2 6-1 5-1 5 0 4 0 5 0 5 0 6 0 7 1 6 0 7 0 7 0 7-1 7-1 6-2 7-2 7-1 6-2 7-1 7-1 7 0 7 0 7 0 6 0 6 1 5 0 5 1 5 0 4 1 5 1 4 1 5 1 5 1 4 2 4 1 4 1 4 1 3 1 3 1 2 1 2 1 3 2 2 2 2 3 2 4 1 4 2 4 2 5 2 4 2 4 1 4 2 4 2 3 2 4 3 3 4 3 5 2 5 2M112 378l8-2 9-2 8-3 9-3 9-3 8-3 7-2 6-1 5-1 5-1 4 0 5 0 5-1 6 0 7 0 6-1 7 0 7 0 7-1 7 0 6-1 7 0 7-1 6-1 7 0 7-1 7-1 7 0 6-1 7 0 6-1 6 0 5 0 5 0 5 0 5 0 4-1 4 0 5 0 4 0 4 0 4 0 3 1 3 1 3 0 2 1 2 1 2 2 2 2 2 3 2 4 2 4 1 4 2 4 2 4 2 4 1 4 2 4 2 4 2 4 3 3 4 3 5 2 5 2 5 2 5 2 5 2 4 2M95 331l8 0 9 0 8-1 9 0 8 0 9-1 9 0 8-1 7 0 6 1 5 1 5 1 4 1 5 0 5-1 6 0 7-2 6-1 7-1 7-2 7-1 7 0 6-1 7 0 7 0 6-1 7 0 7 0 7 0 7 0 7 0 6 0 6 0 5 0 4 0 4 0 4 1 4 1 5 2 4 2 5 2 5 3 5 3 5 3 4 2 3 2 3 2 3 1 2 2 2 2 3 2 2 4 2 3 1 5 2 4 2 4 2 4 2 4 1 4 2 4 2 4 3 3 3 3 4 3 4 2 5 3 6 2 5 2 4 2 4 2 3 2 3 2M95 362l8-1 9-1 8-1 9-1 8-2 9-2 9-2 8-2 7-1 6 0 5-1 5 0 4 0 5 0 5 0 6-1 7 0 6-1 7-1 7-1 7-1 7 0 6-2 7-1 7-1 6-1 7 0 7-1 7-1 7 0 7 0 6-1 6 0 5 0 5 0 5 0 4 1 5 0 4 1 5 1 4 1 5 1 4 2 4 1 4 2 3 1 3 1 2 1 2 1 2 2 3 2 2 3 1 4 2 4 2 4 2 5 2 4 1 4 2 4 2 4 2 3 2 4 3 3 4 3 5 3 5 2 5 2 5 2 5 2M129 328l8-1 9 0 9 0 8-1 7 0 6 0 5 0 5 0 4 1 5 0 5 1 6 0 7 0 6 0 7 0 7-1 7 0 7-1 6-1 7-1 7-1 6-1 7 0 7-1 7 0 7 0 7 0 6 0 6 0 5 1 4 0 4 0 4 1 4 1 4 1 5 2 5 2 5 3 5 3 5 3 4 2 3 3 3 1 3 2 2 2 3 2 2 2 2 4 2 3 1 5 2 4 2 4 2 4 2 4 1 4 2 4 2 3 3 4 3 3 4 3 4 2 5 3 6 2 4 2M103 349l9 0 8-1 9-1 8-1 9-2 9-1 8-2 7-1 6-1 5-1 5 0 4-1 5 0 5 0 6 0 7 0 6 0 7 0 7-1 7 0 7-1 6 0 7-1 7-1 6 0 7-1 7 0 7 0 7 0 7 0 6 0 6 0 5 0 5 1 5 0 4 0 4 1 5 1 4 0 5 2 4 1 5 2 4 2 4 1 3 2 3 1 3 1 2 2 2 2 2 2 2 3 2 4 2 4 2 4 1 4 2 4 2 4 2 4 2 4 2 4 2 3 3 4 4 3 4 2 5 2 6 2 5 2 4 2 4 2 3 2 4 2 3 2" stroke="#00f" stroke-width="1" stroke-linejoin="round"/>
<path d="M462 433L486 453L508 471L554 516" stroke="#00f" stroke-width="3.2"/>
</g>
<path d="M114.2 115.9L111.2 128.0L122.8 178.5L135.0 239.0L146.6 290.0L156.9 334.0L162.8 357.8L173.0 378.4L185.0 390.0L217.3 392.2L250.0 386.0L265.4 382.8L303.7 369.6L347.8 354.8L362.6 351.0L374.4 350.4L389.1 357.8L399.5 378.4L412.4 402.0L424.2 408.4L443.4 415.2L456.6 425.5L480.2 447.6L490.5 453.5L506.2 469.7" stroke="#0f0" stroke-width="3" stroke-linejoin="round"/>
</g>
<g stroke="#000" stroke-width="1" fill="none" shape-rendering="crispEdges">
<path d="M74.5 37V517.5H555"/>
<path d="M100.5 517V512M141.5 517V512M183.5 517V512M224.5 517V512M266.5 517V512M307.5 517V512M348.5 517V512M390.5 517V512M431.5 517V512M473.5 517V512M514.5 517V512M75 511.5H79.5M75 428.5H79.5M75 346.5H79.5M75 263.5H79.5M75 181.5H79.5M75 98.5H79.5"/>
<path d="M520 310.5H527M523.5 307V314"/>
</g>
<g shape-rendering="crispEdges"><rect x="342" y="52" width="30" height="3" fill="#0f0"/><rect x="357" y="51" width="1" height="1" fill="#0f0"/></g>
<defs><filter id="th" x="0" y="0" width="100%" height="100%" filterUnits="userSpaceOnUse" color-interpolation-filters="sRGB"><feComponentTransfer><feFuncA type="discrete" tableValues="0 0 0 0 1 1 1 1"/></feComponentTransfer></filter></defs>
<g filter="url(#th)">
<text x="315.1" y="24.6" font-size="18" text-anchor="middle" font-family="Liberation Sans, sans-serif" fill="#000">TS Plot / Tracé TS</text>
<text x="375.9" y="59" font-size="13.9" font-family="Liberation Sans, sans-serif" fill="#000">Most Recent | Dernier profil</text>
<text x="100.5" y="532" font-size="13.15" text-anchor="middle" font-family="Liberation Sans, sans-serif" fill="#000">32.4</text>
<text x="141.9" y="532" font-size="13.15" text-anchor="middle" font-family="Liberation Sans, sans-serif" fill="#000">32.6</text>
<text x="183.3" y="532" font-size="13.15" text-anchor="middle" font-family="Liberation Sans, sans-serif" fill="#000">32.8</text>
<text x="224.7" y="532" font-size="13.15" text-anchor="middle" font-family="Liberation Sans, sans-serif" fill="#000">33</text>
<text x="266.1" y="532" font-size="13.15" text-anchor="middle" font-family="Liberation Sans, sans-serif" fill="#000">33.2</text>
<text x="307.5" y="532" font-size="13.15" text-anchor="middle" font-family="Liberation Sans, sans-serif" fill="#000">33.4</text>
<text x="348.9" y="532" font-size="13.15" text-anchor="middle" font-family="Liberation Sans, sans-serif" fill="#000">33.6</text>
<text x="390.3" y="532" font-size="13.15" text-anchor="middle" font-family="Liberation Sans, sans-serif" fill="#000">33.8</text>
<text x="431.7" y="532" font-size="13.15" text-anchor="middle" font-family="Liberation Sans, sans-serif" fill="#000">34</text>
<text x="473.1" y="532" font-size="13.15" text-anchor="middle" font-family="Liberation Sans, sans-serif" fill="#000">34.2</text>
<text x="514.5" y="532" font-size="13.15" text-anchor="middle" font-family="Liberation Sans, sans-serif" fill="#000">34.4</text>
<text x="71.5" y="516.2" font-size="13.15" text-anchor="end" font-family="Liberation Sans, sans-serif" fill="#000">2</text>
<text x="71.5" y="433.6" font-size="13.15" text-anchor="end" font-family="Liberation Sans, sans-serif" fill="#000">4</text>
<text x="71.5" y="351.0" font-size="13.15" text-anchor="end" font-family="Liberation Sans, sans-serif" fill="#000">6</text>
<text x="71.5" y="268.4" font-size="13.15" text-anchor="end" font-family="Liberation Sans, sans-serif" fill="#000">8</text>
<text x="71.5" y="185.8" font-size="13.15" text-anchor="end" font-family="Liberation Sans, sans-serif" fill="#000">10</text>
<text x="71.5" y="103.2" font-size="13.15" text-anchor="end" font-family="Liberation Sans, sans-serif" fill="#000">12</text>
<text x="312.8" y="548.6" font-size="15.9" text-anchor="middle" font-family="Liberation Sans, sans-serif" fill="#000">Salinity / Salinité (PSU)</text>
<text transform="translate(45,276) rotate(-90)" font-size="16.1" text-anchor="middle" font-family="Liberation Sans, sans-serif" fill="#000">Temperature / Température (°C)</text>
<text x="523.2" y="306.9" font-size="14.6" font-family="Liberation Sans, sans-serif" fill="#000">27</text>
<text x="79.2" y="583.4" font-size="13.9" font-weight="bold" font-family="Liberation Sans, sans-serif" fill="#000">Float/Profileur dérivant:</text>
<text x="242" y="583.4" font-size="13.85" font-family="Liberation Sans, sans-serif" fill="#000">4901073</text>
<text x="79.2" y="603.4" font-size="13.9" font-weight="bold" font-family="Liberation Sans, sans-serif" fill="#000">Period/Période:</text>
<text x="188.3" y="603.4" font-size="13.6" font-family="Liberation Sans, sans-serif" fill="#000">6/13/2007</text>
<text x="258.8" y="603.4" font-size="13.6" font-family="Liberation Sans, sans-serif" fill="#000">to/à</text>
<text x="289.4" y="603.4" font-size="13.6" font-family="Liberation Sans, sans-serif" fill="#000">9/13/2012</text>
</g>
<defs><filter id="th2" x="0" y="0" width="100%" height="100%" filterUnits="userSpaceOnUse" color-interpolation-filters="sRGB"><feComponentTransfer><feFuncA type="discrete" tableValues="0 0 1 1 1"/></feComponentTransfer></filter></defs>
<g filter="url(#th2)">
<text x="453" y="663" font-size="10.4" font-family="Liberation Sans, sans-serif" fill="#000">ISDM</text>
<text x="481.2" y="663" font-size="10.4" font-family="Liberation Sans, sans-serif" fill="#000">|</text>
<text x="486.6" y="663" font-size="10.4" font-family="Liberation Sans, sans-serif" fill="#000">GDSI</text>
<text x="555" y="663" font-size="10" text-anchor="end" font-family="Liberation Sans, sans-serif" fill="#000">10/14/12</text>
</g>
</svg>
</body></html>
